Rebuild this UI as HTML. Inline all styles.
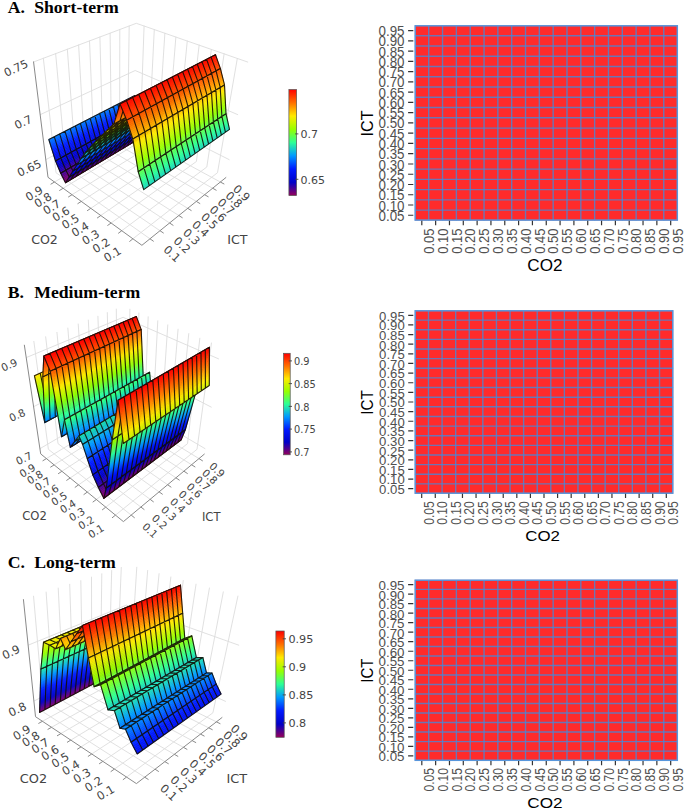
<!DOCTYPE html>
<html><head><meta charset="utf-8"><title>Figure</title>
<style>html,body{margin:0;padding:0;background:#fff}svg{display:block}</style></head><body>
<svg width="685" height="810" viewBox="0 0 685 810">
<rect width="685" height="810" fill="#fff"/>
<!-- plot A -->
<g><line x1="150.0" y1="238.8" x2="56.0" y2="172.7" stroke="#dcdcdc" stroke-width="0.9"/><line x1="132.9" y1="238.8" x2="217.5" y2="172.7" stroke="#dcdcdc" stroke-width="0.9"/><line x1="56.0" y1="172.7" x2="43.3" y2="57.8" stroke="#dcdcdc" stroke-width="0.9"/><line x1="217.5" y1="172.7" x2="237.4" y2="58.0" stroke="#dcdcdc" stroke-width="0.9"/><line x1="160.0" y1="230.7" x2="66.0" y2="167.0" stroke="#dcdcdc" stroke-width="0.9"/><line x1="121.8" y1="230.7" x2="206.8" y2="167.0" stroke="#dcdcdc" stroke-width="0.9"/><line x1="66.0" y1="167.0" x2="55.6" y2="53.2" stroke="#dcdcdc" stroke-width="0.9"/><line x1="206.8" y1="167.0" x2="224.2" y2="53.4" stroke="#dcdcdc" stroke-width="0.9"/><line x1="169.6" y1="223.0" x2="75.7" y2="161.5" stroke="#dcdcdc" stroke-width="0.9"/><line x1="111.1" y1="223.0" x2="196.4" y2="161.5" stroke="#dcdcdc" stroke-width="0.9"/><line x1="75.7" y1="161.5" x2="67.3" y2="48.8" stroke="#dcdcdc" stroke-width="0.9"/><line x1="196.4" y1="161.5" x2="211.4" y2="49.0" stroke="#dcdcdc" stroke-width="0.9"/><line x1="178.8" y1="215.5" x2="85.0" y2="156.1" stroke="#dcdcdc" stroke-width="0.9"/><line x1="100.8" y1="215.5" x2="186.3" y2="156.1" stroke="#dcdcdc" stroke-width="0.9"/><line x1="85.0" y1="156.1" x2="78.6" y2="44.6" stroke="#dcdcdc" stroke-width="0.9"/><line x1="186.3" y1="156.1" x2="199.2" y2="44.7" stroke="#dcdcdc" stroke-width="0.9"/><line x1="187.7" y1="208.3" x2="94.1" y2="150.9" stroke="#dcdcdc" stroke-width="0.9"/><line x1="90.8" y1="208.3" x2="176.5" y2="150.9" stroke="#dcdcdc" stroke-width="0.9"/><line x1="94.1" y1="150.9" x2="89.5" y2="40.5" stroke="#dcdcdc" stroke-width="0.9"/><line x1="176.5" y1="150.9" x2="187.3" y2="40.6" stroke="#dcdcdc" stroke-width="0.9"/><line x1="196.3" y1="201.4" x2="102.9" y2="145.9" stroke="#dcdcdc" stroke-width="0.9"/><line x1="81.3" y1="201.4" x2="167.1" y2="145.9" stroke="#dcdcdc" stroke-width="0.9"/><line x1="102.9" y1="145.9" x2="99.9" y2="36.6" stroke="#dcdcdc" stroke-width="0.9"/><line x1="167.1" y1="145.9" x2="175.9" y2="36.7" stroke="#dcdcdc" stroke-width="0.9"/><line x1="204.6" y1="194.7" x2="111.4" y2="141.0" stroke="#dcdcdc" stroke-width="0.9"/><line x1="72.0" y1="194.7" x2="157.9" y2="141.0" stroke="#dcdcdc" stroke-width="0.9"/><line x1="111.4" y1="141.0" x2="110.1" y2="32.8" stroke="#dcdcdc" stroke-width="0.9"/><line x1="157.9" y1="141.0" x2="164.9" y2="32.8" stroke="#dcdcdc" stroke-width="0.9"/><line x1="212.6" y1="188.2" x2="119.6" y2="136.3" stroke="#dcdcdc" stroke-width="0.9"/><line x1="63.1" y1="188.3" x2="149.0" y2="136.3" stroke="#dcdcdc" stroke-width="0.9"/><line x1="119.6" y1="136.3" x2="119.8" y2="29.1" stroke="#dcdcdc" stroke-width="0.9"/><line x1="149.0" y1="136.3" x2="154.3" y2="29.2" stroke="#dcdcdc" stroke-width="0.9"/><line x1="220.3" y1="182.0" x2="127.7" y2="131.7" stroke="#dcdcdc" stroke-width="0.9"/><line x1="54.5" y1="182.0" x2="140.3" y2="131.7" stroke="#dcdcdc" stroke-width="0.9"/><line x1="127.7" y1="131.7" x2="129.2" y2="25.6" stroke="#dcdcdc" stroke-width="0.9"/><line x1="140.3" y1="131.7" x2="144.1" y2="25.6" stroke="#dcdcdc" stroke-width="0.9"/><line x1="45.8" y1="159.7" x2="134.2" y2="111.8" stroke="#dcdcdc" stroke-width="0.9"/><line x1="134.2" y1="111.8" x2="229.5" y2="159.8" stroke="#dcdcdc" stroke-width="0.9"/><line x1="40.1" y1="114.7" x2="135.2" y2="70.5" stroke="#dcdcdc" stroke-width="0.9"/><line x1="135.2" y1="70.5" x2="238.1" y2="114.8" stroke="#dcdcdc" stroke-width="0.9"/><line x1="33.5" y1="62.0" x2="136.3" y2="23.3" stroke="#dcdcdc" stroke-width="0.9"/><line x1="136.3" y1="23.3" x2="248.1" y2="62.2" stroke="#dcdcdc" stroke-width="0.9"/></g>
<line x1="48.0" y1="177.3" x2="141.9" y2="245.3" stroke="#8a8a8a" stroke-width="1"/>
<line x1="141.9" y1="245.3" x2="226.2" y2="177.3" stroke="#8a8a8a" stroke-width="1"/>
<line x1="48.0" y1="177.3" x2="33.5" y2="61.5" stroke="#8a8a8a" stroke-width="1"/>
<g><polygon points="48.8,139.5 134.8,95.5 135.0,96.6 49.2,140.8" fill="#007dff" stroke="#007dff" stroke-width="0.6"/><polygon points="49.2,140.8 135.0,96.6 135.3,97.8 49.6,142.1" fill="#0072ff" stroke="#0072ff" stroke-width="0.6"/><polygon points="49.6,142.1 135.3,97.8 135.5,98.9 50.0,143.3" fill="#0067ff" stroke="#0067ff" stroke-width="0.6"/><polygon points="50.0,143.3 135.5,98.9 135.8,100.1 50.4,144.6" fill="#005cff" stroke="#005cff" stroke-width="0.6"/><polygon points="50.4,144.6 135.8,100.1 136.0,101.2 50.8,145.9" fill="#0052ff" stroke="#0052ff" stroke-width="0.6"/><polygon points="50.8,145.9 136.0,101.2 136.3,102.4 51.2,147.2" fill="#0047ff" stroke="#0047ff" stroke-width="0.6"/><polygon points="51.2,147.2 136.3,102.4 136.5,103.5 51.6,148.4" fill="#003cff" stroke="#003cff" stroke-width="0.6"/><polygon points="51.6,148.4 136.5,103.5 136.8,104.6 52.0,149.7" fill="#0031ff" stroke="#0031ff" stroke-width="0.6"/><polygon points="52.0,149.7 136.8,104.6 137.0,105.8 52.4,150.9" fill="#0027ff" stroke="#0027ff" stroke-width="0.6"/><polygon points="52.4,150.9 137.0,105.8 137.2,106.9 52.8,152.2" fill="#001cff" stroke="#001cff" stroke-width="0.6"/><polygon points="52.8,152.2 137.2,106.9 137.5,108.0 53.2,153.5" fill="#0017fc" stroke="#0017fc" stroke-width="0.6"/><polygon points="53.2,153.5 137.5,108.0 137.7,109.2 53.6,154.7" fill="#0015f7" stroke="#0015f7" stroke-width="0.6"/><polygon points="53.6,154.7 137.7,109.2 138.0,110.3 53.9,155.9" fill="#0013f2" stroke="#0013f2" stroke-width="0.6"/><polygon points="53.9,155.9 138.0,110.3 138.2,111.4 54.3,157.2" fill="#0011ee" stroke="#0011ee" stroke-width="0.6"/><polygon points="54.3,157.2 138.2,111.4 138.5,112.5 54.7,158.4" fill="#000fe9" stroke="#000fe9" stroke-width="0.6"/><polygon points="54.7,158.4 138.5,112.5 138.7,113.6 55.1,159.7" fill="#000de4" stroke="#000de4" stroke-width="0.6"/><polygon points="55.1,159.7 138.7,113.6 139.0,114.8 55.5,160.9" fill="#000be0" stroke="#000be0" stroke-width="0.6"/><path d="M48.8 139.5L55.5 160.9M54.3 136.7L60.8 158.0M59.7 133.9L66.1 155.1M65.0 131.2L71.2 152.2M70.2 128.5L76.3 149.4M75.4 125.9L81.2 146.7M80.4 123.3L86.1 144.0M85.4 120.8L90.9 141.3M90.2 118.3L95.7 138.7M95.0 115.8L100.3 136.1M99.7 113.4L104.9 133.6M104.4 111.1L109.4 131.1M108.9 108.7L113.8 128.7M113.4 106.4L118.2 126.3M117.8 104.2L122.5 123.9M122.1 101.9L126.7 121.6M126.4 99.8L130.8 119.3M130.6 97.6L134.9 117.0M134.8 95.5L139.0 114.8M48.8 139.5L134.8 95.5M55.5 160.9L139.0 114.8" stroke="#120d06" stroke-opacity="0.9" stroke-width="1.12" fill="none" stroke-linecap="round"/><polygon points="55.5,160.9 139.0,114.8 139.4,116.0 56.1,162.3" fill="#0009db" stroke="#0009db" stroke-width="0.6"/><polygon points="56.1,162.3 139.4,116.0 139.8,117.2 56.7,163.7" fill="#0006d6" stroke="#0006d6" stroke-width="0.6"/><polygon points="56.7,163.7 139.8,117.2 140.3,118.5 57.2,165.1" fill="#0004d1" stroke="#0004d1" stroke-width="0.6"/><polygon points="57.2,165.1 140.3,118.5 140.7,119.7 57.8,166.4" fill="#0002cd" stroke="#0002cd" stroke-width="0.6"/><polygon points="57.8,166.4 140.7,119.7 141.1,120.9 58.4,167.8" fill="#0100c8" stroke="#0100c8" stroke-width="0.6"/><polygon points="58.4,167.8 141.1,120.9 141.6,122.1 59.0,169.2" fill="#0e00be" stroke="#0e00be" stroke-width="0.6"/><polygon points="59.0,169.2 141.6,122.1 142.0,123.4 59.6,170.6" fill="#1b00b5" stroke="#1b00b5" stroke-width="0.6"/><polygon points="59.6,170.6 142.0,123.4 142.4,124.6 60.1,171.9" fill="#2800ab" stroke="#2800ab" stroke-width="0.6"/><polygon points="60.1,171.9 142.4,124.6 142.9,125.8 60.7,173.3" fill="#3500a1" stroke="#3500a1" stroke-width="0.6"/><path d="M55.5 160.9L60.7 173.3M60.8 158.0L65.9 170.3M66.1 155.1L71.1 167.3M71.2 152.2L76.1 164.4M76.3 149.4L81.1 161.5M81.2 146.7L86.0 158.7M86.1 144.0L90.8 155.9M90.9 141.3L95.6 153.1M95.7 138.7L100.2 150.5M100.3 136.1L104.8 147.8M104.9 133.6L109.3 145.2M109.4 131.1L113.7 142.6M113.8 128.7L118.1 140.1M118.2 126.3L122.4 137.6M122.5 123.9L126.6 135.2M126.7 121.6L130.8 132.8M130.8 119.3L134.8 130.4M134.9 117.0L138.9 128.1M139.0 114.8L142.9 125.8M55.5 160.9L139.0 114.8M60.7 173.3L142.9 125.8" stroke="#120d06" stroke-opacity="0.9" stroke-width="1.12" fill="none" stroke-linecap="round"/><polygon points="60.7,173.3 142.9,125.8 143.4,127.0 61.4,174.6" fill="#410098" stroke="#410098" stroke-width="0.6"/><polygon points="61.4,174.6 143.4,127.0 144.0,128.2 62.1,176.0" fill="#4d0090" stroke="#4d0090" stroke-width="0.6"/><polygon points="62.1,176.0 144.0,128.2 144.5,129.3 62.8,177.3" fill="#580087" stroke="#580087" stroke-width="0.6"/><polygon points="62.8,177.3 144.5,129.3 145.1,130.5 63.4,178.7" fill="#64007f" stroke="#64007f" stroke-width="0.6"/><polygon points="63.4,178.7 145.1,130.5 145.7,131.7 64.1,180.0" fill="#700076" stroke="#700076" stroke-width="0.6"/><polygon points="64.1,180.0 145.7,131.7 146.2,132.9 64.8,181.4" fill="#7b006e" stroke="#7b006e" stroke-width="0.6"/><polygon points="64.8,181.4 146.2,132.9 146.8,134.1 65.5,182.7" fill="#870065" stroke="#870065" stroke-width="0.6"/><path d="M60.7 173.3L65.5 182.7M65.9 170.3L70.7 179.6M71.1 167.3L75.8 176.6M76.1 164.4L80.8 173.6M81.1 161.5L85.7 170.6M86.0 158.7L90.5 167.7M90.8 155.9L95.3 164.9M95.6 153.1L100.0 162.1M100.2 150.5L104.6 159.3M104.8 147.8L109.1 156.6M109.3 145.2L113.6 153.9M113.7 142.6L117.9 151.3M118.1 140.1L122.3 148.7M122.4 137.6L126.5 146.2M126.6 135.2L130.7 143.7M130.8 132.8L134.8 141.2M134.8 130.4L138.8 138.8M138.9 128.1L142.8 136.4M142.9 125.8L146.8 134.1M60.7 173.3L142.9 125.8M65.5 182.7L146.8 134.1" stroke="#120d06" stroke-opacity="0.9" stroke-width="1.12" fill="none" stroke-linecap="round"/><polygon points="65.5,182.7 146.8,134.1 147.3,133.4 65.9,182.1" fill="#870065" stroke="#870065" stroke-width="0.6"/><polygon points="65.9,182.1 147.3,133.4 147.8,132.8 66.3,181.5" fill="#7a006e" stroke="#7a006e" stroke-width="0.6"/><polygon points="66.3,181.5 147.8,132.8 148.4,132.1 66.7,180.8" fill="#6e0077" stroke="#6e0077" stroke-width="0.6"/><polygon points="66.7,180.8 148.4,132.1 148.9,131.4 67.1,180.2" fill="#620080" stroke="#620080" stroke-width="0.6"/><polygon points="67.1,180.2 148.9,131.4 149.5,130.8 67.5,179.6" fill="#55008a" stroke="#55008a" stroke-width="0.6"/><polygon points="67.5,179.6 149.5,130.8 150.0,130.1 67.9,178.9" fill="#490093" stroke="#490093" stroke-width="0.6"/><polygon points="67.9,178.9 150.0,130.1 150.6,129.4 68.4,178.3" fill="#3d009c" stroke="#3d009c" stroke-width="0.6"/><polygon points="68.4,178.3 150.6,129.4 151.1,128.8 68.8,177.6" fill="#3000a5" stroke="#3000a5" stroke-width="0.6"/><polygon points="68.8,177.6 151.1,128.8 151.7,128.1 69.2,177.0" fill="#2400ae" stroke="#2400ae" stroke-width="0.6"/><path d="M65.5 182.7L69.2 177.0M70.7 179.6L74.5 173.9M75.8 176.6L79.7 170.8M80.8 173.6L84.8 167.8M85.7 170.6L89.8 164.8M90.5 167.7L94.7 161.9M95.3 164.9L99.5 159.0M100.0 162.1L104.3 156.2M104.6 159.3L108.9 153.4M109.1 156.6L113.5 150.7M113.6 153.9L118.0 148.0M117.9 151.3L122.5 145.4M122.3 148.7L126.9 142.8M126.5 146.2L131.2 140.3M130.7 143.7L135.4 137.8M134.8 141.2L139.6 135.3M138.8 138.8L143.7 132.9M142.8 136.4L147.7 130.5M146.8 134.1L151.7 128.1M65.5 182.7L146.8 134.1M69.2 177.0L151.7 128.1" stroke="#120d06" stroke-opacity="0.9" stroke-width="1.02" fill="none" stroke-linecap="round"/><polygon points="69.2,177.0 151.7,128.1 152.2,127.4 69.6,176.3" fill="#1800b7" stroke="#1800b7" stroke-width="0.6"/><polygon points="69.6,176.3 152.2,127.4 152.8,126.7 70.0,175.7" fill="#0b00c0" stroke="#0b00c0" stroke-width="0.6"/><polygon points="70.0,175.7 152.8,126.7 153.4,126.1 70.4,175.0" fill="#0000c8" stroke="#0000c8" stroke-width="0.6"/><polygon points="70.4,175.0 153.4,126.1 153.9,125.4 70.9,174.4" fill="#0002cd" stroke="#0002cd" stroke-width="0.6"/><polygon points="70.9,174.4 153.9,125.4 154.5,124.7 71.3,173.7" fill="#0004d1" stroke="#0004d1" stroke-width="0.6"/><polygon points="71.3,173.7 154.5,124.7 155.0,124.0 71.7,173.0" fill="#0006d6" stroke="#0006d6" stroke-width="0.6"/><polygon points="71.7,173.0 155.0,124.0 155.6,123.3 72.1,172.4" fill="#0008da" stroke="#0008da" stroke-width="0.6"/><polygon points="72.1,172.4 155.6,123.3 156.2,122.6 72.6,171.7" fill="#000adf" stroke="#000adf" stroke-width="0.6"/><polygon points="72.6,171.7 156.2,122.6 156.7,121.9 73.0,171.0" fill="#000ce3" stroke="#000ce3" stroke-width="0.6"/><path d="M69.2 177.0L73.0 171.0M74.5 173.9L78.4 167.8M79.7 170.8L83.6 164.8M84.8 167.8L88.8 161.7M89.8 164.8L93.9 158.7M94.7 161.9L98.9 155.8M99.5 159.0L103.8 152.9M104.3 156.2L108.7 150.1M108.9 153.4L113.4 147.3M113.5 150.7L118.1 144.6M118.0 148.0L122.7 141.9M122.5 145.4L127.2 139.2M126.9 142.8L131.6 136.6M131.2 140.3L136.0 134.1M135.4 137.8L140.3 131.6M139.6 135.3L144.5 129.1M143.7 132.9L148.6 126.6M147.7 130.5L152.7 124.3M151.7 128.1L156.7 121.9M69.2 177.0L151.7 128.1M73.0 171.0L156.7 121.9" stroke="#120d06" stroke-opacity="0.9" stroke-width="1.02" fill="none" stroke-linecap="round"/><polygon points="73.0,171.0 156.7,121.9 157.3,121.2 73.4,170.3" fill="#000ee8" stroke="#000ee8" stroke-width="0.6"/><polygon points="73.4,170.3 157.3,121.2 157.9,120.5 73.9,169.6" fill="#0011ec" stroke="#0011ec" stroke-width="0.6"/><polygon points="73.9,169.6 157.9,120.5 158.5,119.8 74.3,168.9" fill="#0013f1" stroke="#0013f1" stroke-width="0.6"/><polygon points="74.3,168.9 158.5,119.8 159.1,119.0 74.8,168.2" fill="#0015f5" stroke="#0015f5" stroke-width="0.6"/><polygon points="74.8,168.2 159.1,119.0 159.7,118.3 75.3,167.5" fill="#0017fa" stroke="#0017fa" stroke-width="0.6"/><polygon points="75.3,167.5 159.7,118.3 160.3,117.6 75.7,166.8" fill="#0019ff" stroke="#0019ff" stroke-width="0.6"/><polygon points="75.7,166.8 160.3,117.6 160.9,116.9 76.2,166.1" fill="#0022ff" stroke="#0022ff" stroke-width="0.6"/><polygon points="76.2,166.1 160.9,116.9 161.5,116.1 76.6,165.4" fill="#002dff" stroke="#002dff" stroke-width="0.6"/><polygon points="76.6,165.4 161.5,116.1 162.1,115.4 77.1,164.7" fill="#0037ff" stroke="#0037ff" stroke-width="0.6"/><path d="M73.0 171.0L77.1 164.7M78.4 167.8L82.6 161.5M83.6 164.8L87.9 158.4M88.8 161.7L93.2 155.4M93.9 158.7L98.4 152.4M98.9 155.8L103.5 149.4M103.8 152.9L108.5 146.5M108.7 150.1L113.4 143.7M113.4 147.3L118.2 140.9M118.1 144.6L122.9 138.1M122.7 141.9L127.6 135.4M127.2 139.2L132.2 132.8M131.6 136.6L136.7 130.2M136.0 134.1L141.1 127.6M140.3 131.6L145.4 125.1M144.5 129.1L149.7 122.6M148.6 126.6L153.9 120.2M152.7 124.3L158.1 117.8M156.7 121.9L162.1 115.4M73.0 171.0L156.7 121.9M77.1 164.7L162.1 115.4" stroke="#120d06" stroke-opacity="0.9" stroke-width="1.02" fill="none" stroke-linecap="round"/><polygon points="77.1,164.7 162.1,115.4 162.7,114.7 77.6,164.0" fill="#0042ff" stroke="#0042ff" stroke-width="0.6"/><polygon points="77.6,164.0 162.7,114.7 163.4,113.9 78.0,163.3" fill="#004cff" stroke="#004cff" stroke-width="0.6"/><polygon points="78.0,163.3 163.4,113.9 164.0,113.2 78.5,162.5" fill="#0056ff" stroke="#0056ff" stroke-width="0.6"/><polygon points="78.5,162.5 164.0,113.2 164.6,112.4 79.0,161.8" fill="#0061ff" stroke="#0061ff" stroke-width="0.6"/><polygon points="79.0,161.8 164.6,112.4 165.2,111.7 79.5,161.1" fill="#006bff" stroke="#006bff" stroke-width="0.6"/><polygon points="79.5,161.1 165.2,111.7 165.8,110.9 79.9,160.3" fill="#0076ff" stroke="#0076ff" stroke-width="0.6"/><polygon points="79.9,160.3 165.8,110.9 166.5,110.2 80.4,159.6" fill="#0080ff" stroke="#0080ff" stroke-width="0.6"/><polygon points="80.4,159.6 166.5,110.2 167.1,109.4 80.9,158.9" fill="#008aff" stroke="#008aff" stroke-width="0.6"/><polygon points="80.9,158.9 167.1,109.4 167.7,108.7 81.4,158.1" fill="#0095ff" stroke="#0095ff" stroke-width="0.6"/><path d="M77.1 164.7L81.4 158.1M82.6 161.5L87.0 154.9M87.9 158.4L92.5 151.8M93.2 155.4L97.8 148.7M98.4 152.4L103.1 145.7M103.5 149.4L108.3 142.7M108.5 146.5L113.3 139.8M113.4 143.7L118.3 137.0M118.2 140.9L123.2 134.2M122.9 138.1L128.0 131.4M127.6 135.4L132.8 128.7M132.2 132.8L137.4 126.0M136.7 130.2L142.0 123.4M141.1 127.6L146.4 120.9M145.4 125.1L150.8 118.3M149.7 122.6L155.2 115.9M153.9 120.2L159.4 113.4M158.1 117.8L163.6 111.0M162.1 115.4L167.7 108.7M77.1 164.7L162.1 115.4M81.4 158.1L167.7 108.7" stroke="#120d06" stroke-opacity="0.9" stroke-width="1.02" fill="none" stroke-linecap="round"/><polygon points="81.4,158.1 167.7,108.7 168.5,107.9 82.0,157.4" fill="#039ef9" stroke="#039ef9" stroke-width="0.6"/><polygon points="82.0,157.4 168.5,107.9 169.2,107.1 82.6,156.6" fill="#06a7f0" stroke="#06a7f0" stroke-width="0.6"/><polygon points="82.6,156.6 169.2,107.1 169.9,106.4 83.1,155.9" fill="#0aafe7" stroke="#0aafe7" stroke-width="0.6"/><polygon points="83.1,155.9 169.9,106.4 170.7,105.6 83.7,155.1" fill="#0eb8de" stroke="#0eb8de" stroke-width="0.6"/><polygon points="83.7,155.1 170.7,105.6 171.4,104.8 84.3,154.4" fill="#11c1d6" stroke="#11c1d6" stroke-width="0.6"/><polygon points="84.3,154.4 171.4,104.8 172.1,104.0 84.9,153.6" fill="#15c9cd" stroke="#15c9cd" stroke-width="0.6"/><polygon points="84.9,153.6 172.1,104.0 172.9,103.3 85.5,152.9" fill="#19d2c4" stroke="#19d2c4" stroke-width="0.6"/><polygon points="85.5,152.9 172.9,103.3 173.6,102.5 86.1,152.1" fill="#1cdbbb" stroke="#1cdbbb" stroke-width="0.6"/><path d="M81.4 158.1L86.1 152.1M87.0 154.9L91.8 148.9M92.5 151.8L97.3 145.7M97.8 148.7L102.8 142.6M103.1 145.7L108.2 139.6M108.3 142.7L113.4 136.6M113.3 139.8L118.6 133.7M118.3 137.0L123.6 130.8M123.2 134.2L128.6 128.0M128.0 131.4L133.5 125.2M132.8 128.7L138.3 122.5M137.4 126.0L143.0 119.9M142.0 123.4L147.6 117.2M146.4 120.9L152.1 114.7M150.8 118.3L156.6 112.2M155.2 115.9L160.9 109.7M159.4 113.4L165.2 107.2M163.6 111.0L169.5 104.8M167.7 108.7L173.6 102.5M81.4 158.1L167.7 108.7M86.1 152.1L173.6 102.5" stroke="#120d06" stroke-opacity="0.9" stroke-width="1.42" fill="none" stroke-linecap="round"/><polygon points="86.1,152.1 173.6,102.5 174.5,101.7 86.8,151.3" fill="#20e4b2" stroke="#20e4b2" stroke-width="0.6"/><polygon points="86.8,151.3 174.5,101.7 175.4,100.9 87.5,150.6" fill="#24eda9" stroke="#24eda9" stroke-width="0.6"/><polygon points="87.5,150.6 175.4,100.9 176.2,100.1 88.2,149.8" fill="#28f6a0" stroke="#28f6a0" stroke-width="0.6"/><polygon points="88.2,149.8 176.2,100.1 177.1,99.3 88.9,149.0" fill="#2cfe97" stroke="#2cfe97" stroke-width="0.6"/><polygon points="88.9,149.0 177.1,99.3 178.0,98.5 89.6,148.3" fill="#35ff8a" stroke="#35ff8a" stroke-width="0.6"/><polygon points="89.6,148.3 178.0,98.5 178.9,97.7 90.4,147.5" fill="#3eff7d" stroke="#3eff7d" stroke-width="0.6"/><polygon points="90.4,147.5 178.9,97.7 179.7,96.8 91.1,146.7" fill="#47ff6f" stroke="#47ff6f" stroke-width="0.6"/><path d="M86.1 152.1L91.1 146.7M91.8 148.9L96.9 143.5M97.3 145.7L102.5 140.3M102.8 142.6L108.1 137.2M108.2 139.6L113.5 134.1M113.4 136.6L118.8 131.1M118.6 133.7L124.1 128.2M123.6 130.8L129.2 125.3M128.6 128.0L134.2 122.5M133.5 125.2L139.1 119.7M138.3 122.5L144.0 117.0M143.0 119.9L148.7 114.3M147.6 117.2L153.4 111.7M152.1 114.7L158.0 109.1M156.6 112.2L162.5 106.5M160.9 109.7L166.9 104.1M165.2 107.2L171.3 101.6M169.5 104.8L175.5 99.2M173.6 102.5L179.7 96.8M86.1 152.1L173.6 102.5M91.1 146.7L179.7 96.8" stroke="#120d06" stroke-opacity="0.9" stroke-width="1.42" fill="none" stroke-linecap="round"/><polygon points="91.1,146.7 179.7,96.8 180.6,96.0 91.8,145.9" fill="#51ff62" stroke="#51ff62" stroke-width="0.6"/><polygon points="91.8,145.9 180.6,96.0 181.5,95.2 92.6,145.1" fill="#5aff56" stroke="#5aff56" stroke-width="0.6"/><polygon points="92.6,145.1 181.5,95.2 182.4,94.4 93.3,144.3" fill="#63ff49" stroke="#63ff49" stroke-width="0.6"/><polygon points="93.3,144.3 182.4,94.4 183.3,93.6 94.0,143.5" fill="#6cff3c" stroke="#6cff3c" stroke-width="0.6"/><polygon points="94.0,143.5 183.3,93.6 184.2,92.7 94.8,142.7" fill="#76ff2f" stroke="#76ff2f" stroke-width="0.6"/><polygon points="94.8,142.7 184.2,92.7 185.1,91.9 95.5,141.9" fill="#7fff22" stroke="#7fff22" stroke-width="0.6"/><polygon points="95.5,141.9 185.1,91.9 186.0,91.1 96.3,141.1" fill="#88ff15" stroke="#88ff15" stroke-width="0.6"/><path d="M91.1 146.7L96.3 141.1M96.9 143.5L102.2 137.8M102.5 140.3L107.9 134.6M108.1 137.2L113.5 131.5M113.5 134.1L119.0 128.4M118.8 131.1L124.4 125.4M124.1 128.2L129.7 122.4M129.2 125.3L134.9 119.6M134.2 122.5L140.0 116.7M139.1 119.7L145.0 113.9M144.0 117.0L149.9 111.2M148.7 114.3L154.7 108.5M153.4 111.7L159.5 105.9M158.0 109.1L164.1 103.3M162.5 106.5L168.6 100.8M166.9 104.1L173.1 98.3M171.3 101.6L177.5 95.8M175.5 99.2L181.8 93.4M179.7 96.8L186.0 91.1M91.1 146.7L179.7 96.8M96.3 141.1L186.0 91.1" stroke="#120d06" stroke-opacity="0.9" stroke-width="1.42" fill="none" stroke-linecap="round"/><polygon points="96.3,141.1 186.0,91.1 187.0,90.3 97.1,140.3" fill="#91ff08" stroke="#91ff08" stroke-width="0.6"/><polygon points="97.1,140.3 187.0,90.3 187.9,89.5 97.9,139.6" fill="#9afe00" stroke="#9afe00" stroke-width="0.6"/><polygon points="97.9,139.6 187.9,89.5 188.8,88.7 98.7,138.8" fill="#a2fd00" stroke="#a2fd00" stroke-width="0.6"/><polygon points="98.7,138.8 188.8,88.7 189.8,87.9 99.5,138.0" fill="#abfb00" stroke="#abfb00" stroke-width="0.6"/><polygon points="99.5,138.0 189.8,87.9 190.7,87.1 100.3,137.3" fill="#b3f900" stroke="#b3f900" stroke-width="0.6"/><polygon points="100.3,137.3 190.7,87.1 191.7,86.3 101.1,136.5" fill="#bcf800" stroke="#bcf800" stroke-width="0.6"/><polygon points="101.1,136.5 191.7,86.3 192.7,85.4 101.9,135.7" fill="#c4f600" stroke="#c4f600" stroke-width="0.6"/><path d="M96.3 141.1L101.9 135.7M102.2 137.8L107.9 132.4M107.9 134.6L113.7 129.2M113.5 131.5L119.4 126.0M119.0 128.4L125.0 122.9M124.4 125.4L130.5 119.9M129.7 122.4L135.8 116.9M134.9 119.6L141.1 114.0M140.0 116.7L146.2 111.2M145.0 113.9L151.3 108.4M149.9 111.2L156.2 105.6M154.7 108.5L161.1 102.9M159.5 105.9L165.9 100.3M164.1 103.3L170.5 97.7M168.6 100.8L175.1 95.2M173.1 98.3L179.6 92.7M177.5 95.8L184.1 90.2M181.8 93.4L188.4 87.8M186.0 91.1L192.7 85.4M96.3 141.1L186.0 91.1M101.9 135.7L192.7 85.4" stroke="#120d06" stroke-opacity="0.9" stroke-width="1.42" fill="none" stroke-linecap="round"/><polygon points="101.9,135.7 192.7,85.4 193.6,84.6 102.7,134.9" fill="#cdf400" stroke="#cdf400" stroke-width="0.6"/><polygon points="102.7,134.9 193.6,84.6 194.6,83.8 103.5,134.1" fill="#d6f200" stroke="#d6f200" stroke-width="0.6"/><polygon points="103.5,134.1 194.6,83.8 195.5,82.9 104.3,133.3" fill="#def100" stroke="#def100" stroke-width="0.6"/><polygon points="104.3,133.3 195.5,82.9 196.5,82.1 105.1,132.4" fill="#e7ef00" stroke="#e7ef00" stroke-width="0.6"/><polygon points="105.1,132.4 196.5,82.1 197.5,81.2 105.9,131.6" fill="#efed00" stroke="#efed00" stroke-width="0.6"/><polygon points="105.9,131.6 197.5,81.2 198.4,80.4 106.8,130.7" fill="#f8eb00" stroke="#f8eb00" stroke-width="0.6"/><polygon points="106.8,130.7 198.4,80.4 199.4,79.5 107.6,129.9" fill="#ffe800" stroke="#ffe800" stroke-width="0.6"/><path d="M101.9 135.7L107.6 129.9M107.9 132.4L113.6 126.6M113.7 129.2L119.6 123.3M119.4 126.0L125.3 120.2M125.0 122.9L131.0 117.0M130.5 119.9L136.6 114.0M135.8 116.9L142.0 111.0M141.1 114.0L147.3 108.1M146.2 111.2L152.5 105.2M151.3 108.4L157.6 102.4M156.2 105.6L162.7 99.7M161.1 102.9L167.6 97.0M165.9 100.3L172.4 94.3M170.5 97.7L177.1 91.8M175.1 95.2L181.7 89.2M179.6 92.7L186.3 86.7M184.1 90.2L190.7 84.3M188.4 87.8L195.1 81.9M192.7 85.4L199.4 79.5M101.9 135.7L192.7 85.4M107.6 129.9L199.4 79.5" stroke="#120d06" stroke-opacity="0.9" stroke-width="1.42" fill="none" stroke-linecap="round"/><polygon points="107.6,129.9 199.4,79.5 200.4,78.6 108.5,129.1" fill="#ffde00" stroke="#ffde00" stroke-width="0.6"/><polygon points="108.5,129.1 200.4,78.6 201.5,77.8 109.4,128.2" fill="#ffd400" stroke="#ffd400" stroke-width="0.6"/><polygon points="109.4,128.2 201.5,77.8 202.5,76.9 110.3,127.4" fill="#ffca00" stroke="#ffca00" stroke-width="0.6"/><polygon points="110.3,127.4 202.5,76.9 203.6,76.0 111.2,126.5" fill="#ffc000" stroke="#ffc000" stroke-width="0.6"/><polygon points="111.2,126.5 203.6,76.0 204.6,75.2 112.1,125.6" fill="#ffb600" stroke="#ffb600" stroke-width="0.6"/><polygon points="112.1,125.6 204.6,75.2 205.7,74.3 113.0,124.8" fill="#ffac00" stroke="#ffac00" stroke-width="0.6"/><polygon points="113.0,124.8 205.7,74.3 206.7,73.4 113.9,123.9" fill="#ffa100" stroke="#ffa100" stroke-width="0.6"/><path d="M107.6 129.9L113.9 123.9M113.6 126.6L120.0 120.6M119.6 123.3L126.0 117.3M125.3 120.2L131.9 114.1M131.0 117.0L137.7 111.0M136.6 114.0L143.3 107.9M142.0 111.0L148.8 104.9M147.3 108.1L154.2 102.0M152.5 105.2L159.4 99.1M157.6 102.4L164.6 96.3M162.7 99.7L169.7 93.5M167.6 97.0L174.6 90.8M172.4 94.3L179.5 88.2M177.1 91.8L184.3 85.6M181.7 89.2L188.9 83.1M186.3 86.7L193.5 80.6M190.7 84.3L198.0 78.1M195.1 81.9L202.4 75.7M199.4 79.5L206.7 73.4M107.6 129.9L199.4 79.5M113.9 123.9L206.7 73.4" stroke="#120d06" stroke-opacity="0.9" stroke-width="1.42" fill="none" stroke-linecap="round"/><polygon points="113.9,123.9 206.7,73.4 207.3,72.2 114.3,122.6" fill="#ff9700" stroke="#ff9700" stroke-width="0.6"/><polygon points="114.3,122.6 207.3,72.2 207.9,71.0 114.7,121.3" fill="#ff8c00" stroke="#ff8c00" stroke-width="0.6"/><polygon points="114.7,121.3 207.9,71.0 208.4,69.8 115.1,120.1" fill="#ff8100" stroke="#ff8100" stroke-width="0.6"/><polygon points="115.1,120.1 208.4,69.8 209.0,68.6 115.5,118.8" fill="#ff7600" stroke="#ff7600" stroke-width="0.6"/><polygon points="115.5,118.8 209.0,68.6 209.6,67.4 115.9,117.4" fill="#ff6c00" stroke="#ff6c00" stroke-width="0.6"/><polygon points="115.9,117.4 209.6,67.4 210.2,66.1 116.3,116.1" fill="#ff6200" stroke="#ff6200" stroke-width="0.6"/><polygon points="116.3,116.1 210.2,66.1 210.8,64.9 116.7,114.8" fill="#ff5800" stroke="#ff5800" stroke-width="0.6"/><polygon points="116.7,114.8 210.8,64.9 211.3,63.7 117.1,113.5" fill="#ff4e00" stroke="#ff4e00" stroke-width="0.6"/><polygon points="117.1,113.5 211.3,63.7 211.9,62.4 117.5,112.1" fill="#ff4400" stroke="#ff4400" stroke-width="0.6"/><polygon points="117.5,112.1 211.9,62.4 212.5,61.2 117.9,110.8" fill="#ff3b00" stroke="#ff3b00" stroke-width="0.6"/><polygon points="117.9,110.8 212.5,61.2 213.1,59.9 118.3,109.4" fill="#ff3100" stroke="#ff3100" stroke-width="0.6"/><polygon points="118.3,109.4 213.1,59.9 213.7,58.7 118.7,108.1" fill="#ff2700" stroke="#ff2700" stroke-width="0.6"/><polygon points="118.7,108.1 213.7,58.7 214.3,57.4 119.2,106.7" fill="#ff1d00" stroke="#ff1d00" stroke-width="0.6"/><polygon points="119.2,106.7 214.3,57.4 214.9,56.1 119.6,105.3" fill="#ff1300" stroke="#ff1300" stroke-width="0.6"/><polygon points="119.6,105.3 214.9,56.1 215.5,54.8 120.0,103.9" fill="#ff0900" stroke="#ff0900" stroke-width="0.6"/><path d="M113.9 123.9L120.0 103.9M120.0 120.6L126.4 100.6M126.0 117.3L132.6 97.4M131.9 114.1L138.7 94.3M137.7 111.0L144.6 91.3M143.3 107.9L150.4 88.3M148.8 104.9L156.1 85.4M154.2 102.0L161.6 82.5M159.4 99.1L167.1 79.7M164.6 96.3L172.4 77.0M169.7 93.5L177.6 74.3M174.6 90.8L182.7 71.7M179.5 88.2L187.7 69.2M184.3 85.6L192.5 66.6M188.9 83.1L197.3 64.2M193.5 80.6L202.0 61.8M198.0 78.1L206.6 59.4M202.4 75.7L211.1 57.1M206.7 73.4L215.5 54.8M113.9 123.9L206.7 73.4M120.0 103.9L215.5 54.8" stroke="#120d06" stroke-opacity="0.9" stroke-width="1.12" fill="none" stroke-linecap="round"/><polygon points="120.0,103.9 215.5,54.8 216.1,56.4 120.8,105.7" fill="#ff0900" stroke="#ff0900" stroke-width="0.6"/><polygon points="120.8,105.7 216.1,56.4 216.6,57.9 121.5,107.5" fill="#ff1200" stroke="#ff1200" stroke-width="0.6"/><polygon points="121.5,107.5 216.6,57.9 217.2,59.5 122.2,109.4" fill="#ff1b00" stroke="#ff1b00" stroke-width="0.6"/><polygon points="122.2,109.4 217.2,59.5 217.7,61.0 123.0,111.2" fill="#ff2300" stroke="#ff2300" stroke-width="0.6"/><polygon points="123.0,111.2 217.7,61.0 218.2,62.5 123.7,113.0" fill="#ff2c00" stroke="#ff2c00" stroke-width="0.6"/><polygon points="123.7,113.0 218.2,62.5 218.8,64.1 124.5,114.8" fill="#ff3500" stroke="#ff3500" stroke-width="0.6"/><polygon points="124.5,114.8 218.8,64.1 219.3,65.6 125.2,116.6" fill="#ff3e00" stroke="#ff3e00" stroke-width="0.6"/><polygon points="125.2,116.6 219.3,65.6 219.9,67.1 126.0,118.4" fill="#ff4700" stroke="#ff4700" stroke-width="0.6"/><polygon points="126.0,118.4 219.9,67.1 220.4,68.6 126.7,120.2" fill="#ff5000" stroke="#ff5000" stroke-width="0.6"/><path d="M120.0 103.9L126.7 120.2M126.4 100.6L132.9 116.8M132.6 97.4L139.0 113.4M138.7 94.3L145.0 110.1M144.6 91.3L150.8 106.9M150.4 88.3L156.5 103.8M156.1 85.4L162.1 100.7M161.6 82.5L167.5 97.7M167.1 79.7L172.8 94.8M172.4 77.0L178.0 91.9M177.6 74.3L183.1 89.1M182.7 71.7L188.1 86.4M187.7 69.2L193.0 83.7M192.5 66.6L197.8 81.1M197.3 64.2L202.5 78.5M202.0 61.8L207.1 75.9M206.6 59.4L211.6 73.5M211.1 57.1L216.1 71.0M215.5 54.8L220.4 68.6M120.0 103.9L215.5 54.8M126.7 120.2L220.4 68.6" stroke="#120d06" stroke-opacity="0.9" stroke-width="1.12" fill="none" stroke-linecap="round"/><polygon points="126.7,120.2 220.4,68.6 220.8,70.1 127.3,121.9" fill="#ff5800" stroke="#ff5800" stroke-width="0.6"/><polygon points="127.3,121.9 220.8,70.1 221.1,71.6 127.8,123.7" fill="#ff6200" stroke="#ff6200" stroke-width="0.6"/><polygon points="127.8,123.7 221.1,71.6 221.5,73.1 128.4,125.4" fill="#ff6b00" stroke="#ff6b00" stroke-width="0.6"/><polygon points="128.4,125.4 221.5,73.1 221.9,74.6 129.0,127.1" fill="#ff7400" stroke="#ff7400" stroke-width="0.6"/><polygon points="129.0,127.1 221.9,74.6 222.3,76.1 129.5,128.9" fill="#ff7e00" stroke="#ff7e00" stroke-width="0.6"/><polygon points="129.5,128.9 222.3,76.1 222.6,77.5 130.1,130.6" fill="#ff8800" stroke="#ff8800" stroke-width="0.6"/><polygon points="130.1,130.6 222.6,77.5 223.0,79.0 130.7,132.3" fill="#ff9200" stroke="#ff9200" stroke-width="0.6"/><polygon points="130.7,132.3 223.0,79.0 223.4,80.5 131.2,134.0" fill="#ff9c00" stroke="#ff9c00" stroke-width="0.6"/><polygon points="131.2,134.0 223.4,80.5 223.7,81.9 131.8,135.7" fill="#ffa600" stroke="#ffa600" stroke-width="0.6"/><polygon points="131.8,135.7 223.7,81.9 224.1,83.4 132.3,137.4" fill="#ffb000" stroke="#ffb000" stroke-width="0.6"/><polygon points="132.3,137.4 224.1,83.4 224.5,84.9 132.9,139.1" fill="#ffba00" stroke="#ffba00" stroke-width="0.6"/><path d="M126.7 120.2L132.9 139.1M132.9 116.8L139.0 135.5M139.0 113.4L144.9 132.0M145.0 110.1L150.7 128.5M150.8 106.9L156.4 125.2M156.5 103.8L162.0 121.9M162.1 100.7L167.4 118.7M167.5 97.7L172.7 115.5M172.8 94.8L177.9 112.4M178.0 91.9L183.0 109.4M183.1 89.1L188.0 106.5M188.1 86.4L192.9 103.6M193.0 83.7L197.7 100.7M197.8 81.1L202.4 97.9M202.5 78.5L207.0 95.2M207.1 75.9L211.5 92.6M211.6 73.5L215.9 89.9M216.1 71.0L220.2 87.4M220.4 68.6L224.5 84.9M126.7 120.2L220.4 68.6M132.9 139.1L224.5 84.9" stroke="#120d06" stroke-opacity="0.9" stroke-width="1.12" fill="none" stroke-linecap="round"/><polygon points="132.9,139.1 224.5,84.9 224.5,86.3 133.2,140.7" fill="#ffc500" stroke="#ffc500" stroke-width="0.6"/><polygon points="133.2,140.7 224.5,86.3 224.6,87.7 133.4,142.3" fill="#ffcf00" stroke="#ffcf00" stroke-width="0.6"/><polygon points="133.4,142.3 224.6,87.7 224.7,89.1 133.7,143.9" fill="#ffda00" stroke="#ffda00" stroke-width="0.6"/><polygon points="133.7,143.9 224.7,89.1 224.8,90.5 133.9,145.5" fill="#ffe400" stroke="#ffe400" stroke-width="0.6"/><polygon points="133.9,145.5 224.8,90.5 224.8,91.9 134.2,147.1" fill="#fbeb00" stroke="#fbeb00" stroke-width="0.6"/><polygon points="134.2,147.1 224.8,91.9 224.9,93.3 134.5,148.7" fill="#f2ed00" stroke="#f2ed00" stroke-width="0.6"/><polygon points="134.5,148.7 224.9,93.3 225.0,94.7 134.7,150.3" fill="#e9ee00" stroke="#e9ee00" stroke-width="0.6"/><polygon points="134.7,150.3 225.0,94.7 225.0,96.1 135.0,151.8" fill="#e0f000" stroke="#e0f000" stroke-width="0.6"/><polygon points="135.0,151.8 225.0,96.1 225.1,97.5 135.2,153.4" fill="#d7f200" stroke="#d7f200" stroke-width="0.6"/><polygon points="135.2,153.4 225.1,97.5 225.2,98.8 135.5,154.9" fill="#cef400" stroke="#cef400" stroke-width="0.6"/><polygon points="135.5,154.9 225.2,98.8 225.3,100.2 135.7,156.5" fill="#c5f600" stroke="#c5f600" stroke-width="0.6"/><polygon points="135.7,156.5 225.3,100.2 225.3,101.6 136.0,158.0" fill="#bcf800" stroke="#bcf800" stroke-width="0.6"/><polygon points="136.0,158.0 225.3,101.6 225.4,102.9 136.2,159.6" fill="#b3f900" stroke="#b3f900" stroke-width="0.6"/><polygon points="136.2,159.6 225.4,102.9 225.5,104.3 136.5,161.1" fill="#aafb00" stroke="#aafb00" stroke-width="0.6"/><polygon points="136.5,161.1 225.5,104.3 225.5,105.7 136.7,162.6" fill="#a1fd00" stroke="#a1fd00" stroke-width="0.6"/><polygon points="136.7,162.6 225.5,105.7 225.6,107.0 137.0,164.2" fill="#98ff00" stroke="#98ff00" stroke-width="0.6"/><polygon points="137.0,164.2 225.6,107.0 225.7,108.4 137.2,165.7" fill="#8fff0b" stroke="#8fff0b" stroke-width="0.6"/><polygon points="137.2,165.7 225.7,108.4 225.7,109.7 137.5,167.2" fill="#86ff18" stroke="#86ff18" stroke-width="0.6"/><polygon points="137.5,167.2 225.7,109.7 225.8,111.1 137.7,168.7" fill="#7cff25" stroke="#7cff25" stroke-width="0.6"/><polygon points="137.7,168.7 225.8,111.1 225.9,112.4 138.0,170.2" fill="#73ff32" stroke="#73ff32" stroke-width="0.6"/><polygon points="138.0,170.2 225.9,112.4 226.0,113.7 138.2,171.7" fill="#6aff3f" stroke="#6aff3f" stroke-width="0.6"/><path d="M132.9 139.1L138.2 171.7M139.0 135.5L144.0 167.9M144.9 132.0L149.7 164.1M150.7 128.5L155.2 160.5M156.4 125.2L160.6 156.9M162.0 121.9L165.9 153.4M167.4 118.7L171.1 150.0M172.7 115.5L176.2 146.6M177.9 112.4L181.2 143.3M183.0 109.4L186.1 140.1M188.0 106.5L190.9 136.9M192.9 103.6L195.6 133.8M197.7 100.7L200.2 130.8M202.4 97.9L204.7 127.8M207.0 95.2L209.1 124.9M211.5 92.6L213.4 122.0M215.9 89.9L217.7 119.2M220.2 87.4L221.9 116.4M224.5 84.9L226.0 113.7M132.9 139.1L224.5 84.9M138.2 171.7L226.0 113.7" stroke="#120d06" stroke-opacity="0.9" stroke-width="1.12" fill="none" stroke-linecap="round"/><polygon points="138.2,171.7 226.0,113.7 226.3,115.2 138.7,173.3" fill="#61ff4c" stroke="#61ff4c" stroke-width="0.6"/><polygon points="138.7,173.3 226.3,115.2 226.6,116.6 139.2,175.0" fill="#58ff59" stroke="#58ff59" stroke-width="0.6"/><polygon points="139.2,175.0 226.6,116.6 226.9,118.0 139.7,176.6" fill="#4eff66" stroke="#4eff66" stroke-width="0.6"/><polygon points="139.7,176.6 226.9,118.0 227.2,119.5 140.2,178.3" fill="#45ff73" stroke="#45ff73" stroke-width="0.6"/><polygon points="140.2,178.3 227.2,119.5 227.6,120.9 140.7,179.9" fill="#3cff80" stroke="#3cff80" stroke-width="0.6"/><polygon points="140.7,179.9 227.6,120.9 227.9,122.3 141.2,181.5" fill="#33ff8d" stroke="#33ff8d" stroke-width="0.6"/><polygon points="141.2,181.5 227.9,122.3 228.2,123.7 141.7,183.2" fill="#2bfd99" stroke="#2bfd99" stroke-width="0.6"/><polygon points="141.7,183.2 228.2,123.7 228.5,125.2 142.2,184.8" fill="#27f4a2" stroke="#27f4a2" stroke-width="0.6"/><polygon points="142.2,184.8 228.5,125.2 228.8,126.6 142.7,186.4" fill="#23ebab" stroke="#23ebab" stroke-width="0.6"/><polygon points="142.7,186.4 228.8,126.6 229.1,128.0 143.2,188.0" fill="#20e2b4" stroke="#20e2b4" stroke-width="0.6"/><polygon points="143.2,188.0 229.1,128.0 229.5,129.4 143.7,189.6" fill="#1cd9bd" stroke="#1cd9bd" stroke-width="0.6"/><path d="M138.2 171.7L143.7 189.6M144.0 167.9L149.3 185.6M149.7 164.1L154.9 181.8M155.2 160.5L160.3 178.0M160.6 156.9L165.6 174.2M165.9 153.4L170.7 170.6M171.1 150.0L175.8 167.0M176.2 146.6L180.8 163.6M181.2 143.3L185.7 160.1M186.1 140.1L190.4 156.8M190.9 136.9L195.1 153.5M195.6 133.8L199.7 150.3M200.2 130.8L204.2 147.1M204.7 127.8L208.6 144.0M209.1 124.9L212.9 141.0M213.4 122.0L217.2 138.0M217.7 119.2L221.4 135.1M221.9 116.4L225.4 132.2M226.0 113.7L229.5 129.4M138.2 171.7L226.0 113.7M143.7 189.6L229.5 129.4" stroke="#120d06" stroke-opacity="0.9" stroke-width="1.12" fill="none" stroke-linecap="round"/></g>
<path d="M132.9 238.8l-3.5 2.8M150.0 238.8l3.7 2.6M121.8 230.7l-3.6 2.7M160.0 230.7l3.7 2.5M111.1 223.0l-3.7 2.6M169.6 223.0l3.8 2.5M100.8 215.5l-3.7 2.6M178.8 215.5l3.8 2.4M90.8 208.3l-3.7 2.5M187.7 208.3l3.8 2.4M81.3 201.4l-3.8 2.4M196.3 201.4l3.9 2.3M72.0 194.7l-3.8 2.4M204.6 194.7l3.9 2.2M63.1 188.3l-3.8 2.3M212.6 188.2l3.9 2.2M54.5 182.0l-3.9 2.3M220.3 182.0l4.0 2.1" stroke="#8a8a8a" stroke-width="1" fill="none"/><g font-family='"DejaVu Sans","Liberation Sans",sans-serif' fill="#444"><text transform="translate(112.6,254.6) rotate(-31)" font-size="11.3" text-anchor="middle" dominant-baseline="central">0.1</text><text transform="translate(171.7,254.1) rotate(43)" font-size="11.3" text-anchor="middle" dominant-baseline="central">0.1</text><text transform="translate(101.5,245.9) rotate(-31)" font-size="11.3" text-anchor="middle" dominant-baseline="central">0.2</text><text transform="translate(181.7,245.4) rotate(43)" font-size="11.3" text-anchor="middle" dominant-baseline="central">0.2</text><text transform="translate(90.8,237.6) rotate(-31)" font-size="11.3" text-anchor="middle" dominant-baseline="central">0.3</text><text transform="translate(191.2,237.1) rotate(43)" font-size="11.3" text-anchor="middle" dominant-baseline="central">0.3</text><text transform="translate(80.5,229.6) rotate(-31)" font-size="11.3" text-anchor="middle" dominant-baseline="central">0.4</text><text transform="translate(200.3,229.1) rotate(43)" font-size="11.3" text-anchor="middle" dominant-baseline="central">0.4</text><text transform="translate(70.6,221.9) rotate(-31)" font-size="11.3" text-anchor="middle" dominant-baseline="central">0.5</text><text transform="translate(209.1,221.4) rotate(43)" font-size="11.3" text-anchor="middle" dominant-baseline="central">0.5</text><text transform="translate(61.1,214.4) rotate(-31)" font-size="11.3" text-anchor="middle" dominant-baseline="central">0.6</text><text transform="translate(217.6,214.0) rotate(43)" font-size="11.3" text-anchor="middle" dominant-baseline="central">0.6</text><text transform="translate(51.9,207.3) rotate(-31)" font-size="11.3" text-anchor="middle" dominant-baseline="central">0.7</text><text transform="translate(225.8,206.9) rotate(43)" font-size="11.3" text-anchor="middle" dominant-baseline="central">0.7</text><text transform="translate(43.1,200.4) rotate(-31)" font-size="11.3" text-anchor="middle" dominant-baseline="central">0.8</text><text transform="translate(233.6,200.0) rotate(43)" font-size="11.3" text-anchor="middle" dominant-baseline="central">0.8</text><text transform="translate(34.5,193.8) rotate(-31)" font-size="11.3" text-anchor="middle" dominant-baseline="central">0.9</text><text transform="translate(241.2,193.4) rotate(43)" font-size="11.3" text-anchor="middle" dominant-baseline="central">0.9</text><text transform="translate(29.5,168.6) rotate(-25)" font-size="11.3" text-anchor="middle" dominant-baseline="central">0.65</text><text transform="translate(23.3,122.5) rotate(-25)" font-size="11.3" text-anchor="middle" dominant-baseline="central">0.7</text><text transform="translate(16.2,68.5) rotate(-25)" font-size="11.3" text-anchor="middle" dominant-baseline="central">0.75</text><text x="44.5" y="239.6" font-size="12.6" text-anchor="middle" dominant-baseline="central">CO2</text><text x="237.3" y="239.6" font-size="12.6" text-anchor="middle" dominant-baseline="central">ICT</text></g>
<defs><linearGradient id="cbA" x1="0" y1="0" x2="0" y2="1"><stop offset="0.000" stop-color="rgb(255,0,0)"/><stop offset="0.125" stop-color="rgb(255,111,0)"/><stop offset="0.250" stop-color="rgb(255,234,0)"/><stop offset="0.375" stop-color="rgb(151,255,0)"/><stop offset="0.500" stop-color="rgb(44,255,150)"/><stop offset="0.625" stop-color="rgb(0,152,255)"/><stop offset="0.750" stop-color="rgb(0,25,255)"/><stop offset="0.875" stop-color="rgb(0,0,200)"/><stop offset="1.000" stop-color="rgb(150,0,90)"/></linearGradient></defs><rect x="288.9" y="89.5" width="7.7" height="106.1" fill="url(#cbA)" stroke="#555" stroke-width="0.7"/><g font-family='"DejaVu Sans","Liberation Sans",sans-serif' fill="#444" font-size="11.0"><line x1="295.1" y1="133.9" x2="298.4" y2="133.9" stroke="#444" stroke-width="0.9"/><text x="300.6" y="134.7" dominant-baseline="central">0.7</text><line x1="295.1" y1="179.3" x2="298.4" y2="179.3" stroke="#444" stroke-width="0.9"/><text x="300.6" y="180.1" dominant-baseline="central">0.65</text></g>
<rect x="414.9" y="25.5" width="262.7" height="194.9" fill="#ff2b2b"/><path d="M428.73 25.5V220.4M442.55 25.5V220.4M456.38 25.5V220.4M470.21 25.5V220.4M484.03 25.5V220.4M497.86 25.5V220.4M511.68 25.5V220.4M525.51 25.5V220.4M539.34 25.5V220.4M553.16 25.5V220.4M566.99 25.5V220.4M580.82 25.5V220.4M594.64 25.5V220.4M608.47 25.5V220.4M622.29 25.5V220.4M636.12 25.5V220.4M649.95 25.5V220.4M663.77 25.5V220.4" stroke="#3f8ce0" stroke-opacity="0.76" stroke-width="1.4" fill="none"/><path d="M414.9 35.76H677.6M414.9 46.02H677.6M414.9 56.27H677.6M414.9 66.53H677.6M414.9 76.79H677.6M414.9 87.05H677.6M414.9 97.31H677.6M414.9 107.56H677.6M414.9 117.82H677.6M414.9 128.08H677.6M414.9 138.34H677.6M414.9 148.59H677.6M414.9 158.85H677.6M414.9 169.11H677.6M414.9 179.37H677.6M414.9 189.63H677.6M414.9 199.88H677.6M414.9 210.14H677.6" stroke="#3f8ce0" stroke-opacity="0.76" stroke-width="1.4" fill="none"/><rect x="415.20" y="25.80" width="262.10" height="194.30" fill="none" stroke="#5796dc" stroke-width="1.5"/><path d="M421.81 220.7v4.6M413.3 215.27h-5.2M435.64 220.7v4.6M413.3 205.01h-5.2M449.47 220.7v4.6M413.3 194.76h-5.2M463.29 220.7v4.6M413.3 184.50h-5.2M477.12 220.7v4.6M413.3 174.24h-5.2M490.94 220.7v4.6M413.3 163.98h-5.2M504.77 220.7v4.6M413.3 153.72h-5.2M518.60 220.7v4.6M413.3 143.47h-5.2M532.42 220.7v4.6M413.3 133.21h-5.2M546.25 220.7v4.6M413.3 122.95h-5.2M560.08 220.7v4.6M413.3 112.69h-5.2M573.90 220.7v4.6M413.3 102.43h-5.2M587.73 220.7v4.6M413.3 92.18h-5.2M601.56 220.7v4.6M413.3 81.92h-5.2M615.38 220.7v4.6M413.3 71.66h-5.2M629.21 220.7v4.6M413.3 61.40h-5.2M643.03 220.7v4.6M413.3 51.14h-5.2M656.86 220.7v4.6M413.3 40.89h-5.2M670.69 220.7v4.6M413.3 30.63h-5.2" stroke="#333" stroke-width="1.2" fill="none"/><g font-family='"Liberation Sans",sans-serif' fill="#505050" font-size="13.4"><text transform="translate(404.5,216.3) scale(0.998,1.035)" text-anchor="end" dominant-baseline="central">0.05</text><text transform="translate(433.9,228.6) scale(1.058,0.965) rotate(-90)" text-anchor="end">0.05</text><text transform="translate(404.5,206.0) scale(0.998,1.035)" text-anchor="end" dominant-baseline="central">0.10</text><text transform="translate(447.7,228.6) scale(1.058,0.965) rotate(-90)" text-anchor="end">0.10</text><text transform="translate(404.5,195.8) scale(0.998,1.035)" text-anchor="end" dominant-baseline="central">0.15</text><text transform="translate(461.5,228.6) scale(1.058,0.965) rotate(-90)" text-anchor="end">0.15</text><text transform="translate(404.5,185.5) scale(0.998,1.035)" text-anchor="end" dominant-baseline="central">0.20</text><text transform="translate(475.4,228.6) scale(1.058,0.965) rotate(-90)" text-anchor="end">0.20</text><text transform="translate(404.5,175.2) scale(0.998,1.035)" text-anchor="end" dominant-baseline="central">0.25</text><text transform="translate(489.2,228.6) scale(1.058,0.965) rotate(-90)" text-anchor="end">0.25</text><text transform="translate(404.5,165.0) scale(0.998,1.035)" text-anchor="end" dominant-baseline="central">0.30</text><text transform="translate(503.0,228.6) scale(1.058,0.965) rotate(-90)" text-anchor="end">0.30</text><text transform="translate(404.5,154.7) scale(0.998,1.035)" text-anchor="end" dominant-baseline="central">0.35</text><text transform="translate(516.9,228.6) scale(1.058,0.965) rotate(-90)" text-anchor="end">0.35</text><text transform="translate(404.5,144.5) scale(0.998,1.035)" text-anchor="end" dominant-baseline="central">0.40</text><text transform="translate(530.7,228.6) scale(1.058,0.965) rotate(-90)" text-anchor="end">0.40</text><text transform="translate(404.5,134.2) scale(0.998,1.035)" text-anchor="end" dominant-baseline="central">0.45</text><text transform="translate(544.5,228.6) scale(1.058,0.965) rotate(-90)" text-anchor="end">0.45</text><text transform="translate(404.5,123.9) scale(0.998,1.035)" text-anchor="end" dominant-baseline="central">0.50</text><text transform="translate(558.3,228.6) scale(1.058,0.965) rotate(-90)" text-anchor="end">0.50</text><text transform="translate(404.5,113.7) scale(0.998,1.035)" text-anchor="end" dominant-baseline="central">0.55</text><text transform="translate(572.2,228.6) scale(1.058,0.965) rotate(-90)" text-anchor="end">0.55</text><text transform="translate(404.5,103.4) scale(0.998,1.035)" text-anchor="end" dominant-baseline="central">0.60</text><text transform="translate(586.0,228.6) scale(1.058,0.965) rotate(-90)" text-anchor="end">0.60</text><text transform="translate(404.5,93.2) scale(0.998,1.035)" text-anchor="end" dominant-baseline="central">0.65</text><text transform="translate(599.8,228.6) scale(1.058,0.965) rotate(-90)" text-anchor="end">0.65</text><text transform="translate(404.5,82.9) scale(0.998,1.035)" text-anchor="end" dominant-baseline="central">0.70</text><text transform="translate(613.6,228.6) scale(1.058,0.965) rotate(-90)" text-anchor="end">0.70</text><text transform="translate(404.5,72.7) scale(0.998,1.035)" text-anchor="end" dominant-baseline="central">0.75</text><text transform="translate(627.5,228.6) scale(1.058,0.965) rotate(-90)" text-anchor="end">0.75</text><text transform="translate(404.5,62.4) scale(0.998,1.035)" text-anchor="end" dominant-baseline="central">0.80</text><text transform="translate(641.3,228.6) scale(1.058,0.965) rotate(-90)" text-anchor="end">0.80</text><text transform="translate(404.5,52.1) scale(0.998,1.035)" text-anchor="end" dominant-baseline="central">0.85</text><text transform="translate(655.1,228.6) scale(1.058,0.965) rotate(-90)" text-anchor="end">0.85</text><text transform="translate(404.5,41.9) scale(0.998,1.035)" text-anchor="end" dominant-baseline="central">0.90</text><text transform="translate(668.9,228.6) scale(1.058,0.965) rotate(-90)" text-anchor="end">0.90</text><text transform="translate(404.5,31.6) scale(0.998,1.035)" text-anchor="end" dominant-baseline="central">0.95</text><text transform="translate(682.8,228.6) scale(1.058,0.965) rotate(-90)" text-anchor="end">0.95</text></g><g font-family='"Liberation Sans",sans-serif' fill="#000" font-size="16.2"><text transform="translate(544.9,271.3) scale(1.058,1.000)" text-anchor="middle">CO2</text><text transform="translate(372.7,123.4) scale(1.058,1.000) rotate(-90)" text-anchor="middle">ICT</text></g>
<!-- plot B -->
<g><line x1="131.2" y1="515.1" x2="48.4" y2="449.3" stroke="#dcdcdc" stroke-width="0.9"/><line x1="115.5" y1="515.1" x2="197.0" y2="449.3" stroke="#dcdcdc" stroke-width="0.9"/><line x1="48.4" y1="449.3" x2="33.8" y2="341.0" stroke="#dcdcdc" stroke-width="0.9"/><line x1="197.0" y1="449.3" x2="211.5" y2="342.6" stroke="#dcdcdc" stroke-width="0.9"/><line x1="140.8" y1="507.0" x2="58.0" y2="443.6" stroke="#dcdcdc" stroke-width="0.9"/><line x1="105.7" y1="507.2" x2="187.5" y2="443.7" stroke="#dcdcdc" stroke-width="0.9"/><line x1="58.0" y1="443.6" x2="45.6" y2="336.4" stroke="#dcdcdc" stroke-width="0.9"/><line x1="187.5" y1="443.7" x2="199.9" y2="337.8" stroke="#dcdcdc" stroke-width="0.9"/><line x1="150.1" y1="499.3" x2="67.3" y2="438.0" stroke="#dcdcdc" stroke-width="0.9"/><line x1="96.3" y1="499.5" x2="178.4" y2="438.2" stroke="#dcdcdc" stroke-width="0.9"/><line x1="67.3" y1="438.0" x2="56.9" y2="332.0" stroke="#dcdcdc" stroke-width="0.9"/><line x1="178.4" y1="438.2" x2="188.8" y2="333.2" stroke="#dcdcdc" stroke-width="0.9"/><line x1="159.0" y1="491.8" x2="76.3" y2="432.7" stroke="#dcdcdc" stroke-width="0.9"/><line x1="87.3" y1="492.1" x2="169.5" y2="432.9" stroke="#dcdcdc" stroke-width="0.9"/><line x1="76.3" y1="432.7" x2="67.8" y2="327.7" stroke="#dcdcdc" stroke-width="0.9"/><line x1="169.5" y1="432.9" x2="178.1" y2="328.8" stroke="#dcdcdc" stroke-width="0.9"/><line x1="167.6" y1="484.7" x2="85.0" y2="427.5" stroke="#dcdcdc" stroke-width="0.9"/><line x1="78.5" y1="484.9" x2="160.9" y2="427.7" stroke="#dcdcdc" stroke-width="0.9"/><line x1="85.0" y1="427.5" x2="78.2" y2="323.6" stroke="#dcdcdc" stroke-width="0.9"/><line x1="160.9" y1="427.7" x2="167.8" y2="324.5" stroke="#dcdcdc" stroke-width="0.9"/><line x1="175.9" y1="477.8" x2="93.4" y2="422.5" stroke="#dcdcdc" stroke-width="0.9"/><line x1="70.1" y1="478.0" x2="152.5" y2="422.7" stroke="#dcdcdc" stroke-width="0.9"/><line x1="93.4" y1="422.5" x2="88.3" y2="319.7" stroke="#dcdcdc" stroke-width="0.9"/><line x1="152.5" y1="422.7" x2="157.8" y2="320.4" stroke="#dcdcdc" stroke-width="0.9"/><line x1="183.9" y1="471.2" x2="101.6" y2="417.7" stroke="#dcdcdc" stroke-width="0.9"/><line x1="61.9" y1="471.3" x2="144.4" y2="417.8" stroke="#dcdcdc" stroke-width="0.9"/><line x1="101.6" y1="417.7" x2="97.9" y2="315.9" stroke="#dcdcdc" stroke-width="0.9"/><line x1="144.4" y1="417.8" x2="148.2" y2="316.4" stroke="#dcdcdc" stroke-width="0.9"/><line x1="191.5" y1="464.7" x2="109.5" y2="413.0" stroke="#dcdcdc" stroke-width="0.9"/><line x1="54.1" y1="464.9" x2="136.5" y2="413.1" stroke="#dcdcdc" stroke-width="0.9"/><line x1="109.5" y1="413.0" x2="107.3" y2="312.2" stroke="#dcdcdc" stroke-width="0.9"/><line x1="136.5" y1="413.1" x2="138.9" y2="312.6" stroke="#dcdcdc" stroke-width="0.9"/><line x1="199.0" y1="458.6" x2="117.2" y2="408.4" stroke="#dcdcdc" stroke-width="0.9"/><line x1="46.4" y1="458.6" x2="128.8" y2="408.5" stroke="#dcdcdc" stroke-width="0.9"/><line x1="117.2" y1="408.4" x2="116.3" y2="308.7" stroke="#dcdcdc" stroke-width="0.9"/><line x1="128.8" y1="408.5" x2="129.9" y2="308.8" stroke="#dcdcdc" stroke-width="0.9"/><line x1="39.9" y1="448.7" x2="123.0" y2="400.1" stroke="#dcdcdc" stroke-width="0.9"/><line x1="123.0" y1="400.1" x2="205.3" y2="448.8" stroke="#dcdcdc" stroke-width="0.9"/><line x1="33.6" y1="406.7" x2="123.0" y2="361.4" stroke="#dcdcdc" stroke-width="0.9"/><line x1="123.0" y1="361.4" x2="211.6" y2="407.3" stroke="#dcdcdc" stroke-width="0.9"/><line x1="26.2" y1="357.6" x2="123.1" y2="317.3" stroke="#dcdcdc" stroke-width="0.9"/><line x1="123.1" y1="317.3" x2="218.9" y2="359.0" stroke="#dcdcdc" stroke-width="0.9"/></g>
<line x1="40.7" y1="453.9" x2="123.4" y2="521.6" stroke="#8a8a8a" stroke-width="1"/>
<line x1="123.4" y1="521.6" x2="204.6" y2="453.9" stroke="#8a8a8a" stroke-width="1"/>
<line x1="40.7" y1="453.9" x2="24.3" y2="344.8" stroke="#8a8a8a" stroke-width="1"/>
<g><polygon points="34.4,375.7 122.9,335.6 123.1,336.8 34.7,377.0" fill="#ffde00" stroke="#ffde00" stroke-width="0.6"/><polygon points="34.7,377.0 123.1,336.8 123.2,337.9 35.0,378.3" fill="#ffe900" stroke="#ffe900" stroke-width="0.6"/><polygon points="35.0,378.3 123.2,337.9 123.3,339.1 35.3,379.6" fill="#f7ec00" stroke="#f7ec00" stroke-width="0.6"/><polygon points="35.3,379.6 123.3,339.1 123.4,340.3 35.6,380.9" fill="#edee00" stroke="#edee00" stroke-width="0.6"/><polygon points="35.6,380.9 123.4,340.3 123.5,341.4 35.8,382.2" fill="#e4ef00" stroke="#e4ef00" stroke-width="0.6"/><polygon points="35.8,382.2 123.5,341.4 123.6,342.6 36.1,383.5" fill="#dbf100" stroke="#dbf100" stroke-width="0.6"/><polygon points="36.1,383.5 123.6,342.6 123.8,343.7 36.4,384.8" fill="#d2f300" stroke="#d2f300" stroke-width="0.6"/><polygon points="36.4,384.8 123.8,343.7 123.9,344.9 36.7,386.1" fill="#c9f500" stroke="#c9f500" stroke-width="0.6"/><polygon points="36.7,386.1 123.9,344.9 124.0,346.0 37.0,387.4" fill="#bff700" stroke="#bff700" stroke-width="0.6"/><polygon points="37.0,387.4 124.0,346.0 124.1,347.2 37.3,388.6" fill="#b6f900" stroke="#b6f900" stroke-width="0.6"/><polygon points="37.3,388.6 124.1,347.2 124.2,348.3 37.5,389.9" fill="#adfb00" stroke="#adfb00" stroke-width="0.6"/><polygon points="37.5,389.9 124.2,348.3 124.3,349.4 37.8,391.2" fill="#a4fc00" stroke="#a4fc00" stroke-width="0.6"/><polygon points="37.8,391.2 124.3,349.4 124.4,350.6 38.1,392.4" fill="#9afe00" stroke="#9afe00" stroke-width="0.6"/><polygon points="38.1,392.4 124.4,350.6 124.6,351.7 38.4,393.7" fill="#91ff08" stroke="#91ff08" stroke-width="0.6"/><polygon points="38.4,393.7 124.6,351.7 124.7,352.8 38.7,394.9" fill="#88ff16" stroke="#88ff16" stroke-width="0.6"/><polygon points="38.7,394.9 124.7,352.8 124.8,353.9 38.9,396.2" fill="#7eff23" stroke="#7eff23" stroke-width="0.6"/><polygon points="38.9,396.2 124.8,353.9 124.9,355.0 39.2,397.4" fill="#75ff30" stroke="#75ff30" stroke-width="0.6"/><polygon points="39.2,397.4 124.9,355.0 125.0,356.2 39.5,398.7" fill="#6bff3e" stroke="#6bff3e" stroke-width="0.6"/><polygon points="39.5,398.7 125.0,356.2 125.1,357.3 39.8,399.9" fill="#62ff4b" stroke="#62ff4b" stroke-width="0.6"/><polygon points="39.8,399.9 125.1,357.3 125.2,358.4 40.0,401.1" fill="#58ff58" stroke="#58ff58" stroke-width="0.6"/><polygon points="40.0,401.1 125.2,358.4 125.3,359.5 40.3,402.4" fill="#4fff65" stroke="#4fff65" stroke-width="0.6"/><polygon points="40.3,402.4 125.3,359.5 125.4,360.6 40.6,403.6" fill="#45ff73" stroke="#45ff73" stroke-width="0.6"/><polygon points="40.6,403.6 125.4,360.6 125.6,361.7 40.9,404.8" fill="#3cff80" stroke="#3cff80" stroke-width="0.6"/><polygon points="40.9,404.8 125.6,361.7 125.7,362.8 41.1,406.0" fill="#32ff8d" stroke="#32ff8d" stroke-width="0.6"/><polygon points="41.1,406.0 125.7,362.8 125.8,363.9 41.4,407.2" fill="#2bfc99" stroke="#2bfc99" stroke-width="0.6"/><polygon points="41.4,407.2 125.8,363.9 125.9,365.0 41.7,408.4" fill="#27f3a3" stroke="#27f3a3" stroke-width="0.6"/><polygon points="41.7,408.4 125.9,365.0 126.0,366.1 41.9,409.6" fill="#23eaac" stroke="#23eaac" stroke-width="0.6"/><polygon points="41.9,409.6 126.0,366.1 126.1,367.1 42.2,410.8" fill="#1fe0b5" stroke="#1fe0b5" stroke-width="0.6"/><polygon points="42.2,410.8 126.1,367.1 126.2,368.2 42.5,412.0" fill="#1bd7be" stroke="#1bd7be" stroke-width="0.6"/><polygon points="42.5,412.0 126.2,368.2 126.3,369.3 42.7,413.2" fill="#17cec8" stroke="#17cec8" stroke-width="0.6"/><polygon points="42.7,413.2 126.3,369.3 126.4,370.4 43.0,414.4" fill="#13c5d1" stroke="#13c5d1" stroke-width="0.6"/><polygon points="43.0,414.4 126.4,370.4 126.5,371.4 43.2,415.6" fill="#0fbcda" stroke="#0fbcda" stroke-width="0.6"/><polygon points="43.2,415.6 126.5,371.4 126.6,372.5 43.5,416.8" fill="#0bb3e4" stroke="#0bb3e4" stroke-width="0.6"/><polygon points="43.5,416.8 126.6,372.5 126.7,373.6 43.8,417.9" fill="#08aaed" stroke="#08aaed" stroke-width="0.6"/><polygon points="43.8,417.9 126.7,373.6 126.9,374.6 44.0,419.1" fill="#04a1f6" stroke="#04a1f6" stroke-width="0.6"/><polygon points="44.0,419.1 126.9,374.6 127.0,375.7 44.3,420.3" fill="#0097ff" stroke="#0097ff" stroke-width="0.6"/><polygon points="44.3,420.3 127.0,375.7 127.1,376.8 44.5,421.4" fill="#008cff" stroke="#008cff" stroke-width="0.6"/><polygon points="44.5,421.4 127.1,376.8 127.2,377.8 44.8,422.6" fill="#0081ff" stroke="#0081ff" stroke-width="0.6"/><path d="M34.4 375.7L44.8 422.6M40.2 373.1L50.1 419.7M45.8 370.5L55.3 416.9M51.3 368.0L60.4 414.1M56.7 365.6L65.4 411.4M62.1 363.2L70.4 408.7M67.3 360.8L75.2 406.1M72.4 358.5L80.0 403.5M77.4 356.2L84.6 400.9M82.3 354.0L89.2 398.4M87.2 351.8L93.7 396.0M91.9 349.6L98.2 393.6M96.6 347.5L102.5 391.2M101.2 345.5L106.8 388.9M105.7 343.4L111.0 386.6M110.1 341.4L115.1 384.3M114.5 339.4L119.2 382.1M118.7 337.5L123.2 379.9M122.9 335.6L127.2 377.8M34.4 375.7L122.9 335.6M44.8 422.6L127.2 377.8" stroke="#120d06" stroke-opacity="0.9" stroke-width="1.12" fill="none" stroke-linecap="round"/><polygon points="44.8,422.6 127.2,377.8 127.3,376.9 44.8,421.6" fill="#0081ff" stroke="#0081ff" stroke-width="0.6"/><polygon points="44.8,421.6 127.3,376.9 127.4,375.9 44.7,420.6" fill="#008cff" stroke="#008cff" stroke-width="0.6"/><polygon points="44.7,420.6 127.4,375.9 127.5,375.0 44.7,419.6" fill="#0097ff" stroke="#0097ff" stroke-width="0.6"/><polygon points="44.7,419.6 127.5,375.0 127.6,374.0 44.6,418.6" fill="#04a0f6" stroke="#04a0f6" stroke-width="0.6"/><polygon points="44.6,418.6 127.6,374.0 127.7,373.1 44.6,417.6" fill="#07aaed" stroke="#07aaed" stroke-width="0.6"/><polygon points="44.6,417.6 127.7,373.1 127.8,372.2 44.5,416.5" fill="#0bb3e4" stroke="#0bb3e4" stroke-width="0.6"/><polygon points="44.5,416.5 127.8,372.2 128.0,371.2 44.5,415.5" fill="#0fbcdb" stroke="#0fbcdb" stroke-width="0.6"/><polygon points="44.5,415.5 128.0,371.2 128.1,370.2 44.4,414.5" fill="#13c5d1" stroke="#13c5d1" stroke-width="0.6"/><polygon points="44.4,414.5 128.1,370.2 128.2,369.3 44.4,413.5" fill="#17cec8" stroke="#17cec8" stroke-width="0.6"/><polygon points="44.4,413.5 128.2,369.3 128.3,368.3 44.4,412.4" fill="#1bd7bf" stroke="#1bd7bf" stroke-width="0.6"/><polygon points="44.4,412.4 128.3,368.3 128.4,367.3 44.3,411.4" fill="#1fe0b5" stroke="#1fe0b5" stroke-width="0.6"/><polygon points="44.3,411.4 128.4,367.3 128.5,366.4 44.3,410.3" fill="#23e9ac" stroke="#23e9ac" stroke-width="0.6"/><polygon points="44.3,410.3 128.5,366.4 128.6,365.4 44.2,409.3" fill="#27f2a3" stroke="#27f2a3" stroke-width="0.6"/><polygon points="44.2,409.3 128.6,365.4 128.7,364.4 44.2,408.2" fill="#2afb9a" stroke="#2afb9a" stroke-width="0.6"/><polygon points="44.2,408.2 128.7,364.4 128.9,363.4 44.1,407.2" fill="#32ff8e" stroke="#32ff8e" stroke-width="0.6"/><polygon points="44.1,407.2 128.9,363.4 129.0,362.5 44.1,406.1" fill="#3bff81" stroke="#3bff81" stroke-width="0.6"/><polygon points="44.1,406.1 129.0,362.5 129.1,361.5 44.0,405.0" fill="#45ff73" stroke="#45ff73" stroke-width="0.6"/><polygon points="44.0,405.0 129.1,361.5 129.2,360.5 44.0,404.0" fill="#4eff66" stroke="#4eff66" stroke-width="0.6"/><polygon points="44.0,404.0 129.2,360.5 129.3,359.5 43.9,402.9" fill="#58ff59" stroke="#58ff59" stroke-width="0.6"/><polygon points="43.9,402.9 129.3,359.5 129.4,358.5 43.9,401.8" fill="#61ff4c" stroke="#61ff4c" stroke-width="0.6"/><polygon points="43.9,401.8 129.4,358.5 129.6,357.5 43.8,400.7" fill="#6bff3e" stroke="#6bff3e" stroke-width="0.6"/><polygon points="43.8,400.7 129.6,357.5 129.7,356.5 43.8,399.6" fill="#74ff31" stroke="#74ff31" stroke-width="0.6"/><polygon points="43.8,399.6 129.7,356.5 129.8,355.4 43.8,398.5" fill="#7dff24" stroke="#7dff24" stroke-width="0.6"/><polygon points="43.8,398.5 129.8,355.4 129.9,354.4 43.7,397.4" fill="#87ff17" stroke="#87ff17" stroke-width="0.6"/><polygon points="43.7,397.4 129.9,354.4 130.0,353.4 43.7,396.3" fill="#90ff09" stroke="#90ff09" stroke-width="0.6"/><polygon points="43.7,396.3 130.0,353.4 130.2,352.4 43.6,395.2" fill="#9afe00" stroke="#9afe00" stroke-width="0.6"/><polygon points="43.6,395.2 130.2,352.4 130.3,351.4 43.6,394.1" fill="#a3fd00" stroke="#a3fd00" stroke-width="0.6"/><polygon points="43.6,394.1 130.3,351.4 130.4,350.3 43.5,392.9" fill="#acfb00" stroke="#acfb00" stroke-width="0.6"/><polygon points="43.5,392.9 130.4,350.3 130.5,349.3 43.5,391.8" fill="#b5f900" stroke="#b5f900" stroke-width="0.6"/><polygon points="43.5,391.8 130.5,349.3 130.6,348.3 43.4,390.7" fill="#bff700" stroke="#bff700" stroke-width="0.6"/><polygon points="43.4,390.7 130.6,348.3 130.8,347.2 43.4,389.6" fill="#c8f500" stroke="#c8f500" stroke-width="0.6"/><polygon points="43.4,389.6 130.8,347.2 130.9,346.2 43.3,388.4" fill="#d1f300" stroke="#d1f300" stroke-width="0.6"/><polygon points="43.3,388.4 130.9,346.2 131.0,345.1 43.3,387.3" fill="#daf100" stroke="#daf100" stroke-width="0.6"/><polygon points="43.3,387.3 131.0,345.1 131.1,344.1 43.2,386.1" fill="#e3f000" stroke="#e3f000" stroke-width="0.6"/><polygon points="43.2,386.1 131.1,344.1 131.3,343.0 43.2,385.0" fill="#edee00" stroke="#edee00" stroke-width="0.6"/><polygon points="43.2,385.0 131.3,343.0 131.4,341.9 43.1,383.8" fill="#f6ec00" stroke="#f6ec00" stroke-width="0.6"/><polygon points="43.1,383.8 131.4,341.9 131.5,340.9 43.1,382.6" fill="#ffea00" stroke="#ffea00" stroke-width="0.6"/><polygon points="43.1,382.6 131.5,340.9 131.6,339.8 43.0,381.4" fill="#ffdf00" stroke="#ffdf00" stroke-width="0.6"/><polygon points="43.0,381.4 131.6,339.8 131.8,338.7 43.0,380.3" fill="#ffd400" stroke="#ffd400" stroke-width="0.6"/><polygon points="43.0,380.3 131.8,338.7 131.9,337.7 42.9,379.1" fill="#ffca00" stroke="#ffca00" stroke-width="0.6"/><polygon points="42.9,379.1 131.9,337.7 132.0,336.6 42.9,377.9" fill="#ffbf00" stroke="#ffbf00" stroke-width="0.6"/><polygon points="42.9,377.9 132.0,336.6 132.2,335.5 42.8,376.7" fill="#ffb400" stroke="#ffb400" stroke-width="0.6"/><path d="M44.8 422.6L42.8 376.7M50.1 419.7L48.6 374.0M55.3 416.9L54.3 371.4M60.4 414.1L59.9 368.8M65.4 411.4L65.4 366.3M70.4 408.7L70.8 363.8M75.2 406.1L76.1 361.4M80.0 403.5L81.2 359.0M84.6 400.9L86.3 356.6M89.2 398.4L91.3 354.3M93.7 396.0L96.2 352.1M98.2 393.6L101.0 349.9M102.5 391.2L105.7 347.7M106.8 388.9L110.3 345.6M111.0 386.6L114.8 343.5M115.1 384.3L119.3 341.4M119.2 382.1L123.6 339.4M123.2 379.9L127.9 337.4M127.2 377.8L132.2 335.5M44.8 422.6L127.2 377.8M42.8 376.7L132.2 335.5" stroke="#120d06" stroke-opacity="0.9" stroke-width="1.12" fill="none" stroke-linecap="round"/><polygon points="42.8,376.7 132.2,335.5 132.4,334.5 42.9,375.6" fill="#ffa900" stroke="#ffa900" stroke-width="0.6"/><polygon points="42.9,375.6 132.4,334.5 132.6,333.5 42.9,374.5" fill="#ff9e00" stroke="#ff9e00" stroke-width="0.6"/><polygon points="42.9,374.5 132.6,333.5 132.8,332.4 43.0,373.4" fill="#ff9400" stroke="#ff9400" stroke-width="0.6"/><polygon points="43.0,373.4 132.8,332.4 133.1,331.4 43.0,372.3" fill="#ff8900" stroke="#ff8900" stroke-width="0.6"/><polygon points="43.0,372.3 133.1,331.4 133.3,330.4 43.1,371.1" fill="#ff7f00" stroke="#ff7f00" stroke-width="0.6"/><polygon points="43.1,371.1 133.3,330.4 133.5,329.3 43.1,370.0" fill="#ff7400" stroke="#ff7400" stroke-width="0.6"/><polygon points="43.1,370.0 133.5,329.3 133.8,328.3 43.2,368.9" fill="#ff6a00" stroke="#ff6a00" stroke-width="0.6"/><polygon points="43.2,368.9 133.8,328.3 134.0,327.3 43.2,367.7" fill="#ff6000" stroke="#ff6000" stroke-width="0.6"/><polygon points="43.2,367.7 134.0,327.3 134.3,326.2 43.3,366.6" fill="#ff5700" stroke="#ff5700" stroke-width="0.6"/><polygon points="43.3,366.6 134.3,326.2 134.5,325.1 43.3,365.4" fill="#ff4d00" stroke="#ff4d00" stroke-width="0.6"/><polygon points="43.3,365.4 134.5,325.1 134.7,324.1 43.4,364.3" fill="#ff4400" stroke="#ff4400" stroke-width="0.6"/><polygon points="43.4,364.3 134.7,324.1 135.0,323.0 43.5,363.1" fill="#ff3a00" stroke="#ff3a00" stroke-width="0.6"/><polygon points="43.5,363.1 135.0,323.0 135.2,322.0 43.5,361.9" fill="#ff3100" stroke="#ff3100" stroke-width="0.6"/><polygon points="43.5,361.9 135.2,322.0 135.5,320.9 43.6,360.8" fill="#ff2700" stroke="#ff2700" stroke-width="0.6"/><polygon points="43.6,360.8 135.5,320.9 135.7,319.8 43.6,359.6" fill="#ff1e00" stroke="#ff1e00" stroke-width="0.6"/><polygon points="43.6,359.6 135.7,319.8 136.0,318.7 43.7,358.4" fill="#ff1400" stroke="#ff1400" stroke-width="0.6"/><polygon points="43.7,358.4 136.0,318.7 136.2,317.7 43.7,357.2" fill="#ff0b00" stroke="#ff0b00" stroke-width="0.6"/><polygon points="43.7,357.2 136.2,317.7 136.4,316.6 43.8,356.0" fill="#ff0100" stroke="#ff0100" stroke-width="0.6"/><path d="M42.8 376.7L43.8 356.0M48.6 374.0L49.9 353.4M54.3 371.4L55.8 350.9M59.9 368.8L61.7 348.4M65.4 366.3L67.4 346.0M70.8 363.8L73.0 343.6M76.1 361.4L78.4 341.3M81.2 359.0L83.8 339.0M86.3 356.6L89.1 336.7M91.3 354.3L94.2 334.5M96.2 352.1L99.3 332.4M101.0 349.9L104.2 330.3M105.7 347.7L109.1 328.2M110.3 345.6L113.9 326.2M114.8 343.5L118.6 324.2M119.3 341.4L123.2 322.2M123.6 339.4L127.7 320.3M127.9 337.4L132.1 318.4M132.2 335.5L136.4 316.6M42.8 376.7L132.2 335.5M43.8 356.0L136.4 316.6" stroke="#120d06" stroke-opacity="0.9" stroke-width="1.12" fill="none" stroke-linecap="round"/><polygon points="43.8,356.0 136.4,316.6 137.0,318.0 44.5,357.7" fill="#ff0100" stroke="#ff0100" stroke-width="0.6"/><polygon points="44.5,357.7 137.0,318.0 137.5,319.5 45.2,359.4" fill="#ff0b00" stroke="#ff0b00" stroke-width="0.6"/><polygon points="45.2,359.4 137.5,319.5 138.0,320.9 45.9,361.1" fill="#ff1500" stroke="#ff1500" stroke-width="0.6"/><polygon points="45.9,361.1 138.0,320.9 138.6,322.4 46.7,362.8" fill="#ff1f00" stroke="#ff1f00" stroke-width="0.6"/><polygon points="46.7,362.8 138.6,322.4 139.1,323.8 47.4,364.5" fill="#ff2800" stroke="#ff2800" stroke-width="0.6"/><polygon points="47.4,364.5 139.1,323.8 139.6,325.3 48.1,366.2" fill="#ff3200" stroke="#ff3200" stroke-width="0.6"/><polygon points="48.1,366.2 139.6,325.3 140.1,326.7 48.8,367.8" fill="#ff3c00" stroke="#ff3c00" stroke-width="0.6"/><polygon points="48.8,367.8 140.1,326.7 140.6,328.1 49.5,369.5" fill="#ff4600" stroke="#ff4600" stroke-width="0.6"/><polygon points="49.5,369.5 140.6,328.1 141.2,329.6 50.2,371.2" fill="#ff5000" stroke="#ff5000" stroke-width="0.6"/><path d="M43.8 356.0L50.2 371.2M49.9 353.4L56.2 368.5M55.8 350.9L62.0 365.8M61.7 348.4L67.7 363.2M67.4 346.0L73.3 360.6M73.0 343.6L78.8 358.1M78.4 341.3L84.2 355.6M83.8 339.0L89.5 353.2M89.1 336.7L94.6 350.9M94.2 334.5L99.7 348.6M99.3 332.4L104.7 346.3M104.2 330.3L109.5 344.1M109.1 328.2L114.3 341.9M113.9 326.2L119.0 339.7M118.6 324.2L123.6 337.6M123.2 322.2L128.1 335.6M127.7 320.3L132.5 333.5M132.1 318.4L136.9 331.5M136.4 316.6L141.2 329.6M43.8 356.0L136.4 316.6M50.2 371.2L141.2 329.6" stroke="#120d06" stroke-opacity="0.9" stroke-width="1.12" fill="none" stroke-linecap="round"/><polygon points="50.2,371.2 141.2,329.6 141.2,330.8 50.4,372.6" fill="#ff5a00" stroke="#ff5a00" stroke-width="0.6"/><polygon points="50.4,372.6 141.2,330.8 141.3,332.0 50.7,374.0" fill="#ff6400" stroke="#ff6400" stroke-width="0.6"/><polygon points="50.7,374.0 141.3,332.0 141.3,333.2 50.9,375.3" fill="#ff6d00" stroke="#ff6d00" stroke-width="0.6"/><polygon points="50.9,375.3 141.3,333.2 141.4,334.5 51.1,376.7" fill="#ff7800" stroke="#ff7800" stroke-width="0.6"/><polygon points="51.1,376.7 141.4,334.5 141.4,335.7 51.4,378.1" fill="#ff8300" stroke="#ff8300" stroke-width="0.6"/><polygon points="51.4,378.1 141.4,335.7 141.5,336.9 51.6,379.4" fill="#ff8e00" stroke="#ff8e00" stroke-width="0.6"/><polygon points="51.6,379.4 141.5,336.9 141.5,338.1 51.9,380.8" fill="#ff9900" stroke="#ff9900" stroke-width="0.6"/><polygon points="51.9,380.8 141.5,338.1 141.6,339.3 52.1,382.1" fill="#ffa400" stroke="#ffa400" stroke-width="0.6"/><polygon points="52.1,382.1 141.6,339.3 141.6,340.5 52.3,383.5" fill="#ffaf00" stroke="#ffaf00" stroke-width="0.6"/><polygon points="52.3,383.5 141.6,340.5 141.7,341.7 52.5,384.8" fill="#ffba00" stroke="#ffba00" stroke-width="0.6"/><polygon points="52.5,384.8 141.7,341.7 141.7,342.9 52.8,386.1" fill="#ffc500" stroke="#ffc500" stroke-width="0.6"/><polygon points="52.8,386.1 141.7,342.9 141.8,344.1 53.0,387.5" fill="#ffcf00" stroke="#ffcf00" stroke-width="0.6"/><polygon points="53.0,387.5 141.8,344.1 141.8,345.2 53.2,388.8" fill="#ffda00" stroke="#ffda00" stroke-width="0.6"/><polygon points="53.2,388.8 141.8,345.2 141.9,346.4 53.5,390.1" fill="#ffe500" stroke="#ffe500" stroke-width="0.6"/><polygon points="53.5,390.1 141.9,346.4 141.9,347.6 53.7,391.4" fill="#faeb00" stroke="#faeb00" stroke-width="0.6"/><polygon points="53.7,391.4 141.9,347.6 142.0,348.8 53.9,392.7" fill="#f1ed00" stroke="#f1ed00" stroke-width="0.6"/><polygon points="53.9,392.7 142.0,348.8 142.0,349.9 54.1,394.0" fill="#e7ef00" stroke="#e7ef00" stroke-width="0.6"/><polygon points="54.1,394.0 142.0,349.9 142.1,351.1 54.4,395.3" fill="#def100" stroke="#def100" stroke-width="0.6"/><polygon points="54.4,395.3 142.1,351.1 142.1,352.2 54.6,396.6" fill="#d5f300" stroke="#d5f300" stroke-width="0.6"/><polygon points="54.6,396.6 142.1,352.2 142.2,353.4 54.8,397.9" fill="#ccf400" stroke="#ccf400" stroke-width="0.6"/><polygon points="54.8,397.9 142.2,353.4 142.2,354.6 55.0,399.2" fill="#c2f600" stroke="#c2f600" stroke-width="0.6"/><polygon points="55.0,399.2 142.2,354.6 142.3,355.7 55.2,400.5" fill="#b9f800" stroke="#b9f800" stroke-width="0.6"/><polygon points="55.2,400.5 142.3,355.7 142.3,356.8 55.5,401.7" fill="#b0fa00" stroke="#b0fa00" stroke-width="0.6"/><polygon points="55.5,401.7 142.3,356.8 142.4,358.0 55.7,403.0" fill="#a7fc00" stroke="#a7fc00" stroke-width="0.6"/><polygon points="55.7,403.0 142.4,358.0 142.4,359.1 55.9,404.3" fill="#9dfe00" stroke="#9dfe00" stroke-width="0.6"/><polygon points="55.9,404.3 142.4,359.1 142.5,360.3 56.1,405.5" fill="#94ff04" stroke="#94ff04" stroke-width="0.6"/><polygon points="56.1,405.5 142.5,360.3 142.5,361.4 56.3,406.8" fill="#8bff11" stroke="#8bff11" stroke-width="0.6"/><polygon points="56.3,406.8 142.5,361.4 142.6,362.5 56.6,408.0" fill="#81ff1f" stroke="#81ff1f" stroke-width="0.6"/><polygon points="56.6,408.0 142.6,362.5 142.6,363.6 56.8,409.3" fill="#78ff2c" stroke="#78ff2c" stroke-width="0.6"/><polygon points="56.8,409.3 142.6,363.6 142.7,364.8 57.0,410.5" fill="#6eff39" stroke="#6eff39" stroke-width="0.6"/><polygon points="57.0,410.5 142.7,364.8 142.7,365.9 57.2,411.7" fill="#65ff47" stroke="#65ff47" stroke-width="0.6"/><polygon points="57.2,411.7 142.7,365.9 142.8,367.0 57.4,413.0" fill="#5bff54" stroke="#5bff54" stroke-width="0.6"/><polygon points="57.4,413.0 142.8,367.0 142.8,368.1 57.6,414.2" fill="#52ff61" stroke="#52ff61" stroke-width="0.6"/><polygon points="57.6,414.2 142.8,368.1 142.9,369.2 57.8,415.4" fill="#48ff6f" stroke="#48ff6f" stroke-width="0.6"/><polygon points="57.8,415.4 142.9,369.2 142.9,370.3 58.0,416.6" fill="#3fff7c" stroke="#3fff7c" stroke-width="0.6"/><polygon points="58.0,416.6 142.9,370.3 143.0,371.4 58.2,417.9" fill="#35ff89" stroke="#35ff89" stroke-width="0.6"/><polygon points="58.2,417.9 143.0,371.4 143.0,372.5 58.5,419.1" fill="#2cff96" stroke="#2cff96" stroke-width="0.6"/><polygon points="58.5,419.1 143.0,372.5 143.1,373.6 58.7,420.3" fill="#28f6a0" stroke="#28f6a0" stroke-width="0.6"/><polygon points="58.7,420.3 143.1,373.6 143.1,374.7 58.9,421.5" fill="#24eca9" stroke="#24eca9" stroke-width="0.6"/><polygon points="58.9,421.5 143.1,374.7 143.1,375.8 59.1,422.7" fill="#20e3b2" stroke="#20e3b2" stroke-width="0.6"/><polygon points="59.1,422.7 143.1,375.8 143.2,376.8 59.3,423.9" fill="#1cdabc" stroke="#1cdabc" stroke-width="0.6"/><polygon points="59.3,423.9 143.2,376.8 143.2,377.9 59.5,425.1" fill="#18d1c5" stroke="#18d1c5" stroke-width="0.6"/><polygon points="59.5,425.1 143.2,377.9 143.3,379.0 59.7,426.2" fill="#14c8ce" stroke="#14c8ce" stroke-width="0.6"/><polygon points="59.7,426.2 143.3,379.0 143.3,380.1 59.9,427.4" fill="#11bfd8" stroke="#11bfd8" stroke-width="0.6"/><polygon points="59.9,427.4 143.3,380.1 143.4,381.1 60.1,428.6" fill="#0db6e1" stroke="#0db6e1" stroke-width="0.6"/><polygon points="60.1,428.6 143.4,381.1 143.4,382.2 60.3,429.8" fill="#09acea" stroke="#09acea" stroke-width="0.6"/><polygon points="60.3,429.8 143.4,382.2 143.5,383.3 60.5,430.9" fill="#05a3f4" stroke="#05a3f4" stroke-width="0.6"/><polygon points="60.5,430.9 143.5,383.3 143.5,384.3 60.7,432.1" fill="#019afd" stroke="#019afd" stroke-width="0.6"/><polygon points="60.7,432.1 143.5,384.3 143.6,385.4 60.9,433.2" fill="#008fff" stroke="#008fff" stroke-width="0.6"/><polygon points="60.9,433.2 143.6,385.4 143.6,386.4 61.1,434.4" fill="#0084ff" stroke="#0084ff" stroke-width="0.6"/><polygon points="61.1,434.4 143.6,386.4 143.6,387.5 61.3,435.6" fill="#0079ff" stroke="#0079ff" stroke-width="0.6"/><polygon points="61.3,435.6 143.6,387.5 143.7,388.5 61.5,436.7" fill="#006eff" stroke="#006eff" stroke-width="0.6"/><path d="M50.2 371.2L61.5 436.7M56.2 368.5L66.8 433.6M62.0 365.8L72.0 430.5M67.7 363.2L77.1 427.5M73.3 360.6L82.2 424.6M78.8 358.1L87.1 421.7M84.2 355.6L91.9 418.9M89.5 353.2L96.7 416.1M94.6 350.9L101.3 413.4M99.7 348.6L105.9 410.7M104.7 346.3L110.4 408.0M109.5 344.1L114.8 405.5M114.3 341.9L119.2 402.9M119.0 339.7L123.4 400.4M123.6 337.6L127.6 398.0M128.1 335.6L131.7 395.5M132.5 333.5L135.8 393.2M136.9 331.5L139.8 390.8M141.2 329.6L143.7 388.5M50.2 371.2L141.2 329.6M61.5 436.7L143.7 388.5" stroke="#120d06" stroke-opacity="0.9" stroke-width="1.12" fill="none" stroke-linecap="round"/><polygon points="61.5,436.7 143.7,388.5 144.0,387.7 61.7,435.8" fill="#006dff" stroke="#006dff" stroke-width="0.6"/><polygon points="61.7,435.8 144.0,387.7 144.3,386.9 61.8,435.0" fill="#0078ff" stroke="#0078ff" stroke-width="0.6"/><polygon points="61.8,435.0 144.3,386.9 144.6,386.1 62.0,434.1" fill="#0083ff" stroke="#0083ff" stroke-width="0.6"/><polygon points="62.0,434.1 144.6,386.1 144.9,385.2 62.1,433.3" fill="#008eff" stroke="#008eff" stroke-width="0.6"/><polygon points="62.1,433.3 144.9,385.2 145.2,384.4 62.3,432.4" fill="#0099fe" stroke="#0099fe" stroke-width="0.6"/><polygon points="62.3,432.4 145.2,384.4 145.5,383.6 62.4,431.5" fill="#04a1f5" stroke="#04a1f5" stroke-width="0.6"/><polygon points="62.4,431.5 145.5,383.6 145.8,382.7 62.6,430.7" fill="#08aaec" stroke="#08aaec" stroke-width="0.6"/><polygon points="62.6,430.7 145.8,382.7 146.1,381.9 62.7,429.8" fill="#0cb3e3" stroke="#0cb3e3" stroke-width="0.6"/><polygon points="62.7,429.8 146.1,381.9 146.4,381.0 62.9,428.9" fill="#0fbcda" stroke="#0fbcda" stroke-width="0.6"/><polygon points="62.9,428.9 146.4,381.0 146.7,380.2 63.0,428.0" fill="#13c5d1" stroke="#13c5d1" stroke-width="0.6"/><polygon points="63.0,428.0 146.7,380.2 147.0,379.3 63.2,427.1" fill="#17cdc8" stroke="#17cdc8" stroke-width="0.6"/><polygon points="63.2,427.1 147.0,379.3 147.4,378.4 63.4,426.2" fill="#1bd6bf" stroke="#1bd6bf" stroke-width="0.6"/><polygon points="63.4,426.2 147.4,378.4 147.7,377.6 63.5,425.3" fill="#1edfb7" stroke="#1edfb7" stroke-width="0.6"/><polygon points="63.5,425.3 147.7,377.6 148.0,376.7 63.7,424.4" fill="#22e8ae" stroke="#22e8ae" stroke-width="0.6"/><polygon points="63.7,424.4 148.0,376.7 148.3,375.8 63.8,423.5" fill="#26f1a5" stroke="#26f1a5" stroke-width="0.6"/><polygon points="63.8,423.5 148.3,375.8 148.6,375.0 64.0,422.6" fill="#2afa9c" stroke="#2afa9c" stroke-width="0.6"/><polygon points="64.0,422.6 148.6,375.0 148.9,374.1 64.2,421.7" fill="#2fff91" stroke="#2fff91" stroke-width="0.6"/><polygon points="64.2,421.7 148.9,374.1 149.3,373.2 64.3,420.7" fill="#39ff84" stroke="#39ff84" stroke-width="0.6"/><polygon points="64.3,420.7 149.3,373.2 149.6,372.3 64.5,419.8" fill="#42ff77" stroke="#42ff77" stroke-width="0.6"/><path d="M61.5 436.7L64.5 419.8M66.8 433.6L70.0 416.7M72.0 430.5L75.5 413.7M77.1 427.5L80.8 410.7M82.2 424.6L86.0 407.8M87.1 421.7L91.1 404.9M91.9 418.9L96.1 402.1M96.7 416.1L101.1 399.4M101.3 413.4L105.9 396.7M105.9 410.7L110.6 394.1M110.4 408.0L115.3 391.5M114.8 405.5L119.8 388.9M119.2 402.9L124.3 386.4M123.4 400.4L128.7 384.0M127.6 398.0L133.0 381.5M131.7 395.5L137.3 379.2M135.8 393.2L141.5 376.8M139.8 390.8L145.5 374.6M143.7 388.5L149.6 372.3M61.5 436.7L143.7 388.5M64.5 419.8L149.6 372.3" stroke="#120d06" stroke-opacity="0.9" stroke-width="1.12" fill="none" stroke-linecap="round"/><polygon points="64.5,419.8 149.6,372.3 149.7,373.4 64.8,421.0" fill="#42ff77" stroke="#42ff77" stroke-width="0.6"/><polygon points="64.8,421.0 149.7,373.4 149.8,374.5 65.0,422.3" fill="#39ff84" stroke="#39ff84" stroke-width="0.6"/><polygon points="65.0,422.3 149.8,374.5 149.9,375.6 65.3,423.5" fill="#2fff91" stroke="#2fff91" stroke-width="0.6"/><polygon points="65.3,423.5 149.9,375.6 150.0,376.7 65.5,424.7" fill="#2af99c" stroke="#2af99c" stroke-width="0.6"/><polygon points="65.5,424.7 150.0,376.7 150.1,377.8 65.8,425.9" fill="#26f1a5" stroke="#26f1a5" stroke-width="0.6"/><polygon points="65.8,425.9 150.1,377.8 150.2,378.9 66.1,427.1" fill="#22e8ae" stroke="#22e8ae" stroke-width="0.6"/><polygon points="66.1,427.1 150.2,378.9 150.3,380.0 66.3,428.4" fill="#1edfb7" stroke="#1edfb7" stroke-width="0.6"/><polygon points="66.3,428.4 150.3,380.0 150.4,381.1 66.6,429.6" fill="#1bd6c0" stroke="#1bd6c0" stroke-width="0.6"/><polygon points="66.6,429.6 150.4,381.1 150.5,382.2 66.8,430.8" fill="#17cdc9" stroke="#17cdc9" stroke-width="0.6"/><polygon points="66.8,430.8 150.5,382.2 150.6,383.3 67.1,432.0" fill="#13c4d2" stroke="#13c4d2" stroke-width="0.6"/><polygon points="67.1,432.0 150.6,383.3 150.7,384.3 67.3,433.2" fill="#0fbcdb" stroke="#0fbcdb" stroke-width="0.6"/><polygon points="67.3,433.2 150.7,384.3 150.8,385.4 67.6,434.3" fill="#0bb3e4" stroke="#0bb3e4" stroke-width="0.6"/><polygon points="67.6,434.3 150.8,385.4 150.9,386.5 67.8,435.5" fill="#08aaed" stroke="#08aaed" stroke-width="0.6"/><polygon points="67.8,435.5 150.9,386.5 151.0,387.6 68.1,436.7" fill="#04a1f6" stroke="#04a1f6" stroke-width="0.6"/><polygon points="68.1,436.7 151.0,387.6 151.1,388.6 68.3,437.9" fill="#0098ff" stroke="#0098ff" stroke-width="0.6"/><polygon points="68.3,437.9 151.1,388.6 151.2,389.7 68.6,439.1" fill="#008eff" stroke="#008eff" stroke-width="0.6"/><polygon points="68.6,439.1 151.2,389.7 151.3,390.7 68.8,440.2" fill="#0083ff" stroke="#0083ff" stroke-width="0.6"/><polygon points="68.8,440.2 151.3,390.7 151.4,391.8 69.1,441.4" fill="#0078ff" stroke="#0078ff" stroke-width="0.6"/><polygon points="69.1,441.4 151.4,391.8 151.5,392.9 69.3,442.6" fill="#006dff" stroke="#006dff" stroke-width="0.6"/><polygon points="69.3,442.6 151.5,392.9 151.6,393.9 69.6,443.7" fill="#0062ff" stroke="#0062ff" stroke-width="0.6"/><polygon points="69.6,443.7 151.6,393.9 151.7,395.0 69.8,444.9" fill="#0057ff" stroke="#0057ff" stroke-width="0.6"/><polygon points="69.8,444.9 151.7,395.0 151.8,396.0 70.1,446.1" fill="#004cff" stroke="#004cff" stroke-width="0.6"/><polygon points="70.1,446.1 151.8,396.0 151.9,397.1 70.3,447.2" fill="#0041ff" stroke="#0041ff" stroke-width="0.6"/><path d="M64.5 419.8L70.3 447.2M70.0 416.7L75.6 444.0M75.5 413.7L80.8 440.8M80.8 410.7L85.8 437.6M86.0 407.8L90.8 434.6M91.1 404.9L95.7 431.6M96.1 402.1L100.5 428.6M101.1 399.4L105.2 425.7M105.9 396.7L109.9 422.9M110.6 394.1L114.4 420.1M115.3 391.5L118.9 417.3M119.8 388.9L123.2 414.6M124.3 386.4L127.6 412.0M128.7 384.0L131.8 409.4M133.0 381.5L135.9 406.8M137.3 379.2L140.0 404.3M141.5 376.8L144.0 401.9M145.5 374.6L148.0 399.4M149.6 372.3L151.9 397.1M64.5 419.8L149.6 372.3M70.3 447.2L151.9 397.1" stroke="#120d06" stroke-opacity="0.9" stroke-width="1.12" fill="none" stroke-linecap="round"/><polygon points="70.3,447.2 151.9,397.1 152.5,396.4 70.8,446.6" fill="#0041ff" stroke="#0041ff" stroke-width="0.6"/><polygon points="70.8,446.6 152.5,396.4 153.1,395.8 71.2,446.0" fill="#004cff" stroke="#004cff" stroke-width="0.6"/><polygon points="71.2,446.0 153.1,395.8 153.7,395.1 71.7,445.4" fill="#0057ff" stroke="#0057ff" stroke-width="0.6"/><polygon points="71.7,445.4 153.7,395.1 154.3,394.4 72.2,444.7" fill="#0062ff" stroke="#0062ff" stroke-width="0.6"/><polygon points="72.2,444.7 154.3,394.4 154.9,393.8 72.7,444.1" fill="#006cff" stroke="#006cff" stroke-width="0.6"/><polygon points="72.7,444.1 154.9,393.8 155.6,393.1 73.1,443.5" fill="#0077ff" stroke="#0077ff" stroke-width="0.6"/><polygon points="73.1,443.5 155.6,393.1 156.2,392.5 73.6,442.9" fill="#0082ff" stroke="#0082ff" stroke-width="0.6"/><polygon points="73.6,442.9 156.2,392.5 156.8,391.8 74.1,442.2" fill="#008dff" stroke="#008dff" stroke-width="0.6"/><polygon points="74.1,442.2 156.8,391.8 157.5,391.1 74.6,441.6" fill="#0098ff" stroke="#0098ff" stroke-width="0.6"/><path d="M70.3 447.2L74.6 441.6M75.6 444.0L80.0 438.3M80.8 440.8L85.3 435.1M85.8 437.6L90.4 431.9M90.8 434.6L95.5 428.9M95.7 431.6L100.5 425.8M100.5 428.6L105.4 422.8M105.2 425.7L110.2 419.9M109.9 422.9L114.9 417.1M114.4 420.1L119.5 414.3M118.9 417.3L124.0 411.5M123.2 414.6L128.5 408.8M127.6 412.0L132.8 406.1M131.8 409.4L137.1 403.5M135.9 406.8L141.3 400.9M140.0 404.3L145.5 398.4M144.0 401.9L149.5 395.9M148.0 399.4L153.5 393.5M151.9 397.1L157.5 391.1M70.3 447.2L151.9 397.1M74.6 441.6L157.5 391.1" stroke="#120d06" stroke-opacity="0.9" stroke-width="1.12" fill="none" stroke-linecap="round"/><polygon points="74.6,441.6 157.5,391.1 158.1,390.5 75.1,441.0" fill="#03a0f7" stroke="#03a0f7" stroke-width="0.6"/><polygon points="75.1,441.0 158.1,390.5 158.7,389.8 75.5,440.4" fill="#07a8ee" stroke="#07a8ee" stroke-width="0.6"/><polygon points="75.5,440.4 158.7,389.8 159.3,389.2 76.0,439.8" fill="#0bb1e6" stroke="#0bb1e6" stroke-width="0.6"/><polygon points="76.0,439.8 159.3,389.2 159.9,388.5 76.5,439.1" fill="#0eb9dd" stroke="#0eb9dd" stroke-width="0.6"/><polygon points="76.5,439.1 159.9,388.5 160.5,387.9 77.0,438.5" fill="#12c1d5" stroke="#12c1d5" stroke-width="0.6"/><polygon points="77.0,438.5 160.5,387.9 161.1,387.2 77.4,437.9" fill="#15cacc" stroke="#15cacc" stroke-width="0.6"/><polygon points="77.4,437.9 161.1,387.2 161.7,386.6 77.9,437.3" fill="#19d2c4" stroke="#19d2c4" stroke-width="0.6"/><polygon points="77.9,437.3 161.7,386.6 162.4,385.9 78.4,436.6" fill="#1cdabc" stroke="#1cdabc" stroke-width="0.6"/><polygon points="78.4,436.6 162.4,385.9 163.0,385.2 78.9,436.0" fill="#20e2b3" stroke="#20e2b3" stroke-width="0.6"/><path d="M74.6 441.6L78.9 436.0M80.0 438.3L84.4 432.7M85.3 435.1L89.8 429.4M90.4 431.9L95.0 426.3M95.5 428.9L100.2 423.1M100.5 425.8L105.3 420.1M105.4 422.8L110.2 417.1M110.2 419.9L115.1 414.2M114.9 417.1L119.9 411.3M119.5 414.3L124.5 408.4M124.0 411.5L129.1 405.7M128.5 408.8L133.6 403.0M132.8 406.1L138.1 400.3M137.1 403.5L142.4 397.7M141.3 400.9L146.7 395.1M145.5 398.4L150.9 392.6M149.5 395.9L155.0 390.1M153.5 393.5L159.0 387.6M157.5 391.1L163.0 385.2M74.6 441.6L157.5 391.1M78.9 436.0L163.0 385.2" stroke="#120d06" stroke-opacity="0.9" stroke-width="1.12" fill="none" stroke-linecap="round"/><polygon points="78.9,436.0 163.0,385.2 163.5,386.5 79.5,437.4" fill="#20e3b3" stroke="#20e3b3" stroke-width="0.6"/><polygon points="79.5,437.4 163.5,386.5 163.9,387.7 80.1,438.8" fill="#1cdabb" stroke="#1cdabb" stroke-width="0.6"/><polygon points="80.1,438.8 163.9,387.7 164.4,388.9 80.8,440.2" fill="#19d2c3" stroke="#19d2c3" stroke-width="0.6"/><polygon points="80.8,440.2 164.4,388.9 164.9,390.1 81.4,441.6" fill="#16cacc" stroke="#16cacc" stroke-width="0.6"/><polygon points="81.4,441.6 164.9,390.1 165.3,391.3 82.0,443.0" fill="#12c2d4" stroke="#12c2d4" stroke-width="0.6"/><polygon points="82.0,443.0 165.3,391.3 165.8,392.5 82.6,444.4" fill="#0fbadc" stroke="#0fbadc" stroke-width="0.6"/><path d="M78.9 436.0L82.6 444.4M84.4 432.7L88.0 441.0M89.8 429.4L93.3 437.7M95.0 426.3L98.6 434.4M100.2 423.1L103.7 431.3M105.3 420.1L108.7 428.1M110.2 417.1L113.6 425.1M115.1 414.2L118.4 422.1M119.9 411.3L123.1 419.1M124.5 408.4L127.7 416.2M129.1 405.7L132.3 413.4M133.6 403.0L136.8 410.6M138.1 400.3L141.1 407.9M142.4 397.7L145.4 405.2M146.7 395.1L149.7 402.6M150.9 392.6L153.8 400.0M155.0 390.1L157.9 397.4M159.0 387.6L161.9 395.0M163.0 385.2L165.8 392.5M78.9 436.0L163.0 385.2M82.6 444.4L165.8 392.5" stroke="#120d06" stroke-opacity="0.9" stroke-width="1.12" fill="none" stroke-linecap="round"/><polygon points="82.6,444.4 165.8,392.5 166.1,393.7 83.0,445.7" fill="#0bb2e4" stroke="#0bb2e4" stroke-width="0.6"/><polygon points="83.0,445.7 166.1,393.7 166.4,394.8 83.5,447.0" fill="#08aaed" stroke="#08aaed" stroke-width="0.6"/><polygon points="83.5,447.0 166.4,394.8 166.6,396.0 83.9,448.3" fill="#04a1f6" stroke="#04a1f6" stroke-width="0.6"/><polygon points="83.9,448.3 166.6,396.0 166.9,397.1 84.3,449.6" fill="#0099fe" stroke="#0099fe" stroke-width="0.6"/><polygon points="84.3,449.6 166.9,397.1 167.2,398.3 84.8,450.9" fill="#008eff" stroke="#008eff" stroke-width="0.6"/><polygon points="84.8,450.9 167.2,398.3 167.5,399.4 85.2,452.2" fill="#0084ff" stroke="#0084ff" stroke-width="0.6"/><polygon points="85.2,452.2 167.5,399.4 167.8,400.6 85.6,453.5" fill="#0079ff" stroke="#0079ff" stroke-width="0.6"/><polygon points="85.6,453.5 167.8,400.6 168.0,401.7 86.0,454.8" fill="#006fff" stroke="#006fff" stroke-width="0.6"/><polygon points="86.0,454.8 168.0,401.7 168.3,402.9 86.5,456.1" fill="#0064ff" stroke="#0064ff" stroke-width="0.6"/><polygon points="86.5,456.1 168.3,402.9 168.6,404.0 86.9,457.4" fill="#005aff" stroke="#005aff" stroke-width="0.6"/><polygon points="86.9,457.4 168.6,404.0 168.9,405.1 87.3,458.7" fill="#004fff" stroke="#004fff" stroke-width="0.6"/><path d="M82.6 444.4L87.3 458.7M88.0 441.0L92.6 455.2M93.3 437.7L97.8 451.8M98.6 434.4L102.9 448.4M103.7 431.3L107.9 445.2M108.7 428.1L112.8 441.9M113.6 425.1L117.6 438.8M118.4 422.1L122.4 435.7M123.1 419.1L127.0 432.6M127.7 416.2L131.5 429.7M132.3 413.4L136.0 426.7M136.8 410.6L140.4 423.9M141.1 407.9L144.7 421.0M145.4 405.2L148.9 418.3M149.7 402.6L153.0 415.6M153.8 400.0L157.1 412.9M157.9 397.4L161.1 410.3M161.9 395.0L165.0 407.7M165.8 392.5L168.9 405.1M82.6 444.4L165.8 392.5M87.3 458.7L168.9 405.1" stroke="#120d06" stroke-opacity="0.9" stroke-width="1.12" fill="none" stroke-linecap="round"/><polygon points="87.3,458.7 168.9,405.1 169.2,406.3 87.8,460.1" fill="#0045ff" stroke="#0045ff" stroke-width="0.6"/><polygon points="87.8,460.1 169.2,406.3 169.5,407.6 88.2,461.4" fill="#003aff" stroke="#003aff" stroke-width="0.6"/><polygon points="88.2,461.4 169.5,407.6 169.8,408.8 88.7,462.8" fill="#002fff" stroke="#002fff" stroke-width="0.6"/><polygon points="88.7,462.8 169.8,408.8 170.1,410.0 89.2,464.2" fill="#0023ff" stroke="#0023ff" stroke-width="0.6"/><polygon points="89.2,464.2 170.1,410.0 170.4,411.2 89.6,465.5" fill="#0019ff" stroke="#0019ff" stroke-width="0.6"/><polygon points="89.6,465.5 170.4,411.2 170.7,412.4 90.1,466.9" fill="#0017fa" stroke="#0017fa" stroke-width="0.6"/><polygon points="90.1,466.9 170.7,412.4 171.0,413.6 90.5,468.2" fill="#0015f5" stroke="#0015f5" stroke-width="0.6"/><polygon points="90.5,468.2 171.0,413.6 171.3,414.7 91.0,469.6" fill="#0012f0" stroke="#0012f0" stroke-width="0.6"/><polygon points="91.0,469.6 171.3,414.7 171.6,415.9 91.4,470.9" fill="#0010ec" stroke="#0010ec" stroke-width="0.6"/><polygon points="91.4,470.9 171.6,415.9 171.9,417.1 91.9,472.2" fill="#000ee7" stroke="#000ee7" stroke-width="0.6"/><polygon points="91.9,472.2 171.9,417.1 172.3,418.3 92.3,473.6" fill="#000ce2" stroke="#000ce2" stroke-width="0.6"/><polygon points="92.3,473.6 172.3,418.3 172.6,419.5 92.8,474.9" fill="#000add" stroke="#000add" stroke-width="0.6"/><path d="M87.3 458.7L92.8 474.9M92.6 455.2L98.0 471.3M97.8 451.8L103.1 467.8M102.9 448.4L108.0 464.3M107.9 445.2L112.9 460.9M112.8 441.9L117.7 457.6M117.6 438.8L122.4 454.3M122.4 435.7L127.0 451.1M127.0 432.6L131.6 448.0M131.5 429.7L136.0 444.9M136.0 426.7L140.4 441.9M140.4 423.9L144.6 438.9M144.7 421.0L148.8 436.0M148.9 418.3L153.0 433.1M153.0 415.6L157.0 430.3M157.1 412.9L161.0 427.5M161.1 410.3L164.9 424.8M165.0 407.7L168.8 422.1M168.9 405.1L172.6 419.5M87.3 458.7L168.9 405.1M92.8 474.9L172.6 419.5" stroke="#120d06" stroke-opacity="0.9" stroke-width="1.12" fill="none" stroke-linecap="round"/><polygon points="92.8,474.9 172.6,419.5 173.0,420.7 93.4,476.3" fill="#0008d9" stroke="#0008d9" stroke-width="0.6"/><polygon points="93.4,476.3 173.0,420.7 173.5,421.9 94.1,477.7" fill="#0006d4" stroke="#0006d4" stroke-width="0.6"/><polygon points="94.1,477.7 173.5,421.9 174.0,423.1 94.7,479.1" fill="#0003d0" stroke="#0003d0" stroke-width="0.6"/><polygon points="94.7,479.1 174.0,423.1 174.5,424.3 95.3,480.5" fill="#0001cb" stroke="#0001cb" stroke-width="0.6"/><polygon points="95.3,480.5 174.5,424.3 175.0,425.5 95.9,481.9" fill="#0300c6" stroke="#0300c6" stroke-width="0.6"/><polygon points="95.9,481.9 175.0,425.5 175.4,426.8 96.5,483.3" fill="#0f00bd" stroke="#0f00bd" stroke-width="0.6"/><polygon points="96.5,483.3 175.4,426.8 175.9,428.0 97.2,484.6" fill="#1c00b4" stroke="#1c00b4" stroke-width="0.6"/><polygon points="97.2,484.6 175.9,428.0 176.4,429.2 97.8,486.0" fill="#2800ab" stroke="#2800ab" stroke-width="0.6"/><polygon points="97.8,486.0 176.4,429.2 176.9,430.4 98.4,487.4" fill="#3400a2" stroke="#3400a2" stroke-width="0.6"/><path d="M92.8 474.9L98.4 487.4M98.0 471.3L103.5 483.7M103.1 467.8L108.5 480.1M108.0 464.3L113.4 476.5M112.9 460.9L118.2 473.0M117.7 457.6L122.9 469.6M122.4 454.3L127.5 466.2M127.0 451.1L132.1 462.9M131.6 448.0L136.5 459.7M136.0 444.9L140.9 456.5M140.4 441.9L145.2 453.4M144.6 438.9L149.4 450.3M148.8 436.0L153.5 447.3M153.0 433.1L157.6 444.4M157.0 430.3L161.6 441.5M161.0 427.5L165.5 438.6M164.9 424.8L169.4 435.8M168.8 422.1L173.2 433.1M172.6 419.5L176.9 430.4M92.8 474.9L172.6 419.5M98.4 487.4L176.9 430.4" stroke="#120d06" stroke-opacity="0.9" stroke-width="1.12" fill="none" stroke-linecap="round"/><polygon points="98.4,487.4 176.9,430.4 177.5,431.7 99.2,489.0" fill="#400099" stroke="#400099" stroke-width="0.6"/><polygon points="99.2,489.0 177.5,431.7 178.1,433.1 99.9,490.5" fill="#4d008f" stroke="#4d008f" stroke-width="0.6"/><polygon points="99.9,490.5 178.1,433.1 178.8,434.4 100.7,492.1" fill="#5a0086" stroke="#5a0086" stroke-width="0.6"/><polygon points="100.7,492.1 178.8,434.4 179.4,435.8 101.5,493.6" fill="#67007c" stroke="#67007c" stroke-width="0.6"/><polygon points="101.5,493.6 179.4,435.8 180.0,437.1 102.3,495.2" fill="#740073" stroke="#740073" stroke-width="0.6"/><polygon points="102.3,495.2 180.0,437.1 180.6,438.4 103.0,496.7" fill="#810069" stroke="#810069" stroke-width="0.6"/><polygon points="103.0,496.7 180.6,438.4 181.2,439.8 103.8,498.3" fill="#8e0060" stroke="#8e0060" stroke-width="0.6"/><path d="M98.4 487.4L103.8 498.3M103.5 483.7L108.8 494.5M108.5 480.1L113.8 490.8M113.4 476.5L118.6 487.1M118.2 473.0L123.3 483.5M122.9 469.6L128.0 480.0M127.5 466.2L132.5 476.6M132.1 462.9L137.0 473.2M136.5 459.7L141.4 469.9M140.9 456.5L145.7 466.6M145.2 453.4L149.9 463.4M149.4 450.3L154.1 460.3M153.5 447.3L158.2 457.2M157.6 444.4L162.2 454.2M161.6 441.5L166.1 451.2M165.5 438.6L170.0 448.3M169.4 435.8L173.8 445.4M173.2 433.1L177.6 442.6M176.9 430.4L181.2 439.8M98.4 487.4L176.9 430.4M103.8 498.3L181.2 439.8" stroke="#120d06" stroke-opacity="0.9" stroke-width="1.12" fill="none" stroke-linecap="round"/><polygon points="103.8,498.3 181.2,439.8 181.5,439.0 104.0,497.5" fill="#8e0060" stroke="#8e0060" stroke-width="0.6"/><polygon points="104.0,497.5 181.5,439.0 181.9,438.2 104.2,496.8" fill="#820069" stroke="#820069" stroke-width="0.6"/><polygon points="104.2,496.8 181.9,438.2 182.2,437.5 104.4,496.0" fill="#750072" stroke="#750072" stroke-width="0.6"/><polygon points="104.4,496.0 182.2,437.5 182.5,436.7 104.6,495.2" fill="#68007c" stroke="#68007c" stroke-width="0.6"/><polygon points="104.6,495.2 182.5,436.7 182.8,435.9 104.7,494.4" fill="#5b0085" stroke="#5b0085" stroke-width="0.6"/><polygon points="104.7,494.4 182.8,435.9 183.1,435.1 104.9,493.6" fill="#4f008e" stroke="#4f008e" stroke-width="0.6"/><polygon points="104.9,493.6 183.1,435.1 183.4,434.3 105.1,492.8" fill="#420098" stroke="#420098" stroke-width="0.6"/><polygon points="105.1,492.8 183.4,434.3 183.8,433.5 105.3,492.0" fill="#3500a1" stroke="#3500a1" stroke-width="0.6"/><polygon points="105.3,492.0 183.8,433.5 184.1,432.8 105.5,491.2" fill="#2800aa" stroke="#2800aa" stroke-width="0.6"/><polygon points="105.5,491.2 184.1,432.8 184.4,432.0 105.7,490.4" fill="#1c00b4" stroke="#1c00b4" stroke-width="0.6"/><polygon points="105.7,490.4 184.4,432.0 184.7,431.2 105.9,489.6" fill="#0f00bd" stroke="#0f00bd" stroke-width="0.6"/><polygon points="105.9,489.6 184.7,431.2 185.1,430.4 106.1,488.8" fill="#0200c6" stroke="#0200c6" stroke-width="0.6"/><polygon points="106.1,488.8 185.1,430.4 185.4,429.5 106.3,488.0" fill="#0002cc" stroke="#0002cc" stroke-width="0.6"/><path d="M103.8 498.3L106.3 488.0M108.8 494.5L111.5 484.2M113.8 490.8L116.5 480.5M118.6 487.1L121.5 476.8M123.3 483.5L126.3 473.2M128.0 480.0L131.1 469.7M132.5 476.6L135.7 466.2M137.0 473.2L140.3 462.9M141.4 469.9L144.8 459.6M145.7 466.6L149.2 456.3M149.9 463.4L153.5 453.1M154.1 460.3L157.8 450.0M158.2 457.2L161.9 446.9M162.2 454.2L166.0 443.9M166.1 451.2L170.0 440.9M170.0 448.3L174.0 438.0M173.8 445.4L177.8 435.1M177.6 442.6L181.6 432.3M181.2 439.8L185.4 429.5M103.8 498.3L181.2 439.8M106.3 488.0L185.4 429.5" stroke="#120d06" stroke-opacity="0.9" stroke-width="1.12" fill="none" stroke-linecap="round"/><polygon points="106.3,488.0 185.4,429.5 185.6,428.7 106.4,487.1" fill="#0004d1" stroke="#0004d1" stroke-width="0.6"/><polygon points="106.4,487.1 185.6,428.7 185.9,427.8 106.5,486.2" fill="#0006d5" stroke="#0006d5" stroke-width="0.6"/><polygon points="106.5,486.2 185.9,427.8 186.1,426.9 106.6,485.2" fill="#0008da" stroke="#0008da" stroke-width="0.6"/><polygon points="106.6,485.2 186.1,426.9 186.4,426.0 106.8,484.3" fill="#000bdf" stroke="#000bdf" stroke-width="0.6"/><polygon points="106.8,484.3 186.4,426.0 186.6,425.1 106.9,483.4" fill="#000de4" stroke="#000de4" stroke-width="0.6"/><polygon points="106.9,483.4 186.6,425.1 186.9,424.2 107.0,482.4" fill="#000fe9" stroke="#000fe9" stroke-width="0.6"/><polygon points="107.0,482.4 186.9,424.2 187.1,423.3 107.1,481.5" fill="#0011ee" stroke="#0011ee" stroke-width="0.6"/><polygon points="107.1,481.5 187.1,423.3 187.4,422.4 107.2,480.5" fill="#0013f2" stroke="#0013f2" stroke-width="0.6"/><polygon points="107.2,480.5 187.4,422.4 187.6,421.4 107.3,479.6" fill="#0015f7" stroke="#0015f7" stroke-width="0.6"/><polygon points="107.3,479.6 187.6,421.4 187.9,420.5 107.4,478.6" fill="#0018fc" stroke="#0018fc" stroke-width="0.6"/><polygon points="107.4,478.6 187.9,420.5 188.2,419.6 107.6,477.7" fill="#001dff" stroke="#001dff" stroke-width="0.6"/><polygon points="107.6,477.7 188.2,419.6 188.4,418.7 107.7,476.7" fill="#0028ff" stroke="#0028ff" stroke-width="0.6"/><polygon points="107.7,476.7 188.4,418.7 188.7,417.7 107.8,475.7" fill="#0034ff" stroke="#0034ff" stroke-width="0.6"/><polygon points="107.8,475.7 188.7,417.7 188.9,416.8 107.9,474.8" fill="#003fff" stroke="#003fff" stroke-width="0.6"/><polygon points="107.9,474.8 188.9,416.8 189.2,415.9 108.0,473.8" fill="#004aff" stroke="#004aff" stroke-width="0.6"/><polygon points="108.0,473.8 189.2,415.9 189.5,414.9 108.2,472.8" fill="#0055ff" stroke="#0055ff" stroke-width="0.6"/><polygon points="108.2,472.8 189.5,414.9 189.7,414.0 108.3,471.8" fill="#0060ff" stroke="#0060ff" stroke-width="0.6"/><polygon points="108.3,471.8 189.7,414.0 190.0,413.0 108.4,470.8" fill="#006bff" stroke="#006bff" stroke-width="0.6"/><polygon points="108.4,470.8 190.0,413.0 190.3,412.1 108.5,469.8" fill="#0076ff" stroke="#0076ff" stroke-width="0.6"/><polygon points="108.5,469.8 190.3,412.1 190.5,411.1 108.6,468.8" fill="#0081ff" stroke="#0081ff" stroke-width="0.6"/><polygon points="108.6,468.8 190.5,411.1 190.8,410.2 108.8,467.8" fill="#008dff" stroke="#008dff" stroke-width="0.6"/><polygon points="108.8,467.8 190.8,410.2 191.1,409.2 108.9,466.8" fill="#0098ff" stroke="#0098ff" stroke-width="0.6"/><polygon points="108.9,466.8 191.1,409.2 191.3,408.2 109.0,465.8" fill="#04a1f6" stroke="#04a1f6" stroke-width="0.6"/><polygon points="109.0,465.8 191.3,408.2 191.6,407.3 109.1,464.8" fill="#08aaed" stroke="#08aaed" stroke-width="0.6"/><polygon points="109.1,464.8 191.6,407.3 191.9,406.3 109.3,463.7" fill="#0bb3e4" stroke="#0bb3e4" stroke-width="0.6"/><polygon points="109.3,463.7 191.9,406.3 192.2,405.3 109.4,462.7" fill="#0fbcda" stroke="#0fbcda" stroke-width="0.6"/><polygon points="109.4,462.7 192.2,405.3 192.4,404.3 109.5,461.7" fill="#13c5d1" stroke="#13c5d1" stroke-width="0.6"/><polygon points="109.5,461.7 192.4,404.3 192.7,403.3 109.7,460.6" fill="#17cec8" stroke="#17cec8" stroke-width="0.6"/><polygon points="109.7,460.6 192.7,403.3 193.0,402.4 109.8,459.6" fill="#1bd7bf" stroke="#1bd7bf" stroke-width="0.6"/><polygon points="109.8,459.6 193.0,402.4 193.3,401.4 109.9,458.5" fill="#1fe0b6" stroke="#1fe0b6" stroke-width="0.6"/><polygon points="109.9,458.5 193.3,401.4 193.5,400.4 110.0,457.5" fill="#23e9ac" stroke="#23e9ac" stroke-width="0.6"/><polygon points="110.0,457.5 193.5,400.4 193.8,399.4 110.2,456.4" fill="#26f2a3" stroke="#26f2a3" stroke-width="0.6"/><polygon points="110.2,456.4 193.8,399.4 194.1,398.3 110.3,455.3" fill="#2afb9a" stroke="#2afb9a" stroke-width="0.6"/><polygon points="110.3,455.3 194.1,398.3 194.4,397.3 110.4,454.3" fill="#31ff8f" stroke="#31ff8f" stroke-width="0.6"/><polygon points="110.4,454.3 194.4,397.3 194.7,396.3 110.6,453.2" fill="#3bff82" stroke="#3bff82" stroke-width="0.6"/><polygon points="110.6,453.2 194.7,396.3 195.0,395.3 110.7,452.1" fill="#44ff74" stroke="#44ff74" stroke-width="0.6"/><polygon points="110.7,452.1 195.0,395.3 195.2,394.3 110.8,451.0" fill="#4dff67" stroke="#4dff67" stroke-width="0.6"/><polygon points="110.8,451.0 195.2,394.3 195.5,393.2 111.0,449.9" fill="#57ff5a" stroke="#57ff5a" stroke-width="0.6"/><polygon points="111.0,449.9 195.5,393.2 195.8,392.2 111.1,448.8" fill="#60ff4d" stroke="#60ff4d" stroke-width="0.6"/><polygon points="111.1,448.8 195.8,392.2 196.1,391.2 111.2,447.7" fill="#69ff40" stroke="#69ff40" stroke-width="0.6"/><polygon points="111.2,447.7 196.1,391.2 196.4,390.1 111.4,446.6" fill="#73ff33" stroke="#73ff33" stroke-width="0.6"/><polygon points="111.4,446.6 196.4,390.1 196.7,389.1 111.5,445.5" fill="#7cff26" stroke="#7cff26" stroke-width="0.6"/><polygon points="111.5,445.5 196.7,389.1 197.0,388.0 111.6,444.4" fill="#86ff18" stroke="#86ff18" stroke-width="0.6"/><polygon points="111.6,444.4 197.0,388.0 197.3,387.0 111.8,443.2" fill="#8fff0b" stroke="#8fff0b" stroke-width="0.6"/><polygon points="111.8,443.2 197.3,387.0 197.6,385.9 111.9,442.1" fill="#98ff00" stroke="#98ff00" stroke-width="0.6"/><polygon points="111.9,442.1 197.6,385.9 197.9,384.9 112.1,440.9" fill="#a1fd00" stroke="#a1fd00" stroke-width="0.6"/><polygon points="112.1,440.9 197.9,384.9 198.2,383.8 112.2,439.8" fill="#abfb00" stroke="#abfb00" stroke-width="0.6"/><path d="M106.3 488.0L112.2 439.8M111.5 484.2L117.9 436.1M116.5 480.5L123.5 432.5M121.5 476.8L128.9 428.9M126.3 473.2L134.3 425.4M131.1 469.7L139.5 422.0M135.7 466.2L144.6 418.7M140.3 462.9L149.6 415.5M144.8 459.6L154.4 412.3M149.2 456.3L159.2 409.2M153.5 453.1L163.9 406.1M157.8 450.0L168.5 403.1M161.9 446.9L173.0 400.2M166.0 443.9L177.4 397.3M170.0 440.9L181.7 394.5M174.0 438.0L186.0 391.7M177.8 435.1L190.1 389.0M181.6 432.3L194.2 386.4M185.4 429.5L198.2 383.8M106.3 488.0L185.4 429.5M112.2 439.8L198.2 383.8" stroke="#120d06" stroke-opacity="0.9" stroke-width="1.12" fill="none" stroke-linecap="round"/><polygon points="112.2,439.8 198.2,383.8 198.5,382.7 112.4,438.7" fill="#b4f900" stroke="#b4f900" stroke-width="0.6"/><polygon points="112.4,438.7 198.5,382.7 198.8,381.7 112.5,437.5" fill="#bdf700" stroke="#bdf700" stroke-width="0.6"/><polygon points="112.5,437.5 198.8,381.7 199.2,380.6 112.7,436.4" fill="#c6f600" stroke="#c6f600" stroke-width="0.6"/><polygon points="112.7,436.4 199.2,380.6 199.5,379.5 112.9,435.2" fill="#cff400" stroke="#cff400" stroke-width="0.6"/><polygon points="112.9,435.2 199.5,379.5 199.8,378.4 113.1,434.1" fill="#d8f200" stroke="#d8f200" stroke-width="0.6"/><polygon points="113.1,434.1 199.8,378.4 200.2,377.3 113.2,432.9" fill="#e1f000" stroke="#e1f000" stroke-width="0.6"/><polygon points="113.2,432.9 200.2,377.3 200.5,376.2 113.4,431.7" fill="#eaee00" stroke="#eaee00" stroke-width="0.6"/><polygon points="113.4,431.7 200.5,376.2 200.8,375.2 113.6,430.5" fill="#f4ec00" stroke="#f4ec00" stroke-width="0.6"/><polygon points="113.6,430.5 200.8,375.2 201.2,374.0 113.8,429.4" fill="#fdea00" stroke="#fdea00" stroke-width="0.6"/><polygon points="113.8,429.4 201.2,374.0 201.5,372.9 113.9,428.2" fill="#ffe200" stroke="#ffe200" stroke-width="0.6"/><polygon points="113.9,428.2 201.5,372.9 201.9,371.8 114.1,427.0" fill="#ffd700" stroke="#ffd700" stroke-width="0.6"/><polygon points="114.1,427.0 201.9,371.8 202.2,370.7 114.3,425.8" fill="#ffcc00" stroke="#ffcc00" stroke-width="0.6"/><polygon points="114.3,425.8 202.2,370.7 202.6,369.6 114.5,424.5" fill="#ffc100" stroke="#ffc100" stroke-width="0.6"/><polygon points="114.5,424.5 202.6,369.6 202.9,368.5 114.7,423.3" fill="#ffb700" stroke="#ffb700" stroke-width="0.6"/><polygon points="114.7,423.3 202.9,368.5 203.3,367.3 114.8,422.1" fill="#ffac00" stroke="#ffac00" stroke-width="0.6"/><polygon points="114.8,422.1 203.3,367.3 203.6,366.2 115.0,420.9" fill="#ffa100" stroke="#ffa100" stroke-width="0.6"/><polygon points="115.0,420.9 203.6,366.2 204.0,365.1 115.2,419.6" fill="#ff9600" stroke="#ff9600" stroke-width="0.6"/><polygon points="115.2,419.6 204.0,365.1 204.3,363.9 115.4,418.4" fill="#ff8b00" stroke="#ff8b00" stroke-width="0.6"/><polygon points="115.4,418.4 204.3,363.9 204.7,362.8 115.6,417.1" fill="#ff8100" stroke="#ff8100" stroke-width="0.6"/><polygon points="115.6,417.1 204.7,362.8 205.0,361.6 115.8,415.9" fill="#ff7600" stroke="#ff7600" stroke-width="0.6"/><polygon points="115.8,415.9 205.0,361.6 205.4,360.4 116.0,414.6" fill="#ff6b00" stroke="#ff6b00" stroke-width="0.6"/><polygon points="116.0,414.6 205.4,360.4 205.7,359.3 116.1,413.3" fill="#ff6200" stroke="#ff6200" stroke-width="0.6"/><polygon points="116.1,413.3 205.7,359.3 206.1,358.1 116.3,412.1" fill="#ff5800" stroke="#ff5800" stroke-width="0.6"/><polygon points="116.3,412.1 206.1,358.1 206.5,356.9 116.5,410.8" fill="#ff4e00" stroke="#ff4e00" stroke-width="0.6"/><polygon points="116.5,410.8 206.5,356.9 206.8,355.7 116.7,409.5" fill="#ff4400" stroke="#ff4400" stroke-width="0.6"/><polygon points="116.7,409.5 206.8,355.7 207.2,354.6 116.9,408.2" fill="#ff3b00" stroke="#ff3b00" stroke-width="0.6"/><polygon points="116.9,408.2 207.2,354.6 207.6,353.4 117.1,406.9" fill="#ff3100" stroke="#ff3100" stroke-width="0.6"/><polygon points="117.1,406.9 207.6,353.4 207.9,352.2 117.3,405.5" fill="#ff2700" stroke="#ff2700" stroke-width="0.6"/><polygon points="117.3,405.5 207.9,352.2 208.3,351.0 117.5,404.2" fill="#ff1d00" stroke="#ff1d00" stroke-width="0.6"/><polygon points="117.5,404.2 208.3,351.0 208.7,349.7 117.7,402.9" fill="#ff1400" stroke="#ff1400" stroke-width="0.6"/><polygon points="117.7,402.9 208.7,349.7 209.1,348.5 117.9,401.5" fill="#ff0a00" stroke="#ff0a00" stroke-width="0.6"/><polygon points="117.9,401.5 209.1,348.5 209.4,347.3 118.1,400.2" fill="#ff0000" stroke="#ff0000" stroke-width="0.6"/><path d="M112.2 439.8L118.1 400.2M117.9 436.1L124.2 396.6M123.5 432.5L130.2 393.2M128.9 428.9L136.1 389.8M134.3 425.4L141.8 386.5M139.5 422.0L147.4 383.2M144.6 418.7L152.8 380.1M149.6 415.5L158.1 377.0M154.4 412.3L163.3 374.0M159.2 409.2L168.4 371.1M163.9 406.1L173.4 368.2M168.5 403.1L178.2 365.4M173.0 400.2L183.0 362.6M177.4 397.3L187.6 359.9M181.7 394.5L192.2 357.3M186.0 391.7L196.6 354.7M190.1 389.0L201.0 352.2M194.2 386.4L205.3 349.7M198.2 383.8L209.4 347.3M112.2 439.8L198.2 383.8M118.1 400.2L209.4 347.3" stroke="#120d06" stroke-opacity="0.9" stroke-width="1.12" fill="none" stroke-linecap="round"/><polygon points="118.1,400.2 209.4,347.3 209.4,348.7 118.3,401.8" fill="#ff0000" stroke="#ff0000" stroke-width="0.6"/><polygon points="118.3,401.8 209.4,348.7 209.4,350.1 118.5,403.4" fill="#ff0a00" stroke="#ff0a00" stroke-width="0.6"/><polygon points="118.5,403.4 209.4,350.1 209.4,351.4 118.7,404.9" fill="#ff1400" stroke="#ff1400" stroke-width="0.6"/><polygon points="118.7,404.9 209.4,351.4 209.4,352.8 118.9,406.5" fill="#ff1d00" stroke="#ff1d00" stroke-width="0.6"/><polygon points="118.9,406.5 209.4,352.8 209.4,354.2 119.0,408.0" fill="#ff2700" stroke="#ff2700" stroke-width="0.6"/><polygon points="119.0,408.0 209.4,354.2 209.4,355.5 119.2,409.6" fill="#ff3100" stroke="#ff3100" stroke-width="0.6"/><polygon points="119.2,409.6 209.4,355.5 209.4,356.9 119.4,411.1" fill="#ff3b00" stroke="#ff3b00" stroke-width="0.6"/><polygon points="119.4,411.1 209.4,356.9 209.4,358.2 119.6,412.7" fill="#ff4400" stroke="#ff4400" stroke-width="0.6"/><polygon points="119.6,412.7 209.4,358.2 209.4,359.6 119.8,414.2" fill="#ff4e00" stroke="#ff4e00" stroke-width="0.6"/><polygon points="119.8,414.2 209.4,359.6 209.4,360.9 120.0,415.7" fill="#ff5800" stroke="#ff5800" stroke-width="0.6"/><polygon points="120.0,415.7 209.4,360.9 209.4,362.2 120.1,417.2" fill="#ff6200" stroke="#ff6200" stroke-width="0.6"/><polygon points="120.1,417.2 209.4,362.2 209.4,363.6 120.3,418.7" fill="#ff6b00" stroke="#ff6b00" stroke-width="0.6"/><polygon points="120.3,418.7 209.4,363.6 209.4,364.9 120.5,420.3" fill="#ff7600" stroke="#ff7600" stroke-width="0.6"/><polygon points="120.5,420.3 209.4,364.9 209.4,366.2 120.7,421.8" fill="#ff8100" stroke="#ff8100" stroke-width="0.6"/><polygon points="120.7,421.8 209.4,366.2 209.4,367.5 120.9,423.2" fill="#ff8b00" stroke="#ff8b00" stroke-width="0.6"/><polygon points="120.9,423.2 209.4,367.5 209.4,368.9 121.0,424.7" fill="#ff9600" stroke="#ff9600" stroke-width="0.6"/><polygon points="121.0,424.7 209.4,368.9 209.4,370.2 121.2,426.2" fill="#ffa100" stroke="#ffa100" stroke-width="0.6"/><polygon points="121.2,426.2 209.4,370.2 209.4,371.5 121.4,427.7" fill="#ffac00" stroke="#ffac00" stroke-width="0.6"/><polygon points="121.4,427.7 209.4,371.5 209.4,372.8 121.6,429.1" fill="#ffb700" stroke="#ffb700" stroke-width="0.6"/><polygon points="121.6,429.1 209.4,372.8 209.4,374.1 121.8,430.6" fill="#ffc200" stroke="#ffc200" stroke-width="0.6"/><polygon points="121.8,430.6 209.4,374.1 209.4,375.4 121.9,432.1" fill="#ffcc00" stroke="#ffcc00" stroke-width="0.6"/><polygon points="121.9,432.1 209.4,375.4 209.4,376.6 122.1,433.5" fill="#ffd700" stroke="#ffd700" stroke-width="0.6"/><polygon points="122.1,433.5 209.4,376.6 209.4,377.9 122.3,435.0" fill="#ffe200" stroke="#ffe200" stroke-width="0.6"/><polygon points="122.3,435.0 209.4,377.9 209.4,379.2 122.4,436.4" fill="#fdea00" stroke="#fdea00" stroke-width="0.6"/><polygon points="122.4,436.4 209.4,379.2 209.4,380.5 122.6,437.8" fill="#f4ec00" stroke="#f4ec00" stroke-width="0.6"/><polygon points="122.6,437.8 209.4,380.5 209.3,381.7 122.8,439.3" fill="#eaee00" stroke="#eaee00" stroke-width="0.6"/><polygon points="122.8,439.3 209.3,381.7 209.3,383.0 123.0,440.7" fill="#e1f000" stroke="#e1f000" stroke-width="0.6"/><polygon points="123.0,440.7 209.3,383.0 209.3,384.3 123.1,442.1" fill="#d8f200" stroke="#d8f200" stroke-width="0.6"/><polygon points="123.1,442.1 209.3,384.3 209.3,385.5 123.3,443.5" fill="#cff400" stroke="#cff400" stroke-width="0.6"/><path d="M118.1 400.2L123.3 443.5M124.2 396.6L129.0 439.6M130.2 393.2L134.6 435.9M136.1 389.8L140.1 432.2M141.8 386.5L145.5 428.6M147.4 383.2L150.7 425.1M152.8 380.1L155.8 421.6M158.1 377.0L160.8 418.2M163.3 374.0L165.7 414.9M168.4 371.1L170.5 411.7M173.4 368.2L175.2 408.6M178.2 365.4L179.7 405.5M183.0 362.6L184.2 402.4M187.6 359.9L188.6 399.5M192.2 357.3L192.9 396.6M196.6 354.7L197.2 393.7M201.0 352.2L201.3 390.9M205.3 349.7L205.4 388.2M209.4 347.3L209.3 385.5M118.1 400.2L209.4 347.3M123.3 443.5L209.3 385.5" stroke="#120d06" stroke-opacity="0.9" stroke-width="1.12" fill="none" stroke-linecap="round"/></g>
<path d="M115.5 515.1l-3.5 2.8M131.2 515.1l3.5 2.8M105.7 507.2l-3.6 2.8M140.8 507.0l3.6 2.7M96.3 499.5l-3.6 2.7M150.1 499.3l3.6 2.7M87.3 492.1l-3.7 2.6M159.0 491.8l3.7 2.6M78.5 484.9l-3.7 2.6M167.6 484.7l3.7 2.6M70.1 478.0l-3.7 2.5M175.9 477.8l3.7 2.5M61.9 471.3l-3.8 2.5M183.9 471.2l3.8 2.5M54.1 464.9l-3.8 2.4M191.5 464.7l3.8 2.4M46.4 458.6l-3.8 2.3M199.0 458.6l3.8 2.4" stroke="#8a8a8a" stroke-width="1" fill="none"/><g font-family='"DejaVu Sans","Liberation Sans",sans-serif' fill="#444"><text transform="translate(95.9,531.0) rotate(-31)" font-size="10.4" text-anchor="middle" dominant-baseline="central">0.1</text><text transform="translate(150.2,530.2) rotate(43)" font-size="10.4" text-anchor="middle" dominant-baseline="central">0.1</text><text transform="translate(86.1,522.4) rotate(-31)" font-size="10.4" text-anchor="middle" dominant-baseline="central">0.2</text><text transform="translate(159.8,521.6) rotate(43)" font-size="10.4" text-anchor="middle" dominant-baseline="central">0.2</text><text transform="translate(76.7,514.1) rotate(-31)" font-size="10.4" text-anchor="middle" dominant-baseline="central">0.3</text><text transform="translate(169.0,513.3) rotate(43)" font-size="10.4" text-anchor="middle" dominant-baseline="central">0.3</text><text transform="translate(67.7,506.1) rotate(-31)" font-size="10.4" text-anchor="middle" dominant-baseline="central">0.4</text><text transform="translate(177.9,505.3) rotate(43)" font-size="10.4" text-anchor="middle" dominant-baseline="central">0.4</text><text transform="translate(59.0,498.5) rotate(-31)" font-size="10.4" text-anchor="middle" dominant-baseline="central">0.5</text><text transform="translate(186.4,497.6) rotate(43)" font-size="10.4" text-anchor="middle" dominant-baseline="central">0.5</text><text transform="translate(50.6,491.1) rotate(-31)" font-size="10.4" text-anchor="middle" dominant-baseline="central">0.6</text><text transform="translate(194.5,490.3) rotate(43)" font-size="10.4" text-anchor="middle" dominant-baseline="central">0.6</text><text transform="translate(42.5,483.9) rotate(-31)" font-size="10.4" text-anchor="middle" dominant-baseline="central">0.7</text><text transform="translate(202.4,483.2) rotate(43)" font-size="10.4" text-anchor="middle" dominant-baseline="central">0.7</text><text transform="translate(34.7,477.0) rotate(-31)" font-size="10.4" text-anchor="middle" dominant-baseline="central">0.8</text><text transform="translate(210.0,476.4) rotate(43)" font-size="10.4" text-anchor="middle" dominant-baseline="central">0.8</text><text transform="translate(27.2,470.4) rotate(-31)" font-size="10.4" text-anchor="middle" dominant-baseline="central">0.9</text><text transform="translate(217.3,469.8) rotate(43)" font-size="10.4" text-anchor="middle" dominant-baseline="central">0.9</text><text transform="translate(23.9,458.1) rotate(-25)" font-size="10.4" text-anchor="middle" dominant-baseline="central">0.7</text><text transform="translate(17.1,415.0) rotate(-25)" font-size="10.4" text-anchor="middle" dominant-baseline="central">0.8</text><text transform="translate(9.1,364.7) rotate(-25)" font-size="10.4" text-anchor="middle" dominant-baseline="central">0.9</text><text x="34.5" y="516" font-size="11.6" text-anchor="middle" dominant-baseline="central">CO2</text><text x="211.2" y="516.5" font-size="11.6" text-anchor="middle" dominant-baseline="central">ICT</text></g>
<defs><linearGradient id="cbB" x1="0" y1="0" x2="0" y2="1"><stop offset="0.000" stop-color="rgb(255,0,0)"/><stop offset="0.125" stop-color="rgb(255,111,0)"/><stop offset="0.250" stop-color="rgb(255,234,0)"/><stop offset="0.375" stop-color="rgb(151,255,0)"/><stop offset="0.500" stop-color="rgb(44,255,150)"/><stop offset="0.625" stop-color="rgb(0,152,255)"/><stop offset="0.750" stop-color="rgb(0,25,255)"/><stop offset="0.875" stop-color="rgb(0,0,200)"/><stop offset="1.000" stop-color="rgb(150,0,90)"/></linearGradient></defs><rect x="283.6" y="353.3" width="6.6" height="101.5" fill="url(#cbB)" stroke="#555" stroke-width="0.7"/><g font-family='"DejaVu Sans","Liberation Sans",sans-serif' fill="#444" font-size="9.8"><line x1="288.7" y1="360.9" x2="292.0" y2="360.9" stroke="#444" stroke-width="0.9"/><text x="294.0" y="361.7" dominant-baseline="central">0.9</text><line x1="288.7" y1="383.6" x2="292.0" y2="383.6" stroke="#444" stroke-width="0.9"/><text x="294.0" y="384.4" dominant-baseline="central">0.85</text><line x1="288.7" y1="406.4" x2="292.0" y2="406.4" stroke="#444" stroke-width="0.9"/><text x="294.0" y="407.2" dominant-baseline="central">0.8</text><line x1="288.7" y1="429.1" x2="292.0" y2="429.1" stroke="#444" stroke-width="0.9"/><text x="294.0" y="429.9" dominant-baseline="central">0.75</text><line x1="288.7" y1="451.9" x2="292.0" y2="451.9" stroke="#444" stroke-width="0.9"/><text x="294.0" y="452.7" dominant-baseline="central">0.7</text></g>
<rect x="414.9" y="310.5" width="258.2" height="183.0" fill="#ff2b2b"/><path d="M428.49 310.5V493.5M442.08 310.5V493.5M455.67 310.5V493.5M469.26 310.5V493.5M482.85 310.5V493.5M496.44 310.5V493.5M510.03 310.5V493.5M523.62 310.5V493.5M537.21 310.5V493.5M550.79 310.5V493.5M564.38 310.5V493.5M577.97 310.5V493.5M591.56 310.5V493.5M605.15 310.5V493.5M618.74 310.5V493.5M632.33 310.5V493.5M645.92 310.5V493.5M659.51 310.5V493.5" stroke="#3f8ce0" stroke-opacity="0.76" stroke-width="1.4" fill="none"/><path d="M414.9 320.13H673.1M414.9 329.76H673.1M414.9 339.39H673.1M414.9 349.03H673.1M414.9 358.66H673.1M414.9 368.29H673.1M414.9 377.92H673.1M414.9 387.55H673.1M414.9 397.18H673.1M414.9 406.82H673.1M414.9 416.45H673.1M414.9 426.08H673.1M414.9 435.71H673.1M414.9 445.34H673.1M414.9 454.97H673.1M414.9 464.61H673.1M414.9 474.24H673.1M414.9 483.87H673.1" stroke="#3f8ce0" stroke-opacity="0.76" stroke-width="1.4" fill="none"/><rect x="415.20" y="310.80" width="257.60" height="182.40" fill="none" stroke="#5796dc" stroke-width="1.5"/><path d="M421.69 493.8v4.3M413.3 488.68h-5.1M435.28 493.8v4.3M413.3 479.05h-5.1M448.87 493.8v4.3M413.3 469.42h-5.1M462.46 493.8v4.3M413.3 459.79h-5.1M476.05 493.8v4.3M413.3 450.16h-5.1M489.64 493.8v4.3M413.3 440.53h-5.1M503.23 493.8v4.3M413.3 430.89h-5.1M516.82 493.8v4.3M413.3 421.26h-5.1M530.41 493.8v4.3M413.3 411.63h-5.1M544.00 493.8v4.3M413.3 402.00h-5.1M557.59 493.8v4.3M413.3 392.37h-5.1M571.18 493.8v4.3M413.3 382.74h-5.1M584.77 493.8v4.3M413.3 373.11h-5.1M598.36 493.8v4.3M413.3 363.47h-5.1M611.95 493.8v4.3M413.3 353.84h-5.1M625.54 493.8v4.3M413.3 344.21h-5.1M639.13 493.8v4.3M413.3 334.58h-5.1M652.72 493.8v4.3M413.3 324.95h-5.1M666.31 493.8v4.3M413.3 315.32h-5.1" stroke="#333" stroke-width="1.2" fill="none"/><g font-family='"Liberation Sans",sans-serif' fill="#505050" font-size="13.4"><text transform="translate(404.7,489.6) scale(0.981,0.972)" text-anchor="end" dominant-baseline="central">0.05</text><text transform="translate(433.6,501.2) scale(1.040,0.906) rotate(-90)" text-anchor="end">0.05</text><text transform="translate(404.7,480.0) scale(0.981,0.972)" text-anchor="end" dominant-baseline="central">0.10</text><text transform="translate(447.2,501.2) scale(1.040,0.906) rotate(-90)" text-anchor="end">0.10</text><text transform="translate(404.7,470.4) scale(0.981,0.972)" text-anchor="end" dominant-baseline="central">0.15</text><text transform="translate(460.7,501.2) scale(1.040,0.906) rotate(-90)" text-anchor="end">0.15</text><text transform="translate(404.7,460.7) scale(0.981,0.972)" text-anchor="end" dominant-baseline="central">0.20</text><text transform="translate(474.3,501.2) scale(1.040,0.906) rotate(-90)" text-anchor="end">0.20</text><text transform="translate(404.7,451.1) scale(0.981,0.972)" text-anchor="end" dominant-baseline="central">0.25</text><text transform="translate(487.9,501.2) scale(1.040,0.906) rotate(-90)" text-anchor="end">0.25</text><text transform="translate(404.7,441.5) scale(0.981,0.972)" text-anchor="end" dominant-baseline="central">0.30</text><text transform="translate(501.5,501.2) scale(1.040,0.906) rotate(-90)" text-anchor="end">0.30</text><text transform="translate(404.7,431.8) scale(0.981,0.972)" text-anchor="end" dominant-baseline="central">0.35</text><text transform="translate(515.1,501.2) scale(1.040,0.906) rotate(-90)" text-anchor="end">0.35</text><text transform="translate(404.7,422.2) scale(0.981,0.972)" text-anchor="end" dominant-baseline="central">0.40</text><text transform="translate(528.7,501.2) scale(1.040,0.906) rotate(-90)" text-anchor="end">0.40</text><text transform="translate(404.7,412.6) scale(0.981,0.972)" text-anchor="end" dominant-baseline="central">0.45</text><text transform="translate(542.3,501.2) scale(1.040,0.906) rotate(-90)" text-anchor="end">0.45</text><text transform="translate(404.7,402.9) scale(0.981,0.972)" text-anchor="end" dominant-baseline="central">0.50</text><text transform="translate(555.9,501.2) scale(1.040,0.906) rotate(-90)" text-anchor="end">0.50</text><text transform="translate(404.7,393.3) scale(0.981,0.972)" text-anchor="end" dominant-baseline="central">0.55</text><text transform="translate(569.5,501.2) scale(1.040,0.906) rotate(-90)" text-anchor="end">0.55</text><text transform="translate(404.7,383.7) scale(0.981,0.972)" text-anchor="end" dominant-baseline="central">0.60</text><text transform="translate(583.1,501.2) scale(1.040,0.906) rotate(-90)" text-anchor="end">0.60</text><text transform="translate(404.7,374.0) scale(0.981,0.972)" text-anchor="end" dominant-baseline="central">0.65</text><text transform="translate(596.6,501.2) scale(1.040,0.906) rotate(-90)" text-anchor="end">0.65</text><text transform="translate(404.7,364.4) scale(0.981,0.972)" text-anchor="end" dominant-baseline="central">0.70</text><text transform="translate(610.2,501.2) scale(1.040,0.906) rotate(-90)" text-anchor="end">0.70</text><text transform="translate(404.7,354.8) scale(0.981,0.972)" text-anchor="end" dominant-baseline="central">0.75</text><text transform="translate(623.8,501.2) scale(1.040,0.906) rotate(-90)" text-anchor="end">0.75</text><text transform="translate(404.7,345.1) scale(0.981,0.972)" text-anchor="end" dominant-baseline="central">0.80</text><text transform="translate(637.4,501.2) scale(1.040,0.906) rotate(-90)" text-anchor="end">0.80</text><text transform="translate(404.7,335.5) scale(0.981,0.972)" text-anchor="end" dominant-baseline="central">0.85</text><text transform="translate(651.0,501.2) scale(1.040,0.906) rotate(-90)" text-anchor="end">0.85</text><text transform="translate(404.7,325.9) scale(0.981,0.972)" text-anchor="end" dominant-baseline="central">0.90</text><text transform="translate(664.6,501.2) scale(1.040,0.906) rotate(-90)" text-anchor="end">0.90</text><text transform="translate(404.7,316.3) scale(0.981,0.972)" text-anchor="end" dominant-baseline="central">0.95</text><text transform="translate(678.2,501.2) scale(1.040,0.906) rotate(-90)" text-anchor="end">0.95</text></g><g font-family='"Liberation Sans",sans-serif' fill="#000" font-size="16.2"><text transform="translate(542.6,541.3) scale(1.040,0.939)" text-anchor="middle">CO2</text><text transform="translate(373.4,402.4) scale(1.040,0.939) rotate(-90)" text-anchor="middle">ICT</text></g>
<!-- plot C -->
<g><line x1="144.7" y1="777.2" x2="43.7" y2="712.3" stroke="#dcdcdc" stroke-width="0.9"/><line x1="126.5" y1="777.1" x2="212.9" y2="712.8" stroke="#dcdcdc" stroke-width="0.9"/><line x1="43.7" y1="712.3" x2="33.5" y2="595.8" stroke="#dcdcdc" stroke-width="0.9"/><line x1="212.9" y1="712.8" x2="238.0" y2="595.7" stroke="#dcdcdc" stroke-width="0.9"/><line x1="155.0" y1="769.2" x2="54.0" y2="706.9" stroke="#dcdcdc" stroke-width="0.9"/><line x1="114.4" y1="769.1" x2="201.2" y2="707.3" stroke="#dcdcdc" stroke-width="0.9"/><line x1="54.0" y1="706.9" x2="46.1" y2="591.7" stroke="#dcdcdc" stroke-width="0.9"/><line x1="201.2" y1="707.3" x2="223.4" y2="591.5" stroke="#dcdcdc" stroke-width="0.9"/><line x1="164.8" y1="761.6" x2="63.9" y2="701.6" stroke="#dcdcdc" stroke-width="0.9"/><line x1="102.8" y1="761.4" x2="190.0" y2="701.9" stroke="#dcdcdc" stroke-width="0.9"/><line x1="63.9" y1="701.6" x2="58.2" y2="587.7" stroke="#dcdcdc" stroke-width="0.9"/><line x1="190.0" y1="701.9" x2="209.5" y2="587.6" stroke="#dcdcdc" stroke-width="0.9"/><line x1="174.3" y1="754.3" x2="73.5" y2="696.5" stroke="#dcdcdc" stroke-width="0.9"/><line x1="91.7" y1="754.0" x2="179.1" y2="696.8" stroke="#dcdcdc" stroke-width="0.9"/><line x1="73.5" y1="696.5" x2="69.7" y2="583.9" stroke="#dcdcdc" stroke-width="0.9"/><line x1="179.1" y1="696.8" x2="196.1" y2="583.8" stroke="#dcdcdc" stroke-width="0.9"/><line x1="183.4" y1="747.3" x2="82.8" y2="691.6" stroke="#dcdcdc" stroke-width="0.9"/><line x1="81.0" y1="746.9" x2="168.7" y2="691.8" stroke="#dcdcdc" stroke-width="0.9"/><line x1="82.8" y1="691.6" x2="80.8" y2="580.3" stroke="#dcdcdc" stroke-width="0.9"/><line x1="168.7" y1="691.8" x2="183.3" y2="580.1" stroke="#dcdcdc" stroke-width="0.9"/><line x1="192.1" y1="740.6" x2="91.7" y2="686.9" stroke="#dcdcdc" stroke-width="0.9"/><line x1="70.8" y1="740.1" x2="158.5" y2="687.0" stroke="#dcdcdc" stroke-width="0.9"/><line x1="91.7" y1="686.9" x2="91.5" y2="576.7" stroke="#dcdcdc" stroke-width="0.9"/><line x1="158.5" y1="687.0" x2="170.9" y2="576.6" stroke="#dcdcdc" stroke-width="0.9"/><line x1="200.5" y1="734.1" x2="100.4" y2="682.2" stroke="#dcdcdc" stroke-width="0.9"/><line x1="60.9" y1="733.6" x2="148.7" y2="682.3" stroke="#dcdcdc" stroke-width="0.9"/><line x1="100.4" y1="682.2" x2="101.8" y2="573.4" stroke="#dcdcdc" stroke-width="0.9"/><line x1="148.7" y1="682.3" x2="159.1" y2="573.3" stroke="#dcdcdc" stroke-width="0.9"/><line x1="208.6" y1="727.8" x2="108.8" y2="677.8" stroke="#dcdcdc" stroke-width="0.9"/><line x1="51.5" y1="727.3" x2="139.3" y2="677.8" stroke="#dcdcdc" stroke-width="0.9"/><line x1="108.8" y1="677.8" x2="111.7" y2="570.1" stroke="#dcdcdc" stroke-width="0.9"/><line x1="139.3" y1="677.8" x2="147.7" y2="570.1" stroke="#dcdcdc" stroke-width="0.9"/><line x1="216.4" y1="721.8" x2="116.9" y2="673.4" stroke="#dcdcdc" stroke-width="0.9"/><line x1="42.4" y1="721.3" x2="130.1" y2="673.5" stroke="#dcdcdc" stroke-width="0.9"/><line x1="116.9" y1="673.4" x2="121.3" y2="567.0" stroke="#dcdcdc" stroke-width="0.9"/><line x1="130.1" y1="673.5" x2="136.8" y2="566.9" stroke="#dcdcdc" stroke-width="0.9"/><line x1="33.9" y1="701.1" x2="123.9" y2="655.7" stroke="#dcdcdc" stroke-width="0.9"/><line x1="123.9" y1="655.7" x2="225.9" y2="701.5" stroke="#dcdcdc" stroke-width="0.9"/><line x1="28.1" y1="645.2" x2="126.4" y2="605.1" stroke="#dcdcdc" stroke-width="0.9"/><line x1="126.4" y1="605.1" x2="239.1" y2="645.3" stroke="#dcdcdc" stroke-width="0.9"/></g>
<line x1="35.5" y1="716.7" x2="136.4" y2="783.6" stroke="#8a8a8a" stroke-width="1"/>
<line x1="136.4" y1="783.6" x2="222.3" y2="717.3" stroke="#8a8a8a" stroke-width="1"/>
<line x1="35.5" y1="716.7" x2="23.4" y2="599.2" stroke="#8a8a8a" stroke-width="1"/>
<g><polygon points="39.6,712.4 122.6,668.6 122.8,667.7 39.6,711.5" fill="#840067" stroke="#840067" stroke-width="0.6"/><polygon points="39.6,711.5 122.8,667.7 122.9,666.8 39.7,710.5" fill="#770071" stroke="#770071" stroke-width="0.6"/><polygon points="39.7,710.5 122.9,666.8 123.1,665.9 39.7,709.6" fill="#6a007a" stroke="#6a007a" stroke-width="0.6"/><polygon points="39.7,709.6 123.1,665.9 123.3,665.0 39.7,708.6" fill="#5d0084" stroke="#5d0084" stroke-width="0.6"/><polygon points="39.7,708.6 123.3,665.0 123.5,664.1 39.7,707.6" fill="#4f008e" stroke="#4f008e" stroke-width="0.6"/><polygon points="39.7,707.6 123.5,664.1 123.6,663.2 39.8,706.7" fill="#420098" stroke="#420098" stroke-width="0.6"/><polygon points="39.8,706.7 123.6,663.2 123.8,662.3 39.8,705.7" fill="#3500a1" stroke="#3500a1" stroke-width="0.6"/><polygon points="39.8,705.7 123.8,662.3 124.0,661.4 39.8,704.7" fill="#2800ab" stroke="#2800ab" stroke-width="0.6"/><polygon points="39.8,704.7 124.0,661.4 124.2,660.5 39.9,703.8" fill="#1a00b5" stroke="#1a00b5" stroke-width="0.6"/><polygon points="39.9,703.8 124.2,660.5 124.4,659.6 39.9,702.8" fill="#0d00be" stroke="#0d00be" stroke-width="0.6"/><polygon points="39.9,702.8 124.4,659.6 124.5,658.6 39.9,701.8" fill="#0000c8" stroke="#0000c8" stroke-width="0.6"/><polygon points="39.9,701.8 124.5,658.6 124.7,657.7 39.9,700.8" fill="#0002cd" stroke="#0002cd" stroke-width="0.6"/><polygon points="39.9,700.8 124.7,657.7 124.9,656.8 40.0,699.8" fill="#0004d2" stroke="#0004d2" stroke-width="0.6"/><polygon points="40.0,699.8 124.9,656.8 125.1,655.8 40.0,698.8" fill="#0007d7" stroke="#0007d7" stroke-width="0.6"/><polygon points="40.0,698.8 125.1,655.8 125.3,654.9 40.0,697.8" fill="#0009dc" stroke="#0009dc" stroke-width="0.6"/><polygon points="40.0,697.8 125.3,654.9 125.5,654.0 40.1,696.8" fill="#000be0" stroke="#000be0" stroke-width="0.6"/><polygon points="40.1,696.8 125.5,654.0 125.6,653.0 40.1,695.8" fill="#000de5" stroke="#000de5" stroke-width="0.6"/><polygon points="40.1,695.8 125.6,653.0 125.8,652.1 40.1,694.8" fill="#000fea" stroke="#000fea" stroke-width="0.6"/><polygon points="40.1,694.8 125.8,652.1 126.0,651.1 40.2,693.8" fill="#0012ef" stroke="#0012ef" stroke-width="0.6"/><polygon points="40.2,693.8 126.0,651.1 126.2,650.2 40.2,692.8" fill="#0014f4" stroke="#0014f4" stroke-width="0.6"/><polygon points="40.2,692.8 126.2,650.2 126.4,649.2 40.2,691.7" fill="#0016f9" stroke="#0016f9" stroke-width="0.6"/><polygon points="40.2,691.7 126.4,649.2 126.6,648.3 40.3,690.7" fill="#0018fe" stroke="#0018fe" stroke-width="0.6"/><polygon points="40.3,690.7 126.6,648.3 126.8,647.3 40.3,689.7" fill="#0021ff" stroke="#0021ff" stroke-width="0.6"/><polygon points="40.3,689.7 126.8,647.3 126.9,646.3 40.3,688.6" fill="#002cff" stroke="#002cff" stroke-width="0.6"/><polygon points="40.3,688.6 126.9,646.3 127.1,645.3 40.3,687.6" fill="#0037ff" stroke="#0037ff" stroke-width="0.6"/><polygon points="40.3,687.6 127.1,645.3 127.3,644.4 40.4,686.5" fill="#0043ff" stroke="#0043ff" stroke-width="0.6"/><polygon points="40.4,686.5 127.3,644.4 127.5,643.4 40.4,685.5" fill="#004eff" stroke="#004eff" stroke-width="0.6"/><polygon points="40.4,685.5 127.5,643.4 127.7,642.4 40.4,684.4" fill="#0059ff" stroke="#0059ff" stroke-width="0.6"/><polygon points="40.4,684.4 127.7,642.4 127.9,641.4 40.5,683.4" fill="#0064ff" stroke="#0064ff" stroke-width="0.6"/><polygon points="40.5,683.4 127.9,641.4 128.1,640.4 40.5,682.3" fill="#006fff" stroke="#006fff" stroke-width="0.6"/><polygon points="40.5,682.3 128.1,640.4 128.3,639.4 40.5,681.2" fill="#007bff" stroke="#007bff" stroke-width="0.6"/><polygon points="40.5,681.2 128.3,639.4 128.5,638.4 40.6,680.1" fill="#0086ff" stroke="#0086ff" stroke-width="0.6"/><polygon points="40.6,680.1 128.5,638.4 128.7,637.4 40.6,679.1" fill="#0091ff" stroke="#0091ff" stroke-width="0.6"/><polygon points="40.6,679.1 128.7,637.4 128.9,636.4 40.6,678.0" fill="#019cfb" stroke="#019cfb" stroke-width="0.6"/><polygon points="40.6,678.0 128.9,636.4 129.1,635.4 40.7,676.9" fill="#05a5f2" stroke="#05a5f2" stroke-width="0.6"/><polygon points="40.7,676.9 129.1,635.4 129.3,634.4 40.7,675.8" fill="#09aee9" stroke="#09aee9" stroke-width="0.6"/><polygon points="40.7,675.8 129.3,634.4 129.5,633.4 40.7,674.7" fill="#0db7e0" stroke="#0db7e0" stroke-width="0.6"/><polygon points="40.7,674.7 129.5,633.4 129.7,632.4 40.8,673.6" fill="#11c0d6" stroke="#11c0d6" stroke-width="0.6"/><polygon points="40.8,673.6 129.7,632.4 129.9,631.3 40.8,672.5" fill="#15c9cd" stroke="#15c9cd" stroke-width="0.6"/><polygon points="40.8,672.5 129.9,631.3 130.1,630.3 40.8,671.3" fill="#19d2c4" stroke="#19d2c4" stroke-width="0.6"/><polygon points="40.8,671.3 130.1,630.3 130.3,629.3 40.9,670.2" fill="#1ddbba" stroke="#1ddbba" stroke-width="0.6"/><polygon points="40.9,670.2 130.3,629.3 130.5,628.2 40.9,669.1" fill="#21e4b1" stroke="#21e4b1" stroke-width="0.6"/><path d="M39.6 712.4L40.9 669.1M44.9 709.6L46.7 666.5M50.1 706.8L52.4 663.9M55.2 704.1L58.0 661.3M60.3 701.5L63.4 658.8M65.2 698.9L68.8 656.4M70.1 696.3L74.1 654.0M74.9 693.8L79.3 651.6M79.6 691.3L84.3 649.3M84.2 688.9L89.3 647.0M88.7 686.5L94.2 644.8M93.2 684.1L99.0 642.6M97.6 681.8L103.8 640.4M102.0 679.5L108.4 638.3M106.2 677.2L113.0 636.2M110.4 675.0L117.5 634.2M114.5 672.9L121.9 632.2M118.6 670.7L126.2 630.2M122.6 668.6L130.5 628.2M39.6 712.4L122.6 668.6M40.9 669.1L130.5 628.2" stroke="#120d06" stroke-opacity="0.9" stroke-width="1.12" fill="none" stroke-linecap="round"/><polygon points="40.9,669.1 130.5,628.2 130.7,627.3 41.0,668.0" fill="#24eda8" stroke="#24eda8" stroke-width="0.6"/><polygon points="41.0,668.0 130.7,627.3 131.0,626.3 41.1,667.0" fill="#28f69f" stroke="#28f69f" stroke-width="0.6"/><polygon points="41.1,667.0 131.0,626.3 131.3,625.3 41.2,665.9" fill="#2cff96" stroke="#2cff96" stroke-width="0.6"/><polygon points="41.2,665.9 131.3,625.3 131.5,624.3 41.3,664.8" fill="#35ff89" stroke="#35ff89" stroke-width="0.6"/><polygon points="41.3,664.8 131.5,624.3 131.8,623.3 41.4,663.8" fill="#3eff7d" stroke="#3eff7d" stroke-width="0.6"/><polygon points="41.4,663.8 131.8,623.3 132.1,622.3 41.5,662.7" fill="#47ff70" stroke="#47ff70" stroke-width="0.6"/><polygon points="41.5,662.7 132.1,622.3 132.4,621.3 41.6,661.6" fill="#50ff63" stroke="#50ff63" stroke-width="0.6"/><polygon points="41.6,661.6 132.4,621.3 132.6,620.3 41.7,660.5" fill="#5aff56" stroke="#5aff56" stroke-width="0.6"/><polygon points="41.7,660.5 132.6,620.3 132.9,619.3 41.8,659.4" fill="#63ff49" stroke="#63ff49" stroke-width="0.6"/><polygon points="41.8,659.4 132.9,619.3 133.2,618.3 41.9,658.3" fill="#6cff3d" stroke="#6cff3d" stroke-width="0.6"/><polygon points="41.9,658.3 133.2,618.3 133.5,617.3 42.1,657.2" fill="#75ff30" stroke="#75ff30" stroke-width="0.6"/><polygon points="42.1,657.2 133.5,617.3 133.7,616.2 42.2,656.1" fill="#7eff23" stroke="#7eff23" stroke-width="0.6"/><polygon points="42.2,656.1 133.7,616.2 134.0,615.2 42.3,655.0" fill="#87ff16" stroke="#87ff16" stroke-width="0.6"/><polygon points="42.3,655.0 134.0,615.2 134.3,614.2 42.4,653.8" fill="#90ff09" stroke="#90ff09" stroke-width="0.6"/><polygon points="42.4,653.8 134.3,614.2 134.6,613.1 42.5,652.7" fill="#99ff00" stroke="#99ff00" stroke-width="0.6"/><polygon points="42.5,652.7 134.6,613.1 134.9,612.1 42.6,651.6" fill="#a2fd00" stroke="#a2fd00" stroke-width="0.6"/><polygon points="42.6,651.6 134.9,612.1 135.2,611.1 42.7,650.4" fill="#abfb00" stroke="#abfb00" stroke-width="0.6"/><polygon points="42.7,650.4 135.2,611.1 135.4,610.0 42.8,649.3" fill="#b4f900" stroke="#b4f900" stroke-width="0.6"/><polygon points="42.8,649.3 135.4,610.0 135.7,608.9 42.9,648.1" fill="#bdf700" stroke="#bdf700" stroke-width="0.6"/><polygon points="42.9,648.1 135.7,608.9 136.0,607.9 43.0,647.0" fill="#c6f600" stroke="#c6f600" stroke-width="0.6"/><polygon points="43.0,647.0 136.0,607.9 136.3,606.8 43.2,645.8" fill="#cff400" stroke="#cff400" stroke-width="0.6"/><polygon points="43.2,645.8 136.3,606.8 136.6,605.8 43.3,644.7" fill="#d8f200" stroke="#d8f200" stroke-width="0.6"/><polygon points="43.3,644.7 136.6,605.8 136.9,604.7 43.4,643.5" fill="#e1f000" stroke="#e1f000" stroke-width="0.6"/><polygon points="43.4,643.5 136.9,604.7 137.2,603.6 43.5,642.3" fill="#e9ee00" stroke="#e9ee00" stroke-width="0.6"/><path d="M40.9 669.1L43.5 642.3M46.7 666.5L49.6 639.8M52.4 663.9L55.6 637.3M58.0 661.3L61.5 634.9M63.4 658.8L67.2 632.5M68.8 656.4L72.9 630.2M74.1 654.0L78.4 627.9M79.3 651.6L83.8 625.6M84.3 649.3L89.1 623.5M89.3 647.0L94.4 621.3M94.2 644.8L99.5 619.2M99.0 642.6L104.5 617.1M103.8 640.4L109.4 615.1M108.4 638.3L114.3 613.1M113.0 636.2L119.0 611.1M117.5 634.2L123.7 609.2M121.9 632.2L128.3 607.3M126.2 630.2L132.8 605.4M130.5 628.2L137.2 603.6M40.9 669.1L130.5 628.2M43.5 642.3L137.2 603.6" stroke="#120d06" stroke-opacity="0.9" stroke-width="1.12" fill="none" stroke-linecap="round"/><polygon points="43.5,642.3 137.2,603.6 143.7,605.6 49.9,645.2" fill="#efed00" stroke="#efed00" stroke-width="0.6"/><path d="M43.5 642.3L49.9 645.2M49.6 639.8L56.0 642.6M55.6 637.3L62.0 640.1M61.5 634.9L67.9 637.6M67.2 632.5L73.7 635.2M72.9 630.2L79.3 632.8M78.4 627.9L84.9 630.4M83.8 625.6L90.3 628.1M89.1 623.5L95.6 625.9M94.4 621.3L100.9 623.7M99.5 619.2L106.0 621.5M104.5 617.1L111.0 619.4M109.4 615.1L115.9 617.3M114.3 613.1L120.8 615.3M119.0 611.1L125.5 613.3M123.7 609.2L130.2 611.3M128.3 607.3L134.7 609.4M132.8 605.4L139.2 607.5M137.2 603.6L143.7 605.6M43.5 642.3L137.2 603.6M49.9 645.2L143.7 605.6" stroke="#120d06" stroke-opacity="0.9" stroke-width="1.12" fill="none" stroke-linecap="round"/><polygon points="49.9,645.2 143.7,605.6 149.3,608.2 55.6,648.7" fill="#edee00" stroke="#edee00" stroke-width="0.6"/><path d="M49.9 645.2L55.6 648.7M56.0 642.6L61.7 646.0M62.0 640.1L67.7 643.4M67.9 637.6L73.6 640.9M73.7 635.2L79.4 638.4M79.3 632.8L85.0 636.0M84.9 630.4L90.6 633.6M90.3 628.1L96.0 631.2M95.6 625.9L101.3 628.9M100.9 623.7L106.5 626.7M106.0 621.5L111.7 624.5M111.0 619.4L116.7 622.3M115.9 617.3L121.6 620.2M120.8 615.3L126.4 618.1M125.5 613.3L131.2 616.0M130.2 611.3L135.8 614.0M134.7 609.4L140.4 612.0M139.2 607.5L144.9 610.1M143.7 605.6L149.3 608.2M49.9 645.2L143.7 605.6M55.6 648.7L149.3 608.2" stroke="#120d06" stroke-opacity="0.9" stroke-width="1.12" fill="none" stroke-linecap="round"/><polygon points="55.6,648.7 149.3,608.2 149.9,607.3 56.1,647.7" fill="#efed00" stroke="#efed00" stroke-width="0.6"/><polygon points="56.1,647.7 149.9,607.3 150.5,606.3 56.5,646.7" fill="#f8eb00" stroke="#f8eb00" stroke-width="0.6"/><polygon points="56.5,646.7 150.5,606.3 151.2,605.4 57.0,645.7" fill="#ffe900" stroke="#ffe900" stroke-width="0.6"/><polygon points="57.0,645.7 151.2,605.4 151.8,604.4 57.5,644.7" fill="#ffdf00" stroke="#ffdf00" stroke-width="0.6"/><polygon points="57.5,644.7 151.8,604.4 152.5,603.5 58.0,643.7" fill="#ffd500" stroke="#ffd500" stroke-width="0.6"/><polygon points="58.0,643.7 152.5,603.5 153.1,602.5 58.4,642.7" fill="#ffcb00" stroke="#ffcb00" stroke-width="0.6"/><polygon points="58.4,642.7 153.1,602.5 153.8,601.6 58.9,641.7" fill="#ffc100" stroke="#ffc100" stroke-width="0.6"/><polygon points="58.9,641.7 153.8,601.6 154.4,600.6 59.4,640.7" fill="#ffb700" stroke="#ffb700" stroke-width="0.6"/><polygon points="59.4,640.7 154.4,600.6 155.1,599.7 59.9,639.6" fill="#ffad00" stroke="#ffad00" stroke-width="0.6"/><polygon points="59.9,639.6 155.1,599.7 155.8,598.7 60.4,638.6" fill="#ffa300" stroke="#ffa300" stroke-width="0.6"/><path d="M55.6 648.7L60.4 638.6M61.7 646.0L66.7 636.0M67.7 643.4L72.8 633.4M73.6 640.9L78.8 630.9M79.4 638.4L84.7 628.4M85.0 636.0L90.5 626.0M90.6 633.6L96.1 623.6M96.0 631.2L101.7 621.3M101.3 628.9L107.1 619.1M106.5 626.7L112.4 616.8M111.7 624.5L117.6 614.7M116.7 622.3L122.7 612.5M121.6 620.2L127.7 610.4M126.4 618.1L132.6 608.4M131.2 616.0L137.4 606.4M135.8 614.0L142.1 604.4M140.4 612.0L146.8 602.5M144.9 610.1L151.3 600.5M149.3 608.2L155.8 598.7M55.6 648.7L149.3 608.2M60.4 638.6L155.8 598.7" stroke="#120d06" stroke-opacity="0.9" stroke-width="1.12" fill="none" stroke-linecap="round"/><polygon points="60.4,638.6 155.8,598.7 156.3,600.0 61.1,640.2" fill="#ffa200" stroke="#ffa200" stroke-width="0.6"/><polygon points="61.1,640.2 156.3,600.0 156.9,601.4 61.9,641.8" fill="#ffac00" stroke="#ffac00" stroke-width="0.6"/><polygon points="61.9,641.8 156.9,601.4 157.5,602.7 62.6,643.3" fill="#ffb600" stroke="#ffb600" stroke-width="0.6"/><polygon points="62.6,643.3 157.5,602.7 158.1,604.0 63.4,644.9" fill="#ffbf00" stroke="#ffbf00" stroke-width="0.6"/><polygon points="63.4,644.9 158.1,604.0 158.6,605.3 64.1,646.5" fill="#ffc900" stroke="#ffc900" stroke-width="0.6"/><polygon points="64.1,646.5 158.6,605.3 159.2,606.7 64.9,648.0" fill="#ffd200" stroke="#ffd200" stroke-width="0.6"/><polygon points="64.9,648.0 159.2,606.7 159.8,608.0 65.6,649.6" fill="#ffdc00" stroke="#ffdc00" stroke-width="0.6"/><path d="M60.4 638.6L65.6 649.6M66.7 636.0L71.8 646.9M72.8 633.4L77.9 644.2M78.8 630.9L83.8 641.6M84.7 628.4L89.6 639.0M90.5 626.0L95.3 636.5M96.1 623.6L100.9 634.0M101.7 621.3L106.3 631.6M107.1 619.1L111.7 629.2M112.4 616.8L116.9 626.9M117.6 614.7L122.1 624.7M122.7 612.5L127.1 622.4M127.7 610.4L132.0 620.3M132.6 608.4L136.9 618.1M137.4 606.4L141.6 616.0M142.1 604.4L146.3 614.0M146.8 602.5L150.9 611.9M151.3 600.5L155.4 610.0M155.8 598.7L159.8 608.0M60.4 638.6L155.8 598.7M65.6 649.6L159.8 608.0" stroke="#120d06" stroke-opacity="0.9" stroke-width="1.12" fill="none" stroke-linecap="round"/><polygon points="65.6,649.6 159.8,608.0 160.6,607.1 66.3,648.6" fill="#ffdc00" stroke="#ffdc00" stroke-width="0.6"/><polygon points="66.3,648.6 160.6,607.1 161.5,606.1 67.0,647.6" fill="#ffd100" stroke="#ffd100" stroke-width="0.6"/><polygon points="67.0,647.6 161.5,606.1 162.3,605.1 67.7,646.6" fill="#ffc700" stroke="#ffc700" stroke-width="0.6"/><polygon points="67.7,646.6 162.3,605.1 163.2,604.2 68.4,645.6" fill="#ffbc00" stroke="#ffbc00" stroke-width="0.6"/><polygon points="68.4,645.6 163.2,604.2 164.1,603.2 69.1,644.6" fill="#ffb200" stroke="#ffb200" stroke-width="0.6"/><polygon points="69.1,644.6 164.1,603.2 165.0,602.2 69.8,643.6" fill="#ffa700" stroke="#ffa700" stroke-width="0.6"/><polygon points="69.8,643.6 165.0,602.2 165.9,601.2 70.5,642.5" fill="#ff9d00" stroke="#ff9d00" stroke-width="0.6"/><polygon points="70.5,642.5 165.9,601.2 166.8,600.2 71.2,641.5" fill="#ff9200" stroke="#ff9200" stroke-width="0.6"/><path d="M65.6 649.6L71.2 641.5M71.8 646.9L77.5 638.8M77.9 644.2L83.7 636.1M83.8 641.6L89.7 633.5M89.6 639.0L95.7 630.9M95.3 636.5L101.4 628.4M100.9 634.0L107.1 626.0M106.3 631.6L112.6 623.6M111.7 629.2L118.1 621.3M116.9 626.9L123.4 619.0M122.1 624.7L128.6 616.7M127.1 622.4L133.7 614.5M132.0 620.3L138.7 612.4M136.9 618.1L143.6 610.2M141.6 616.0L148.4 608.2M146.3 614.0L153.1 606.1M150.9 611.9L157.8 604.1M155.4 610.0L162.3 602.2M159.8 608.0L166.8 600.2M65.6 649.6L159.8 608.0M71.2 641.5L166.8 600.2" stroke="#120d06" stroke-opacity="0.9" stroke-width="1.12" fill="none" stroke-linecap="round"/><polygon points="71.2,641.5 166.8,600.2 167.6,599.3 71.9,640.5" fill="#ff8800" stroke="#ff8800" stroke-width="0.6"/><polygon points="71.9,640.5 167.6,599.3 168.5,598.4 72.6,639.5" fill="#ff7e00" stroke="#ff7e00" stroke-width="0.6"/><polygon points="72.6,639.5 168.5,598.4 169.3,597.4 73.3,638.6" fill="#ff7400" stroke="#ff7400" stroke-width="0.6"/><polygon points="73.3,638.6 169.3,597.4 170.2,596.5 74.0,637.6" fill="#ff6b00" stroke="#ff6b00" stroke-width="0.6"/><polygon points="74.0,637.6 170.2,596.5 171.0,595.5 74.7,636.6" fill="#ff6200" stroke="#ff6200" stroke-width="0.6"/><polygon points="74.7,636.6 171.0,595.5 171.9,594.6 75.4,635.5" fill="#ff5900" stroke="#ff5900" stroke-width="0.6"/><polygon points="75.4,635.5 171.9,594.6 172.8,593.6 76.1,634.5" fill="#ff5000" stroke="#ff5000" stroke-width="0.6"/><polygon points="76.1,634.5 172.8,593.6 173.7,592.6 76.8,633.5" fill="#ff4700" stroke="#ff4700" stroke-width="0.6"/><path d="M71.2 641.5L76.8 633.5M77.5 638.8L83.2 630.8M83.7 636.1L89.5 628.1M89.7 633.5L95.7 625.5M95.7 630.9L101.7 623.0M101.4 628.4L107.6 620.5M107.1 626.0L113.3 618.1M112.6 623.6L118.9 615.7M118.1 621.3L124.4 613.4M123.4 619.0L129.8 611.1M128.6 616.7L135.1 608.9M133.7 614.5L140.3 606.7M138.7 612.4L145.3 604.6M143.6 610.2L150.3 602.5M148.4 608.2L155.2 600.5M153.1 606.1L159.9 598.4M157.8 604.1L164.6 596.5M162.3 602.2L169.2 594.5M166.8 600.2L173.7 592.6M71.2 641.5L166.8 600.2M76.8 633.5L173.7 592.6" stroke="#120d06" stroke-opacity="0.9" stroke-width="1.12" fill="none" stroke-linecap="round"/><polygon points="76.8,633.5 173.7,592.6 174.6,591.6 77.6,632.4" fill="#ff3e00" stroke="#ff3e00" stroke-width="0.6"/><polygon points="77.6,632.4 174.6,591.6 175.6,590.6 78.4,631.3" fill="#ff3500" stroke="#ff3500" stroke-width="0.6"/><polygon points="78.4,631.3 175.6,590.6 176.6,589.5 79.2,630.2" fill="#ff2b00" stroke="#ff2b00" stroke-width="0.6"/><polygon points="79.2,630.2 176.6,589.5 177.5,588.4 80.0,629.0" fill="#ff2200" stroke="#ff2200" stroke-width="0.6"/><polygon points="80.0,629.0 177.5,588.4 178.5,587.4 80.8,627.9" fill="#ff1800" stroke="#ff1800" stroke-width="0.6"/><polygon points="80.8,627.9 178.5,587.4 179.5,586.3 81.6,626.8" fill="#ff0f00" stroke="#ff0f00" stroke-width="0.6"/><polygon points="81.6,626.8 179.5,586.3 180.5,585.2 82.4,625.6" fill="#ff0500" stroke="#ff0500" stroke-width="0.6"/><path d="M76.8 633.5L82.4 625.6M83.2 630.8L88.9 622.9M89.5 628.1L95.3 620.3M95.7 625.5L101.6 617.7M101.7 623.0L107.7 615.2M107.6 620.5L113.6 612.7M113.3 618.1L119.5 610.3M118.9 615.7L125.2 608.0M124.4 613.4L130.8 605.7M129.8 611.1L136.2 603.4M135.1 608.9L141.6 601.2M140.3 606.7L146.8 599.1M145.3 604.6L151.9 597.0M150.3 602.5L156.9 594.9M155.2 600.5L161.8 592.9M159.9 598.4L166.6 590.9M164.6 596.5L171.4 589.0M169.2 594.5L176.0 587.1M173.7 592.6L180.5 585.2M76.8 633.5L173.7 592.6M82.4 625.6L180.5 585.2" stroke="#120d06" stroke-opacity="0.9" stroke-width="1.12" fill="none" stroke-linecap="round"/><polygon points="82.4,625.6 180.5,585.2 180.6,586.7 82.7,627.3" fill="#ff0500" stroke="#ff0500" stroke-width="0.6"/><polygon points="82.7,627.3 180.6,586.7 180.7,588.1 83.0,629.0" fill="#ff0f00" stroke="#ff0f00" stroke-width="0.6"/><polygon points="83.0,629.0 180.7,588.1 180.8,589.5 83.3,630.6" fill="#ff1900" stroke="#ff1900" stroke-width="0.6"/><polygon points="83.3,630.6 180.8,589.5 180.9,591.0 83.7,632.3" fill="#ff2300" stroke="#ff2300" stroke-width="0.6"/><polygon points="83.7,632.3 180.9,591.0 181.1,592.4 84.0,633.9" fill="#ff2c00" stroke="#ff2c00" stroke-width="0.6"/><polygon points="84.0,633.9 181.1,592.4 181.2,593.8 84.3,635.6" fill="#ff3600" stroke="#ff3600" stroke-width="0.6"/><polygon points="84.3,635.6 181.2,593.8 181.3,595.2 84.6,637.2" fill="#ff4000" stroke="#ff4000" stroke-width="0.6"/><polygon points="84.6,637.2 181.3,595.2 181.4,596.7 84.9,638.9" fill="#ff4a00" stroke="#ff4a00" stroke-width="0.6"/><polygon points="84.9,638.9 181.4,596.7 181.5,598.1 85.2,640.5" fill="#ff5300" stroke="#ff5300" stroke-width="0.6"/><polygon points="85.2,640.5 181.5,598.1 181.6,599.5 85.5,642.1" fill="#ff5d00" stroke="#ff5d00" stroke-width="0.6"/><polygon points="85.5,642.1 181.6,599.5 181.7,600.9 85.8,643.8" fill="#ff6700" stroke="#ff6700" stroke-width="0.6"/><polygon points="85.8,643.8 181.7,600.9 181.8,602.3 86.1,645.4" fill="#ff7100" stroke="#ff7100" stroke-width="0.6"/><polygon points="86.1,645.4 181.8,602.3 181.9,603.7 86.4,647.0" fill="#ff7b00" stroke="#ff7b00" stroke-width="0.6"/><polygon points="86.4,647.0 181.9,603.7 182.0,605.1 86.7,648.6" fill="#ff8600" stroke="#ff8600" stroke-width="0.6"/><polygon points="86.7,648.6 182.0,605.1 182.1,606.4 87.0,650.2" fill="#ff9100" stroke="#ff9100" stroke-width="0.6"/><polygon points="87.0,650.2 182.1,606.4 182.2,607.8 87.3,651.8" fill="#ff9c00" stroke="#ff9c00" stroke-width="0.6"/><polygon points="87.3,651.8 182.2,607.8 182.3,609.2 87.6,653.4" fill="#ffa700" stroke="#ffa700" stroke-width="0.6"/><polygon points="87.6,653.4 182.3,609.2 182.4,610.6 87.9,655.0" fill="#ffb100" stroke="#ffb100" stroke-width="0.6"/><polygon points="87.9,655.0 182.4,610.6 182.5,611.9 88.2,656.5" fill="#ffbc00" stroke="#ffbc00" stroke-width="0.6"/><polygon points="88.2,656.5 182.5,611.9 182.7,613.3 88.5,658.1" fill="#ffc700" stroke="#ffc700" stroke-width="0.6"/><path d="M82.4 625.6L88.5 658.1M88.9 622.9L94.7 655.1M95.3 620.3L100.8 652.2M101.6 617.7L106.8 649.4M107.7 615.2L112.7 646.6M113.6 612.7L118.4 643.9M119.5 610.3L123.9 641.2M125.2 608.0L129.4 638.6M130.8 605.7L134.8 636.1M136.2 603.4L140.0 633.6M141.6 601.2L145.1 631.2M146.8 599.1L150.2 628.8M151.9 597.0L155.1 626.4M156.9 594.9L159.9 624.1M161.8 592.9L164.6 621.9M166.6 590.9L169.3 619.7M171.4 589.0L173.8 617.5M176.0 587.1L178.3 615.4M180.5 585.2L182.7 613.3M82.4 625.6L180.5 585.2M88.5 658.1L182.7 613.3" stroke="#120d06" stroke-opacity="0.9" stroke-width="1.12" fill="none" stroke-linecap="round"/><polygon points="88.5,658.1 182.7,613.3 182.8,614.7 88.8,659.7" fill="#ffd200" stroke="#ffd200" stroke-width="0.6"/><polygon points="88.8,659.7 182.8,614.7 182.9,616.0 89.1,661.2" fill="#ffdc00" stroke="#ffdc00" stroke-width="0.6"/><polygon points="89.1,661.2 182.9,616.0 183.0,617.3 89.4,662.7" fill="#ffe700" stroke="#ffe700" stroke-width="0.6"/><polygon points="89.4,662.7 183.0,617.3 183.1,618.7 89.7,664.3" fill="#f9eb00" stroke="#f9eb00" stroke-width="0.6"/><polygon points="89.7,664.3 183.1,618.7 183.2,620.0 90.0,665.8" fill="#efed00" stroke="#efed00" stroke-width="0.6"/><polygon points="90.0,665.8 183.2,620.0 183.3,621.4 90.3,667.3" fill="#e6ef00" stroke="#e6ef00" stroke-width="0.6"/><polygon points="90.3,667.3 183.3,621.4 183.5,622.7 90.6,668.9" fill="#ddf100" stroke="#ddf100" stroke-width="0.6"/><polygon points="90.6,668.9 183.5,622.7 183.6,624.0 90.9,670.4" fill="#d4f300" stroke="#d4f300" stroke-width="0.6"/><polygon points="90.9,670.4 183.6,624.0 183.7,625.3 91.2,671.9" fill="#cbf400" stroke="#cbf400" stroke-width="0.6"/><polygon points="91.2,671.9 183.7,625.3 183.8,626.6 91.5,673.4" fill="#c2f600" stroke="#c2f600" stroke-width="0.6"/><polygon points="91.5,673.4 183.8,626.6 183.9,628.0 91.8,674.9" fill="#b9f800" stroke="#b9f800" stroke-width="0.6"/><polygon points="91.8,674.9 183.9,628.0 184.0,629.3 92.1,676.4" fill="#b0fa00" stroke="#b0fa00" stroke-width="0.6"/><polygon points="92.1,676.4 184.0,629.3 184.1,630.6 92.4,677.9" fill="#a7fc00" stroke="#a7fc00" stroke-width="0.6"/><polygon points="92.4,677.9 184.1,630.6 184.3,631.9 92.7,679.4" fill="#9efe00" stroke="#9efe00" stroke-width="0.6"/><polygon points="92.7,679.4 184.3,631.9 184.4,633.2 93.0,680.8" fill="#95ff02" stroke="#95ff02" stroke-width="0.6"/><polygon points="93.0,680.8 184.4,633.2 184.5,634.5 93.2,682.3" fill="#8cff0f" stroke="#8cff0f" stroke-width="0.6"/><polygon points="93.2,682.3 184.5,634.5 184.6,635.7 93.5,683.8" fill="#83ff1c" stroke="#83ff1c" stroke-width="0.6"/><polygon points="93.5,683.8 184.6,635.7 184.7,637.0 93.8,685.2" fill="#79ff29" stroke="#79ff29" stroke-width="0.6"/><polygon points="93.8,685.2 184.7,637.0 184.8,638.3 94.1,686.7" fill="#70ff36" stroke="#70ff36" stroke-width="0.6"/><path d="M88.5 658.1L94.1 686.7M94.7 655.1L100.1 683.5M100.8 652.2L105.9 680.4M106.8 649.4L111.7 677.3M112.7 646.6L117.3 674.3M118.4 643.9L122.8 671.4M123.9 641.2L128.1 668.5M129.4 638.6L133.4 665.7M134.8 636.1L138.5 663.0M140.0 633.6L143.6 660.3M145.1 631.2L148.5 657.7M150.2 628.8L153.4 655.1M155.1 626.4L158.1 652.5M159.9 624.1L162.8 650.1M164.6 621.9L167.4 647.6M169.3 619.7L171.9 645.2M173.8 617.5L176.3 642.9M178.3 615.4L180.6 640.6M182.7 613.3L184.8 638.3M88.5 658.1L182.7 613.3M94.1 686.7L184.8 638.3" stroke="#120d06" stroke-opacity="0.9" stroke-width="1.12" fill="none" stroke-linecap="round"/><polygon points="94.1,686.7 184.8,638.3 186.5,637.7 95.7,686.2" fill="#70ff36" stroke="#70ff36" stroke-width="0.6"/><polygon points="95.7,686.2 186.5,637.7 188.3,637.1 97.3,685.8" fill="#7aff29" stroke="#7aff29" stroke-width="0.6"/><polygon points="97.3,685.8 188.3,637.1 190.0,636.5 98.9,685.3" fill="#83ff1c" stroke="#83ff1c" stroke-width="0.6"/><polygon points="98.9,685.3 190.0,636.5 191.8,635.9 100.6,684.8" fill="#8cff0f" stroke="#8cff0f" stroke-width="0.6"/><path d="M94.1 686.7L100.6 684.8M100.1 683.5L106.6 681.6M105.9 680.4L112.5 678.4M111.7 677.3L118.3 675.3M117.3 674.3L124.0 672.3M122.8 671.4L129.5 669.3M128.1 668.5L134.9 666.4M133.4 665.7L140.2 663.6M138.5 663.0L145.4 660.8M143.6 660.3L150.5 658.1M148.5 657.7L155.4 655.4M153.4 655.1L160.3 652.8M158.1 652.5L165.1 650.2M162.8 650.1L169.7 647.7M167.4 647.6L174.3 645.3M171.9 645.2L178.8 642.8M176.3 642.9L183.2 640.5M180.6 640.6L187.6 638.2M184.8 638.3L191.8 635.9M94.1 686.7L184.8 638.3M100.6 684.8L191.8 635.9" stroke="#120d06" stroke-opacity="0.9" stroke-width="1.12" fill="none" stroke-linecap="round"/><polygon points="100.6,684.8 191.8,635.9 192.1,637.3 101.1,686.4" fill="#8cff0f" stroke="#8cff0f" stroke-width="0.6"/><polygon points="101.1,686.4 192.1,637.3 192.4,638.6 101.5,688.0" fill="#83ff1c" stroke="#83ff1c" stroke-width="0.6"/><polygon points="101.5,688.0 192.4,638.6 192.7,640.0 102.0,689.6" fill="#7aff29" stroke="#7aff29" stroke-width="0.6"/><polygon points="102.0,689.6 192.7,640.0 193.0,641.4 102.5,691.2" fill="#70ff36" stroke="#70ff36" stroke-width="0.6"/><polygon points="102.5,691.2 193.0,641.4 193.2,642.7 102.9,692.7" fill="#67ff43" stroke="#67ff43" stroke-width="0.6"/><polygon points="102.9,692.7 193.2,642.7 193.5,644.1 103.4,694.3" fill="#5eff50" stroke="#5eff50" stroke-width="0.6"/><polygon points="103.4,694.3 193.5,644.1 193.8,645.5 103.9,695.9" fill="#54ff5d" stroke="#54ff5d" stroke-width="0.6"/><polygon points="103.9,695.9 193.8,645.5 194.1,646.8 104.3,697.4" fill="#4bff6b" stroke="#4bff6b" stroke-width="0.6"/><polygon points="104.3,697.4 194.1,646.8 194.4,648.2 104.8,699.0" fill="#42ff78" stroke="#42ff78" stroke-width="0.6"/><polygon points="104.8,699.0 194.4,648.2 194.7,649.5 105.3,700.6" fill="#38ff85" stroke="#38ff85" stroke-width="0.6"/><polygon points="105.3,700.6 194.7,649.5 195.0,650.9 105.7,702.1" fill="#2fff92" stroke="#2fff92" stroke-width="0.6"/><polygon points="105.7,702.1 195.0,650.9 195.2,652.2 106.2,703.7" fill="#29f99c" stroke="#29f99c" stroke-width="0.6"/><polygon points="106.2,703.7 195.2,652.2 195.5,653.6 106.6,705.2" fill="#26f0a5" stroke="#26f0a5" stroke-width="0.6"/><polygon points="106.6,705.2 195.5,653.6 195.8,654.9 107.1,706.7" fill="#22e7ae" stroke="#22e7ae" stroke-width="0.6"/><polygon points="107.1,706.7 195.8,654.9 196.1,656.2 107.5,708.3" fill="#1edeb7" stroke="#1edeb7" stroke-width="0.6"/><polygon points="107.5,708.3 196.1,656.2 196.4,657.6 108.0,709.8" fill="#1ad5c1" stroke="#1ad5c1" stroke-width="0.6"/><path d="M100.6 684.8L108.0 709.8M106.6 681.6L113.8 706.4M112.5 678.4L119.5 703.0M118.3 675.3L125.1 699.7M124.0 672.3L130.6 696.5M129.5 669.3L135.9 693.3M134.9 666.4L141.1 690.2M140.2 663.6L146.3 687.2M145.4 660.8L151.3 684.2M150.5 658.1L156.2 681.3M155.4 655.4L161.0 678.5M160.3 652.8L165.7 675.7M165.1 650.2L170.4 672.9M169.7 647.7L174.9 670.2M174.3 645.3L179.4 667.6M178.8 642.8L183.7 665.0M183.2 640.5L188.0 662.5M187.6 638.2L192.2 660.0M191.8 635.9L196.4 657.6M100.6 684.8L191.8 635.9M108.0 709.8L196.4 657.6" stroke="#120d06" stroke-opacity="0.9" stroke-width="1.12" fill="none" stroke-linecap="round"/><polygon points="108.0,709.8 196.4,657.6 198.5,657.6 110.1,710.1" fill="#1ad4c2" stroke="#1ad4c2" stroke-width="0.6"/><polygon points="110.1,710.1 198.5,657.6 200.7,657.6 112.2,710.4" fill="#1cdabc" stroke="#1cdabc" stroke-width="0.6"/><polygon points="112.2,710.4 200.7,657.6 202.9,657.6 114.4,710.7" fill="#1fe0b5" stroke="#1fe0b5" stroke-width="0.6"/><path d="M108.0 709.8L114.4 710.7M113.8 706.4L120.3 707.2M119.5 703.0L126.0 703.8M125.1 699.7L131.6 700.4M130.6 696.5L137.0 697.1M135.9 693.3L142.4 693.9M141.1 690.2L147.6 690.7M146.3 687.2L152.8 687.7M151.3 684.2L157.8 684.6M156.2 681.3L162.7 681.7M161.0 678.5L167.6 678.8M165.7 675.7L172.3 676.0M170.4 672.9L176.9 673.2M174.9 670.2L181.5 670.5M179.4 667.6L185.9 667.8M183.7 665.0L190.3 665.2M188.0 662.5L194.5 662.6M192.2 660.0L198.7 660.1M196.4 657.6L202.9 657.6M108.0 709.8L196.4 657.6M114.4 710.7L202.9 657.6" stroke="#120d06" stroke-opacity="0.9" stroke-width="1.12" fill="none" stroke-linecap="round"/><polygon points="114.4,710.7 202.9,657.6 203.2,658.9 114.9,712.2" fill="#1edfb7" stroke="#1edfb7" stroke-width="0.6"/><polygon points="114.9,712.2 203.2,658.9 203.5,660.2 115.3,713.7" fill="#1bd7bf" stroke="#1bd7bf" stroke-width="0.6"/><polygon points="115.3,713.7 203.5,660.2 203.8,661.5 115.8,715.1" fill="#17cec8" stroke="#17cec8" stroke-width="0.6"/><polygon points="115.8,715.1 203.8,661.5 204.1,662.7 116.3,716.6" fill="#14c6d0" stroke="#14c6d0" stroke-width="0.6"/><polygon points="116.3,716.6 204.1,662.7 204.4,664.0 116.8,718.1" fill="#10bdd9" stroke="#10bdd9" stroke-width="0.6"/><polygon points="116.8,718.1 204.4,664.0 204.7,665.3 117.2,719.6" fill="#0cb5e1" stroke="#0cb5e1" stroke-width="0.6"/><polygon points="117.2,719.6 204.7,665.3 205.0,666.6 117.7,721.0" fill="#09adea" stroke="#09adea" stroke-width="0.6"/><polygon points="117.7,721.0 205.0,666.6 205.3,667.8 118.2,722.5" fill="#05a4f3" stroke="#05a4f3" stroke-width="0.6"/><polygon points="118.2,722.5 205.3,667.8 205.6,669.1 118.6,723.9" fill="#029cfb" stroke="#029cfb" stroke-width="0.6"/><polygon points="118.6,723.9 205.6,669.1 205.9,670.4 119.1,725.4" fill="#0092ff" stroke="#0092ff" stroke-width="0.6"/><polygon points="119.1,725.4 205.9,670.4 206.2,671.6 119.5,726.9" fill="#0088ff" stroke="#0088ff" stroke-width="0.6"/><polygon points="119.5,726.9 206.2,671.6 206.5,672.9 120.0,728.3" fill="#007dff" stroke="#007dff" stroke-width="0.6"/><path d="M114.4 710.7L120.0 728.3M120.3 707.2L125.7 724.6M126.0 703.8L131.3 721.1M131.6 700.4L136.8 717.6M137.0 697.1L142.1 714.1M142.4 693.9L147.3 710.8M147.6 690.7L152.5 707.5M152.8 687.7L157.5 704.3M157.8 684.6L162.4 701.1M162.7 681.7L167.2 698.1M167.6 678.8L171.9 695.0M172.3 676.0L176.5 692.1M176.9 673.2L181.1 689.2M181.5 670.5L185.5 686.3M185.9 667.8L189.9 683.5M190.3 665.2L194.1 680.8M194.5 662.6L198.3 678.1M198.7 660.1L202.5 675.5M202.9 657.6L206.5 672.9M114.4 710.7L202.9 657.6M120.0 728.3L206.5 672.9" stroke="#120d06" stroke-opacity="0.9" stroke-width="1.12" fill="none" stroke-linecap="round"/><polygon points="120.0,728.3 206.5,672.9 209.2,673.0 122.7,728.8" fill="#007dff" stroke="#007dff" stroke-width="0.6"/><polygon points="122.7,728.8 209.2,673.0 212.0,673.1 125.5,729.3" fill="#0087ff" stroke="#0087ff" stroke-width="0.6"/><path d="M120.0 728.3L125.5 729.3M125.7 724.6L131.2 725.6M131.3 721.1L136.8 721.9M136.8 717.6L142.3 718.4M142.1 714.1L147.7 714.9M147.3 710.8L152.9 711.5M152.5 707.5L158.0 708.2M157.5 704.3L163.0 704.9M162.4 701.1L168.0 701.7M167.2 698.1L172.8 698.6M171.9 695.0L177.5 695.5M176.5 692.1L182.1 692.5M181.1 689.2L186.6 689.6M185.5 686.3L191.1 686.7M189.9 683.5L195.4 683.9M194.1 680.8L199.7 681.1M198.3 678.1L203.9 678.4M202.5 675.5L208.0 675.7M206.5 672.9L212.0 673.1M120.0 728.3L206.5 672.9M125.5 729.3L212.0 673.1" stroke="#120d06" stroke-opacity="0.9" stroke-width="1.12" fill="none" stroke-linecap="round"/><polygon points="125.5,729.3 212.0,673.1 212.6,674.5 126.2,730.9" fill="#0086ff" stroke="#0086ff" stroke-width="0.6"/><polygon points="126.2,730.9 212.6,674.5 213.1,675.8 126.9,732.5" fill="#007cff" stroke="#007cff" stroke-width="0.6"/><polygon points="126.9,732.5 213.1,675.8 213.6,677.2 127.6,734.2" fill="#0071ff" stroke="#0071ff" stroke-width="0.6"/><polygon points="127.6,734.2 213.6,677.2 214.1,678.6 128.3,735.8" fill="#0066ff" stroke="#0066ff" stroke-width="0.6"/><polygon points="128.3,735.8 214.1,678.6 214.7,680.0 129.0,737.4" fill="#005cff" stroke="#005cff" stroke-width="0.6"/><polygon points="129.0,737.4 214.7,680.0 215.2,681.4 129.7,739.0" fill="#0051ff" stroke="#0051ff" stroke-width="0.6"/><polygon points="129.7,739.0 215.2,681.4 215.7,682.7 130.4,740.6" fill="#0047ff" stroke="#0047ff" stroke-width="0.6"/><polygon points="130.4,740.6 215.7,682.7 216.2,684.1 131.1,742.2" fill="#003cff" stroke="#003cff" stroke-width="0.6"/><path d="M125.5 729.3L131.1 742.2M131.2 725.6L136.7 738.4M136.8 721.9L142.2 734.6M142.3 718.4L147.6 730.9M147.7 714.9L152.9 727.3M152.9 711.5L158.0 723.8M158.0 708.2L163.1 720.4M163.0 704.9L168.0 717.0M168.0 701.7L172.9 713.7M172.8 698.6L177.6 710.5M177.5 695.5L182.2 707.3M182.1 692.5L186.8 704.2M186.6 689.6L191.2 701.2M191.1 686.7L195.6 698.2M195.4 683.9L199.9 695.3M199.7 681.1L204.1 692.4M203.9 678.4L208.2 689.6M208.0 675.7L212.3 686.8M212.0 673.1L216.2 684.1M125.5 729.3L212.0 673.1M131.1 742.2L216.2 684.1" stroke="#120d06" stroke-opacity="0.9" stroke-width="1.12" fill="none" stroke-linecap="round"/><polygon points="131.1,742.2 216.2,684.1 216.9,685.5 132.0,743.9" fill="#0032ff" stroke="#0032ff" stroke-width="0.6"/><polygon points="132.0,743.9 216.9,685.5 217.6,686.9 132.8,745.6" fill="#0028ff" stroke="#0028ff" stroke-width="0.6"/><polygon points="132.8,745.6 217.6,686.9 218.3,688.4 133.7,747.3" fill="#001dff" stroke="#001dff" stroke-width="0.6"/><polygon points="133.7,747.3 218.3,688.4 219.0,689.8 134.6,749.0" fill="#0018fc" stroke="#0018fc" stroke-width="0.6"/><polygon points="134.6,749.0 219.0,689.8 219.7,691.2 135.5,750.6" fill="#0016f8" stroke="#0016f8" stroke-width="0.6"/><polygon points="135.5,750.6 219.7,691.2 220.4,692.6 136.3,752.3" fill="#0014f3" stroke="#0014f3" stroke-width="0.6"/><polygon points="136.3,752.3 220.4,692.6 221.1,694.1 137.2,754.0" fill="#0012ef" stroke="#0012ef" stroke-width="0.6"/><path d="M131.1 742.2L137.2 754.0M136.7 738.4L142.7 750.0M142.2 734.6L148.2 746.2M147.6 730.9L153.5 742.4M152.9 727.3L158.7 738.7M158.0 723.8L163.7 735.0M163.1 720.4L168.7 731.5M168.0 717.0L173.6 728.0M172.9 713.7L178.3 724.6M177.6 710.5L183.0 721.3M182.2 707.3L187.6 718.0M186.8 704.2L192.1 714.8M191.2 701.2L196.5 711.7M195.6 698.2L200.8 708.6M199.9 695.3L205.0 705.6M204.1 692.4L209.1 702.6M208.2 689.6L213.2 699.7M212.3 686.8L217.2 696.9M216.2 684.1L221.1 694.1M131.1 742.2L216.2 684.1M137.2 754.0L221.1 694.1" stroke="#120d06" stroke-opacity="0.9" stroke-width="1.12" fill="none" stroke-linecap="round"/></g>
<path d="M126.5 777.1l-3.6 2.7M144.7 777.2l3.8 2.4M114.4 769.1l-3.7 2.6M155.0 769.2l3.8 2.4M102.8 761.4l-3.7 2.5M164.8 761.6l3.9 2.3M91.7 754.0l-3.8 2.5M174.3 754.3l3.9 2.2M81.0 746.9l-3.8 2.4M183.4 747.3l3.9 2.2M70.8 740.1l-3.8 2.3M192.1 740.6l4.0 2.1M60.9 733.6l-3.9 2.3M200.5 734.1l4.0 2.1M51.5 727.3l-3.9 2.2M208.6 727.8l4.0 2.0M42.4 721.3l-4.0 2.2M216.4 721.8l4.0 2.0" stroke="#8a8a8a" stroke-width="1" fill="none"/><g font-family='"DejaVu Sans","Liberation Sans",sans-serif' fill="#444"><text transform="translate(105.6,792.7) rotate(-31)" font-size="11.5" text-anchor="middle" dominant-baseline="central">0.1</text><text transform="translate(168.7,792.5) rotate(43)" font-size="11.5" text-anchor="middle" dominant-baseline="central">0.1</text><text transform="translate(93.5,784.0) rotate(-31)" font-size="11.5" text-anchor="middle" dominant-baseline="central">0.2</text><text transform="translate(178.8,784.0) rotate(43)" font-size="11.5" text-anchor="middle" dominant-baseline="central">0.2</text><text transform="translate(81.9,775.7) rotate(-31)" font-size="11.5" text-anchor="middle" dominant-baseline="central">0.3</text><text transform="translate(188.6,775.7) rotate(43)" font-size="11.5" text-anchor="middle" dominant-baseline="central">0.3</text><text transform="translate(70.8,767.7) rotate(-31)" font-size="11.5" text-anchor="middle" dominant-baseline="central">0.4</text><text transform="translate(197.9,767.9) rotate(43)" font-size="11.5" text-anchor="middle" dominant-baseline="central">0.4</text><text transform="translate(60.2,760.1) rotate(-31)" font-size="11.5" text-anchor="middle" dominant-baseline="central">0.5</text><text transform="translate(206.8,760.3) rotate(43)" font-size="11.5" text-anchor="middle" dominant-baseline="central">0.5</text><text transform="translate(50.0,752.8) rotate(-31)" font-size="11.5" text-anchor="middle" dominant-baseline="central">0.6</text><text transform="translate(215.4,753.1) rotate(43)" font-size="11.5" text-anchor="middle" dominant-baseline="central">0.6</text><text transform="translate(40.2,745.8) rotate(-31)" font-size="11.5" text-anchor="middle" dominant-baseline="central">0.7</text><text transform="translate(223.7,746.1) rotate(43)" font-size="11.5" text-anchor="middle" dominant-baseline="central">0.7</text><text transform="translate(30.8,739.0) rotate(-31)" font-size="11.5" text-anchor="middle" dominant-baseline="central">0.8</text><text transform="translate(231.6,739.4) rotate(43)" font-size="11.5" text-anchor="middle" dominant-baseline="central">0.8</text><text transform="translate(21.7,732.5) rotate(-31)" font-size="11.5" text-anchor="middle" dominant-baseline="central">0.9</text><text transform="translate(239.2,732.9) rotate(43)" font-size="11.5" text-anchor="middle" dominant-baseline="central">0.9</text><text transform="translate(17.3,709.4) rotate(-25)" font-size="11.5" text-anchor="middle" dominant-baseline="central">0.8</text><text transform="translate(11.0,652.2) rotate(-25)" font-size="11.5" text-anchor="middle" dominant-baseline="central">0.9</text><text x="33.5" y="778.1" font-size="12.9" text-anchor="middle" dominant-baseline="central">CO2</text><text x="236.9" y="778.3" font-size="12.9" text-anchor="middle" dominant-baseline="central">ICT</text></g>
<defs><linearGradient id="cbC" x1="0" y1="0" x2="0" y2="1"><stop offset="0.000" stop-color="rgb(255,0,0)"/><stop offset="0.125" stop-color="rgb(255,111,0)"/><stop offset="0.250" stop-color="rgb(255,234,0)"/><stop offset="0.375" stop-color="rgb(151,255,0)"/><stop offset="0.500" stop-color="rgb(44,255,150)"/><stop offset="0.625" stop-color="rgb(0,152,255)"/><stop offset="0.750" stop-color="rgb(0,25,255)"/><stop offset="0.875" stop-color="rgb(0,0,200)"/><stop offset="1.000" stop-color="rgb(150,0,90)"/></linearGradient></defs><rect x="275.9" y="631.0" width="8.3" height="106.3" fill="url(#cbC)" stroke="#555" stroke-width="0.7"/><g font-family='"DejaVu Sans","Liberation Sans",sans-serif' fill="#444" font-size="11.2"><line x1="282.7" y1="638.8" x2="286.0" y2="638.8" stroke="#444" stroke-width="0.9"/><text x="288.4" y="639.6" dominant-baseline="central">0.95</text><line x1="282.7" y1="666.8" x2="286.0" y2="666.8" stroke="#444" stroke-width="0.9"/><text x="288.4" y="667.6" dominant-baseline="central">0.9</text><line x1="282.7" y1="694.9" x2="286.0" y2="694.9" stroke="#444" stroke-width="0.9"/><text x="288.4" y="695.7" dominant-baseline="central">0.85</text><line x1="282.7" y1="722.9" x2="286.0" y2="722.9" stroke="#444" stroke-width="0.9"/><text x="288.4" y="723.7" dominant-baseline="central">0.8</text></g>
<rect x="414.9" y="579.9" width="262.7" height="180.7" fill="#ff2b2b"/><path d="M428.73 579.9V760.6M442.55 579.9V760.6M456.38 579.9V760.6M470.21 579.9V760.6M484.03 579.9V760.6M497.86 579.9V760.6M511.68 579.9V760.6M525.51 579.9V760.6M539.34 579.9V760.6M553.16 579.9V760.6M566.99 579.9V760.6M580.82 579.9V760.6M594.64 579.9V760.6M608.47 579.9V760.6M622.29 579.9V760.6M636.12 579.9V760.6M649.95 579.9V760.6M663.77 579.9V760.6" stroke="#3f8ce0" stroke-opacity="0.76" stroke-width="1.4" fill="none"/><path d="M414.9 589.41H677.6M414.9 598.92H677.6M414.9 608.43H677.6M414.9 617.94H677.6M414.9 627.45H677.6M414.9 636.96H677.6M414.9 646.47H677.6M414.9 655.98H677.6M414.9 665.49H677.6M414.9 675.01H677.6M414.9 684.52H677.6M414.9 694.03H677.6M414.9 703.54H677.6M414.9 713.05H677.6M414.9 722.56H677.6M414.9 732.07H677.6M414.9 741.58H677.6M414.9 751.09H677.6" stroke="#3f8ce0" stroke-opacity="0.76" stroke-width="1.4" fill="none"/><rect x="415.20" y="580.20" width="262.10" height="180.10" fill="none" stroke="#5796dc" stroke-width="1.5"/><path d="M421.81 760.9v4.3M413.3 755.84h-5.2M435.64 760.9v4.3M413.3 746.33h-5.2M449.47 760.9v4.3M413.3 736.82h-5.2M463.29 760.9v4.3M413.3 727.31h-5.2M477.12 760.9v4.3M413.3 717.80h-5.2M490.94 760.9v4.3M413.3 708.29h-5.2M504.77 760.9v4.3M413.3 698.78h-5.2M518.60 760.9v4.3M413.3 689.27h-5.2M532.42 760.9v4.3M413.3 679.76h-5.2M546.25 760.9v4.3M413.3 670.25h-5.2M560.08 760.9v4.3M413.3 660.74h-5.2M573.90 760.9v4.3M413.3 651.23h-5.2M587.73 760.9v4.3M413.3 641.72h-5.2M601.56 760.9v4.3M413.3 632.21h-5.2M615.38 760.9v4.3M413.3 622.70h-5.2M629.21 760.9v4.3M413.3 613.19h-5.2M643.03 760.9v4.3M413.3 603.68h-5.2M656.86 760.9v4.3M413.3 594.17h-5.2M670.69 760.9v4.3M413.3 584.66h-5.2" stroke="#333" stroke-width="1.2" fill="none"/><g font-family='"Liberation Sans",sans-serif' fill="#505050" font-size="13.4"><text transform="translate(404.5,756.8) scale(0.998,0.959)" text-anchor="end" dominant-baseline="central">0.05</text><text transform="translate(433.9,768.2) scale(1.058,0.895) rotate(-90)" text-anchor="end">0.05</text><text transform="translate(404.5,747.3) scale(0.998,0.959)" text-anchor="end" dominant-baseline="central">0.10</text><text transform="translate(447.7,768.2) scale(1.058,0.895) rotate(-90)" text-anchor="end">0.10</text><text transform="translate(404.5,737.8) scale(0.998,0.959)" text-anchor="end" dominant-baseline="central">0.15</text><text transform="translate(461.5,768.2) scale(1.058,0.895) rotate(-90)" text-anchor="end">0.15</text><text transform="translate(404.5,728.2) scale(0.998,0.959)" text-anchor="end" dominant-baseline="central">0.20</text><text transform="translate(475.4,768.2) scale(1.058,0.895) rotate(-90)" text-anchor="end">0.20</text><text transform="translate(404.5,718.7) scale(0.998,0.959)" text-anchor="end" dominant-baseline="central">0.25</text><text transform="translate(489.2,768.2) scale(1.058,0.895) rotate(-90)" text-anchor="end">0.25</text><text transform="translate(404.5,709.2) scale(0.998,0.959)" text-anchor="end" dominant-baseline="central">0.30</text><text transform="translate(503.0,768.2) scale(1.058,0.895) rotate(-90)" text-anchor="end">0.30</text><text transform="translate(404.5,699.7) scale(0.998,0.959)" text-anchor="end" dominant-baseline="central">0.35</text><text transform="translate(516.9,768.2) scale(1.058,0.895) rotate(-90)" text-anchor="end">0.35</text><text transform="translate(404.5,690.2) scale(0.998,0.959)" text-anchor="end" dominant-baseline="central">0.40</text><text transform="translate(530.7,768.2) scale(1.058,0.895) rotate(-90)" text-anchor="end">0.40</text><text transform="translate(404.5,680.7) scale(0.998,0.959)" text-anchor="end" dominant-baseline="central">0.45</text><text transform="translate(544.5,768.2) scale(1.058,0.895) rotate(-90)" text-anchor="end">0.45</text><text transform="translate(404.5,671.2) scale(0.998,0.959)" text-anchor="end" dominant-baseline="central">0.50</text><text transform="translate(558.3,768.2) scale(1.058,0.895) rotate(-90)" text-anchor="end">0.50</text><text transform="translate(404.5,661.7) scale(0.998,0.959)" text-anchor="end" dominant-baseline="central">0.55</text><text transform="translate(572.2,768.2) scale(1.058,0.895) rotate(-90)" text-anchor="end">0.55</text><text transform="translate(404.5,652.2) scale(0.998,0.959)" text-anchor="end" dominant-baseline="central">0.60</text><text transform="translate(586.0,768.2) scale(1.058,0.895) rotate(-90)" text-anchor="end">0.60</text><text transform="translate(404.5,642.6) scale(0.998,0.959)" text-anchor="end" dominant-baseline="central">0.65</text><text transform="translate(599.8,768.2) scale(1.058,0.895) rotate(-90)" text-anchor="end">0.65</text><text transform="translate(404.5,633.1) scale(0.998,0.959)" text-anchor="end" dominant-baseline="central">0.70</text><text transform="translate(613.6,768.2) scale(1.058,0.895) rotate(-90)" text-anchor="end">0.70</text><text transform="translate(404.5,623.6) scale(0.998,0.959)" text-anchor="end" dominant-baseline="central">0.75</text><text transform="translate(627.5,768.2) scale(1.058,0.895) rotate(-90)" text-anchor="end">0.75</text><text transform="translate(404.5,614.1) scale(0.998,0.959)" text-anchor="end" dominant-baseline="central">0.80</text><text transform="translate(641.3,768.2) scale(1.058,0.895) rotate(-90)" text-anchor="end">0.80</text><text transform="translate(404.5,604.6) scale(0.998,0.959)" text-anchor="end" dominant-baseline="central">0.85</text><text transform="translate(655.1,768.2) scale(1.058,0.895) rotate(-90)" text-anchor="end">0.85</text><text transform="translate(404.5,595.1) scale(0.998,0.959)" text-anchor="end" dominant-baseline="central">0.90</text><text transform="translate(668.9,768.2) scale(1.058,0.895) rotate(-90)" text-anchor="end">0.90</text><text transform="translate(404.5,585.6) scale(0.998,0.959)" text-anchor="end" dominant-baseline="central">0.95</text><text transform="translate(682.8,768.2) scale(1.058,0.895) rotate(-90)" text-anchor="end">0.95</text></g><g font-family='"Liberation Sans",sans-serif' fill="#000" font-size="16.2"><text transform="translate(544.9,807.8) scale(1.058,0.927)" text-anchor="middle">CO2</text><text transform="translate(372.7,670.6) scale(1.058,0.927) rotate(-90)" text-anchor="middle">ICT</text></g>
<g font-family='"Liberation Serif",serif' font-weight="bold" font-size="17.7" fill="#000">
<text x="7.8" y="12.9">A.</text><text x="34.2" y="12.9">Short-term</text>
<text x="7.8" y="298.0">B.</text><text x="34.2" y="298.0">Medium-term</text>
<text x="7.8" y="567.6">C.</text><text x="34.2" y="567.6">Long-term</text>
</g></svg></body></html>
